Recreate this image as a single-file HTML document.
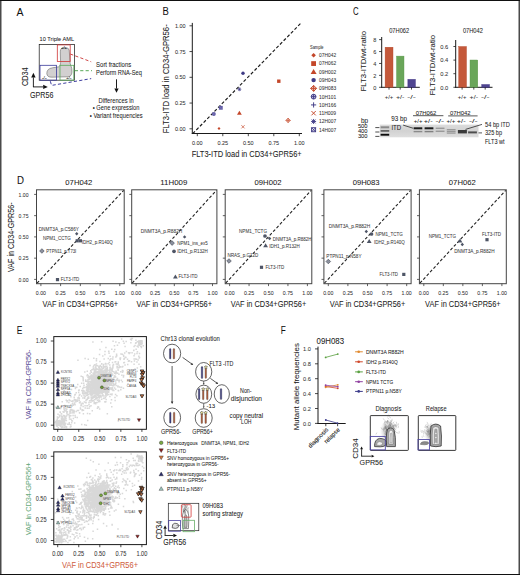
<!DOCTYPE html>
<html><head><meta charset="utf-8"><style>
html,body{margin:0;padding:0;background:#fff;width:520px;height:575px;overflow:hidden}
svg{display:block;font-family:"Liberation Sans", sans-serif}
</style></head><body>
<svg width="520" height="575" viewBox="0 0 520 575">
<rect x="0" y="0" width="520" height="575" fill="#fff"/>
<rect x="0" y="0" width="1.5" height="575" fill="#4a4a4a" stroke="none" stroke-width="0.8"/>
<rect x="518.5" y="0" width="1.5" height="575" fill="#4a4a4a" stroke="none" stroke-width="0.8"/>
<rect x="0" y="0" width="520" height="1" fill="#111" stroke="none" stroke-width="0.8"/>
<rect x="0" y="574" width="520" height="1" fill="#111" stroke="none" stroke-width="0.8"/>
<text x="16.5" y="15.6" font-size="10" text-anchor="start" fill="#111" textLength="7" lengthAdjust="spacingAndGlyphs" stroke="#111" stroke-width="0.05">A</text>
<text x="162.5" y="15.4" font-size="10" text-anchor="start" fill="#111" textLength="6.3" lengthAdjust="spacingAndGlyphs" stroke="#111" stroke-width="0.05">B</text>
<text x="353" y="14.8" font-size="10" text-anchor="start" fill="#111" textLength="5.6" lengthAdjust="spacingAndGlyphs" stroke="#111" stroke-width="0.05">C</text>
<text x="16.9" y="183.8" font-size="10" text-anchor="start" fill="#111" textLength="7" lengthAdjust="spacingAndGlyphs" stroke="#111" stroke-width="0.05">D</text>
<text x="16.7" y="333.6" font-size="10" text-anchor="start" fill="#111" textLength="5.6" lengthAdjust="spacingAndGlyphs" stroke="#111" stroke-width="0.05">E</text>
<text x="280.8" y="333.6" font-size="10" text-anchor="start" fill="#111" textLength="5" lengthAdjust="spacingAndGlyphs" stroke="#111" stroke-width="0.05">F</text>
<text x="56.8" y="40.92" font-size="6.16" text-anchor="middle" fill="#222" textLength="34.6" lengthAdjust="spacingAndGlyphs" stroke="#222" stroke-width="0.05">10 Triple AML</text>
<path d="M60.7,49.5 Q61,47.6 64.5,47.4 Q68.8,47.4 69.2,50 L70.2,63.5 Q72.4,69 72,72 Q71.6,76.5 68,76.8 L52,77.2 Q47,77.4 46.8,73.4 Q46.8,68.6 52.5,67.8 L58.5,66.8 Q60.8,66 60.6,62.5 L60.3,53 Q60.2,51 60.7,49.5 Z" fill="#d2d0d0" stroke="#444" stroke-width="0.45"/>
<rect x="39.2" y="44.4" width="35.4" height="35.8" fill="none" stroke="#111" stroke-width="0.7"/>
<rect x="57.3" y="44.9" width="12.9" height="16.5" fill="none" stroke="#d03535" stroke-width="0.8"/>
<rect x="40" y="65.3" width="16.5" height="14.9" fill="none" stroke="#3a3a9a" stroke-width="0.8"/>
<rect x="60" y="65.3" width="13.8" height="14.9" fill="none" stroke="#5aaa5a" stroke-width="0.8"/>
<text x="64" y="49.49" font-size="3.3" text-anchor="middle" fill="#111" textLength="5.5" lengthAdjust="spacingAndGlyphs" stroke="#111" stroke-width="0.05">+/+</text>
<text x="44.3" y="78.59" font-size="3.3" text-anchor="middle" fill="#333" textLength="4.6" lengthAdjust="spacingAndGlyphs" stroke="#333" stroke-width="0.05">-/-</text>
<text x="68.8" y="78.99" font-size="3.3" text-anchor="middle" fill="#333" textLength="5" lengthAdjust="spacingAndGlyphs" stroke="#333" stroke-width="0.05">+/-</text>
<line x1="33.4" y1="87" x2="33.4" y2="77.4" stroke="#111" stroke-width="0.9"/>
<polygon points="33.4,72.8 35.6,77.4 31.2,77.4" fill="#111" stroke="none" stroke-width="0.5"/>
<line x1="33" y1="86.9" x2="43.2" y2="86.9" stroke="#111" stroke-width="0.9"/>
<polygon points="47.8,86.9 43.2,89.1 43.2,84.7" fill="#111" stroke="none" stroke-width="0.5"/>
<text x="0" y="3.01" font-size="8.36" text-anchor="middle" fill="#222" transform="translate(25 76.7) rotate(-90)" stroke="#222" stroke-width="0.05" textLength="18.8" lengthAdjust="spacingAndGlyphs">CD34</text>
<text x="30" y="97.61" font-size="8.36" text-anchor="start" fill="#222" textLength="23.4" lengthAdjust="spacingAndGlyphs" stroke="#222" stroke-width="0.05">GPR56</text>
<line x1="70.2" y1="54" x2="91.2" y2="61.8" stroke="#d04848" stroke-width="1" stroke-dasharray="3.2,2.2"/>
<line x1="74.8" y1="70.7" x2="92" y2="70.7" stroke="#58a858" stroke-width="1" stroke-dasharray="3.2,2.2"/>
<path d="M50.3,81.2 L51.6,85.4 L91.2,78.6" fill="none" stroke="#4040a0" stroke-width="1" stroke-dasharray="3.2,2.2"/>
<text x="96.1" y="67.28" font-size="6.6" text-anchor="start" fill="#222" textLength="35.1" lengthAdjust="spacingAndGlyphs" stroke="#222" stroke-width="0.05">Sort fractions</text>
<text x="96.1" y="75.18" font-size="6.6" text-anchor="start" fill="#222" textLength="45.7" lengthAdjust="spacingAndGlyphs" stroke="#222" stroke-width="0.05">Perform RNA-Seq</text>
<line x1="116.5" y1="79.3" x2="116.5" y2="88.6" stroke="#111" stroke-width="0.95"/>
<polygon points="116.5,92.8 114.4,88.6 118.6,88.6" fill="#111" stroke="none" stroke-width="0.5"/>
<text x="116.1" y="102.58" font-size="6.6" text-anchor="middle" fill="#222" textLength="35.1" lengthAdjust="spacingAndGlyphs" stroke="#222" stroke-width="0.05">Differences in</text>
<text x="116.1" y="110.28" font-size="6.6" text-anchor="middle" fill="#222" textLength="46.6" lengthAdjust="spacingAndGlyphs" stroke="#222" stroke-width="0.05">• Gene expression</text>
<text x="116.2" y="117.98" font-size="6.6" text-anchor="middle" fill="#222" textLength="52.8" lengthAdjust="spacingAndGlyphs" stroke="#222" stroke-width="0.05">• Variant frequencies</text>
<line x1="192.3" y1="22.9" x2="192.3" y2="134" stroke="#1a1a1a" stroke-width="1"/>
<line x1="191.8" y1="133.5" x2="302" y2="133.5" stroke="#1a1a1a" stroke-width="1"/>
<line x1="189.5" y1="128.8" x2="192.3" y2="128.8" stroke="#1a1a1a" stroke-width="0.8"/>
<text x="185.6" y="130.98" font-size="6.05" text-anchor="end" fill="#333" textLength="10.7" lengthAdjust="spacingAndGlyphs" stroke="#333" stroke-width="0.05">0.00</text>
<line x1="197.3" y1="133.5" x2="197.3" y2="136.2" stroke="#1a1a1a" stroke-width="0.8"/>
<text x="197.3" y="144.98" font-size="6.05" text-anchor="middle" fill="#333" textLength="10.7" lengthAdjust="spacingAndGlyphs" stroke="#333" stroke-width="0.05">0.00</text>
<line x1="189.5" y1="103.05" x2="192.3" y2="103.05" stroke="#1a1a1a" stroke-width="0.8"/>
<text x="185.6" y="105.23" font-size="6.05" text-anchor="end" fill="#333" textLength="10.7" lengthAdjust="spacingAndGlyphs" stroke="#333" stroke-width="0.05">0.25</text>
<line x1="222.8" y1="133.5" x2="222.8" y2="136.2" stroke="#1a1a1a" stroke-width="0.8"/>
<text x="222.8" y="144.98" font-size="6.05" text-anchor="middle" fill="#333" textLength="10.7" lengthAdjust="spacingAndGlyphs" stroke="#333" stroke-width="0.05">0.25</text>
<line x1="189.5" y1="77.3" x2="192.3" y2="77.3" stroke="#1a1a1a" stroke-width="0.8"/>
<text x="185.6" y="79.48" font-size="6.05" text-anchor="end" fill="#333" textLength="10.7" lengthAdjust="spacingAndGlyphs" stroke="#333" stroke-width="0.05">0.50</text>
<line x1="248.3" y1="133.5" x2="248.3" y2="136.2" stroke="#1a1a1a" stroke-width="0.8"/>
<text x="248.3" y="144.98" font-size="6.05" text-anchor="middle" fill="#333" textLength="10.7" lengthAdjust="spacingAndGlyphs" stroke="#333" stroke-width="0.05">0.50</text>
<line x1="189.5" y1="51.55" x2="192.3" y2="51.55" stroke="#1a1a1a" stroke-width="0.8"/>
<text x="185.6" y="53.73" font-size="6.05" text-anchor="end" fill="#333" textLength="10.7" lengthAdjust="spacingAndGlyphs" stroke="#333" stroke-width="0.05">0.75</text>
<line x1="273.8" y1="133.5" x2="273.8" y2="136.2" stroke="#1a1a1a" stroke-width="0.8"/>
<text x="273.8" y="144.98" font-size="6.05" text-anchor="middle" fill="#333" textLength="10.7" lengthAdjust="spacingAndGlyphs" stroke="#333" stroke-width="0.05">0.75</text>
<line x1="189.5" y1="25.8" x2="192.3" y2="25.8" stroke="#1a1a1a" stroke-width="0.8"/>
<text x="185.6" y="27.98" font-size="6.05" text-anchor="end" fill="#333" textLength="10.7" lengthAdjust="spacingAndGlyphs" stroke="#333" stroke-width="0.05">1.00</text>
<line x1="299.3" y1="133.5" x2="299.3" y2="136.2" stroke="#1a1a1a" stroke-width="0.8"/>
<text x="299.3" y="144.98" font-size="6.05" text-anchor="middle" fill="#333" textLength="10.7" lengthAdjust="spacingAndGlyphs" stroke="#333" stroke-width="0.05">1.00</text>
<text x="191.7" y="156.73" font-size="8.14" text-anchor="start" fill="#222" textLength="110" lengthAdjust="spacingAndGlyphs" stroke="#222" stroke-width="0.05">FLT3-ITD load in CD34+GPR56+</text>
<text x="0" y="2.93" font-size="8.14" text-anchor="middle" fill="#222" transform="translate(166.2 78.8) rotate(-90)" stroke="#222" stroke-width="0.05" textLength="109" lengthAdjust="spacingAndGlyphs">FLT3-ITD load in CD34-GPR56-</text>
<line x1="192.7" y1="133.7" x2="301.3" y2="22.7" stroke="#1a1a1a" stroke-width="1.15" stroke-dasharray="3.2,2"/>
<polygon points="219,127 220.5,128.5 219,130 217.5,128.5" fill="#c4472a" stroke="none" stroke-width="0.5"/>
<rect x="277.1" y="79.5" width="3.4" height="3.4" fill="#c4472a" stroke="none" stroke-width="0.8"/>
<polygon points="239.4,110.8 241.8,114.8 237,114.8" fill="#c4472a" stroke="none" stroke-width="0.5"/>
<circle cx="243" cy="73.3" r="1.7" fill="#3f3a85" stroke="none" stroke-width="0.5"/>
<polygon points="288.1,118.1 290.4,120.4 288.1,122.7 285.8,120.4" fill="#f0c8b8" stroke="#c4472a" stroke-width="0.6"/>
<line x1="285.8" y1="120.4" x2="290.4" y2="120.4" stroke="#c4472a" stroke-width="0.6"/>
<line x1="288.1" y1="118.1" x2="288.1" y2="122.7" stroke="#c4472a" stroke-width="0.6"/>
<rect x="218.9" y="105.9" width="3.8" height="3.8" fill="#5d57a2" stroke="none" stroke-width="0.8"/>
<line x1="219.2" y1="106.2" x2="222.4" y2="109.4" stroke="#8a85c0" stroke-width="0.4"/>
<line x1="219.2" y1="109.4" x2="222.4" y2="106.2" stroke="#8a85c0" stroke-width="0.4"/>
<circle cx="213.8" cy="114" r="1.95" fill="#5d57a2" stroke="none" stroke-width="0.5"/>
<line x1="212.1" y1="114" x2="215.5" y2="114" stroke="#8a85c0" stroke-width="0.4"/>
<line x1="213.8" y1="112.3" x2="213.8" y2="115.7" stroke="#8a85c0" stroke-width="0.4"/>
<line x1="241.4" y1="125.2" x2="244.6" y2="128.4" stroke="#c4472a" stroke-width="0.7"/>
<line x1="241.4" y1="128.4" x2="244.6" y2="125.2" stroke="#c4472a" stroke-width="0.7"/>
<line x1="237.5" y1="89.3" x2="241.3" y2="89.3" stroke="#3f3a85" stroke-width="0.7"/>
<line x1="239.4" y1="87.4" x2="239.4" y2="91.2" stroke="#3f3a85" stroke-width="0.7"/>
<line x1="237.97" y1="87.88" x2="240.83" y2="90.72" stroke="#3f3a85" stroke-width="0.7"/>
<line x1="237.97" y1="90.72" x2="240.83" y2="87.88" stroke="#3f3a85" stroke-width="0.7"/>
<text x="310" y="48.58" font-size="5.5" text-anchor="start" fill="#333" textLength="13.5" lengthAdjust="spacingAndGlyphs" stroke="#333" stroke-width="0.05">Sample</text>
<polygon points="313.6,53 315.9,55.3 313.6,57.6 311.3,55.3" fill="#c4472a" stroke="none" stroke-width="0.5"/>
<text x="319.1" y="57.2" font-size="5.28" text-anchor="start" fill="#333" textLength="17" lengthAdjust="spacingAndGlyphs" stroke="#333" stroke-width="0.05">07H042</text>
<rect x="311.2" y="61.17" width="4.8" height="4.8" fill="#c4472a" stroke="none" stroke-width="0.8"/>
<text x="319.1" y="65.47" font-size="5.28" text-anchor="start" fill="#333" textLength="17" lengthAdjust="spacingAndGlyphs" stroke="#333" stroke-width="0.05">07H062</text>
<polygon points="313.6,68.97 316.6,73.97 310.6,73.97" fill="#c4472a" stroke="none" stroke-width="0.5"/>
<text x="319.1" y="73.74" font-size="5.28" text-anchor="start" fill="#333" textLength="17" lengthAdjust="spacingAndGlyphs" stroke="#333" stroke-width="0.05">09H002</text>
<circle cx="313.6" cy="80.11" r="2.2" fill="#3f3a85" stroke="none" stroke-width="0.5"/>
<text x="319.1" y="82.01" font-size="5.28" text-anchor="start" fill="#333" textLength="17" lengthAdjust="spacingAndGlyphs" stroke="#333" stroke-width="0.05">09H043</text>
<polygon points="313.6,85.38 316.6,88.38 313.6,91.38 310.6,88.38" fill="#f0c8b8" stroke="#c4472a" stroke-width="0.95"/>
<line x1="310.6" y1="88.38" x2="316.6" y2="88.38" stroke="#c4472a" stroke-width="0.95"/>
<line x1="313.6" y1="85.38" x2="313.6" y2="91.38" stroke="#c4472a" stroke-width="0.95"/>
<text x="319.1" y="90.28" font-size="5.28" text-anchor="start" fill="#333" textLength="17" lengthAdjust="spacingAndGlyphs" stroke="#333" stroke-width="0.05">09H083</text>
<circle cx="313.6" cy="96.65" r="2.4" fill="#c8c6e4" stroke="#3f3a85" stroke-width="0.95"/>
<line x1="311.2" y1="96.65" x2="316" y2="96.65" stroke="#3f3a85" stroke-width="0.95"/>
<line x1="313.6" y1="94.25" x2="313.6" y2="99.05" stroke="#3f3a85" stroke-width="0.95"/>
<text x="319.1" y="98.55" font-size="5.28" text-anchor="start" fill="#333" textLength="17" lengthAdjust="spacingAndGlyphs" stroke="#333" stroke-width="0.05">10H101</text>
<line x1="311" y1="104.92" x2="316.2" y2="104.92" stroke="#3f3a85" stroke-width="0.95"/>
<line x1="313.6" y1="102.32" x2="313.6" y2="107.52" stroke="#3f3a85" stroke-width="0.95"/>
<text x="319.1" y="106.82" font-size="5.28" text-anchor="start" fill="#333" textLength="17" lengthAdjust="spacingAndGlyphs" stroke="#333" stroke-width="0.05">10H166</text>
<line x1="311.44" y1="111.03" x2="315.76" y2="115.35" stroke="#c4472a" stroke-width="0.95"/>
<line x1="311.44" y1="115.35" x2="315.76" y2="111.03" stroke="#c4472a" stroke-width="0.95"/>
<text x="319.1" y="115.09" font-size="5.28" text-anchor="start" fill="#333" textLength="17" lengthAdjust="spacingAndGlyphs" stroke="#333" stroke-width="0.05">11H009</text>
<line x1="311.1" y1="121.46" x2="316.1" y2="121.46" stroke="#3f3a85" stroke-width="0.95"/>
<line x1="313.6" y1="118.96" x2="313.6" y2="123.96" stroke="#3f3a85" stroke-width="0.95"/>
<line x1="311.73" y1="119.58" x2="315.48" y2="123.33" stroke="#3f3a85" stroke-width="0.95"/>
<line x1="311.73" y1="123.33" x2="315.48" y2="119.58" stroke="#3f3a85" stroke-width="0.95"/>
<text x="319.1" y="123.36" font-size="5.28" text-anchor="start" fill="#333" textLength="17" lengthAdjust="spacingAndGlyphs" stroke="#333" stroke-width="0.05">12H007</text>
<rect x="311.6" y="127.73" width="4" height="4" fill="none" stroke="#3f3a85" stroke-width="0.95"/>
<line x1="311.6" y1="127.73" x2="315.6" y2="131.73" stroke="#3f3a85" stroke-width="0.95"/>
<line x1="311.6" y1="131.73" x2="315.6" y2="127.73" stroke="#3f3a85" stroke-width="0.95"/>
<text x="319.1" y="131.63" font-size="5.28" text-anchor="start" fill="#333" textLength="17" lengthAdjust="spacingAndGlyphs" stroke="#333" stroke-width="0.05">14H007</text>
<text x="399.2" y="33.28" font-size="6.6" text-anchor="middle" fill="#222" textLength="20" lengthAdjust="spacingAndGlyphs" stroke="#222" stroke-width="0.05">07H062</text>
<line x1="381.7" y1="37" x2="381.7" y2="87.8" stroke="#1a1a1a" stroke-width="1"/>
<line x1="381.2" y1="87.3" x2="419.8" y2="87.3" stroke="#1a1a1a" stroke-width="1"/>
<line x1="379.1" y1="87.3" x2="381.7" y2="87.3" stroke="#1a1a1a" stroke-width="0.8"/>
<text x="376.4" y="89.52" font-size="6.16" text-anchor="end" fill="#333" textLength="3.11" lengthAdjust="spacingAndGlyphs" stroke="#333" stroke-width="0.05">0</text>
<line x1="379.1" y1="75.38" x2="381.7" y2="75.38" stroke="#1a1a1a" stroke-width="0.8"/>
<text x="376.4" y="77.6" font-size="6.16" text-anchor="end" fill="#333" textLength="3.11" lengthAdjust="spacingAndGlyphs" stroke="#333" stroke-width="0.05">2</text>
<line x1="379.1" y1="63.46" x2="381.7" y2="63.46" stroke="#1a1a1a" stroke-width="0.8"/>
<text x="376.4" y="65.68" font-size="6.16" text-anchor="end" fill="#333" textLength="3.11" lengthAdjust="spacingAndGlyphs" stroke="#333" stroke-width="0.05">4</text>
<line x1="379.1" y1="51.54" x2="381.7" y2="51.54" stroke="#1a1a1a" stroke-width="0.8"/>
<text x="376.4" y="53.76" font-size="6.16" text-anchor="end" fill="#333" textLength="3.11" lengthAdjust="spacingAndGlyphs" stroke="#333" stroke-width="0.05">6</text>
<line x1="379.1" y1="39.62" x2="381.7" y2="39.62" stroke="#1a1a1a" stroke-width="0.8"/>
<text x="376.4" y="41.84" font-size="6.16" text-anchor="end" fill="#333" textLength="3.11" lengthAdjust="spacingAndGlyphs" stroke="#333" stroke-width="0.05">8</text>
<rect x="385.1" y="47.2" width="7.9" height="40.1" fill="#c4583a" stroke="#b5482a" stroke-width="0.4"/>
<rect x="396.5" y="56.1" width="7.5" height="31.2" fill="#6aa65a" stroke="#5c9a4c" stroke-width="0.4"/>
<rect x="407.9" y="79.4" width="7.4" height="7.9" fill="#4f4590" stroke="#3a2f80" stroke-width="0.5"/>
<line x1="389" y1="87.3" x2="389" y2="89.6" stroke="#1a1a1a" stroke-width="0.8"/>
<text x="389" y="98.64" font-size="5.94" text-anchor="middle" fill="#333" textLength="8.5" lengthAdjust="spacingAndGlyphs" stroke="#333" stroke-width="0.05">+/+</text>
<line x1="400.2" y1="87.3" x2="400.2" y2="89.6" stroke="#1a1a1a" stroke-width="0.8"/>
<text x="400.2" y="98.64" font-size="5.94" text-anchor="middle" fill="#333" textLength="8.5" lengthAdjust="spacingAndGlyphs" stroke="#333" stroke-width="0.05">+/-</text>
<line x1="411.5" y1="87.3" x2="411.5" y2="89.6" stroke="#1a1a1a" stroke-width="0.8"/>
<text x="411.5" y="98.64" font-size="5.94" text-anchor="middle" fill="#333" textLength="8.5" lengthAdjust="spacingAndGlyphs" stroke="#333" stroke-width="0.05">-/-</text>
<text x="0" y="2.85" font-size="7.92" text-anchor="middle" fill="#222" transform="translate(362.8 61.2) rotate(-90)" stroke="#222" stroke-width="0.05" textLength="60.6" lengthAdjust="spacingAndGlyphs">FLT3-ITD/wt-ratio</text>
<text x="472.9" y="33.28" font-size="6.6" text-anchor="middle" fill="#222" textLength="20" lengthAdjust="spacingAndGlyphs" stroke="#222" stroke-width="0.05">07H042</text>
<line x1="455.7" y1="40" x2="455.7" y2="87.8" stroke="#1a1a1a" stroke-width="1"/>
<line x1="455.2" y1="87.3" x2="492.5" y2="87.3" stroke="#1a1a1a" stroke-width="1"/>
<line x1="453.4" y1="87.3" x2="455.7" y2="87.3" stroke="#1a1a1a" stroke-width="0.8"/>
<text x="448.3" y="89.52" font-size="6.16" text-anchor="end" fill="#333" textLength="8" lengthAdjust="spacingAndGlyphs" stroke="#333" stroke-width="0.05">0.0</text>
<line x1="453.4" y1="73.7" x2="455.7" y2="73.7" stroke="#1a1a1a" stroke-width="0.8"/>
<text x="448.3" y="75.92" font-size="6.16" text-anchor="end" fill="#333" textLength="8" lengthAdjust="spacingAndGlyphs" stroke="#333" stroke-width="0.05">0.2</text>
<line x1="453.4" y1="60.1" x2="455.7" y2="60.1" stroke="#1a1a1a" stroke-width="0.8"/>
<text x="448.3" y="62.32" font-size="6.16" text-anchor="end" fill="#333" textLength="8" lengthAdjust="spacingAndGlyphs" stroke="#333" stroke-width="0.05">0.4</text>
<line x1="453.4" y1="46.5" x2="455.7" y2="46.5" stroke="#1a1a1a" stroke-width="0.8"/>
<text x="448.3" y="48.72" font-size="6.16" text-anchor="end" fill="#333" textLength="8" lengthAdjust="spacingAndGlyphs" stroke="#333" stroke-width="0.05">0.6</text>
<rect x="458.7" y="46.5" width="7.8" height="40.8" fill="#c4583a" stroke="#b5482a" stroke-width="0.4"/>
<rect x="470" y="60" width="7.8" height="27.3" fill="#6aa65a" stroke="#5c9a4c" stroke-width="0.4"/>
<rect x="481.8" y="84.6" width="7.6" height="2.7" fill="#4f4590" stroke="#3a2f80" stroke-width="0.5"/>
<line x1="462.1" y1="87.3" x2="462.1" y2="89.6" stroke="#1a1a1a" stroke-width="0.8"/>
<text x="462.1" y="98.64" font-size="5.94" text-anchor="middle" fill="#333" textLength="8.5" lengthAdjust="spacingAndGlyphs" stroke="#333" stroke-width="0.05">+/+</text>
<line x1="473.8" y1="87.3" x2="473.8" y2="89.6" stroke="#1a1a1a" stroke-width="0.8"/>
<text x="473.8" y="98.64" font-size="5.94" text-anchor="middle" fill="#333" textLength="8.5" lengthAdjust="spacingAndGlyphs" stroke="#333" stroke-width="0.05">+/-</text>
<line x1="485.2" y1="87.3" x2="485.2" y2="89.6" stroke="#1a1a1a" stroke-width="0.8"/>
<text x="485.2" y="98.64" font-size="5.94" text-anchor="middle" fill="#333" textLength="8.5" lengthAdjust="spacingAndGlyphs" stroke="#333" stroke-width="0.05">-/-</text>
<text x="0" y="2.85" font-size="7.92" text-anchor="middle" fill="#222" transform="translate(432.4 65.1) rotate(-90)" stroke="#222" stroke-width="0.05" textLength="60.6" lengthAdjust="spacingAndGlyphs">FLT3-ITD/wt-ratio</text>
<text x="364.5" y="122.51" font-size="7.26" text-anchor="middle" fill="#222" textLength="7.2" lengthAdjust="spacingAndGlyphs" stroke="#222" stroke-width="0.05">bp</text>
<text x="367.6" y="128.12" font-size="5.61" text-anchor="end" fill="#222" textLength="9.7" lengthAdjust="spacingAndGlyphs" stroke="#222" stroke-width="0.05">500</text>
<text x="367.6" y="133.12" font-size="5.61" text-anchor="end" fill="#222" textLength="9.7" lengthAdjust="spacingAndGlyphs" stroke="#222" stroke-width="0.05">400</text>
<text x="367.6" y="138.42" font-size="5.61" text-anchor="end" fill="#222" textLength="9.7" lengthAdjust="spacingAndGlyphs" stroke="#222" stroke-width="0.05">300</text>
<defs><linearGradient id="gelg" x1="0" y1="0" x2="0" y2="1"><stop offset="0" stop-color="#dcdcdc"/><stop offset="0.5" stop-color="#d2d2d2"/><stop offset="1" stop-color="#dedede"/></linearGradient></defs>
<rect x="379.8" y="124.6" width="98.7" height="12.7" fill="url(#gelg)" stroke="none" stroke-width="0.8"/>
<line x1="375.3" y1="127.6" x2="379.4" y2="127.6" stroke="#222" stroke-width="0.8"/>
<line x1="375.3" y1="132" x2="379.4" y2="132" stroke="#222" stroke-width="0.8"/>
<line x1="375.3" y1="136.4" x2="379.4" y2="136.4" stroke="#222" stroke-width="0.8"/>
<defs><filter id="bl" x="-20%" y="-50%" width="140%" height="200%"><feGaussianBlur stdDeviation="0.35"/></filter></defs>
<g filter="url(#bl)">
<rect x="380.6" y="126.3" width="8.6" height="2" fill="#8a8a8a" stroke="none" stroke-width="0.8"/>
<rect x="380.6" y="130" width="8.6" height="1.8" fill="#666" stroke="none" stroke-width="0.8"/>
<rect x="380.6" y="133.8" width="8.6" height="1.9" fill="#111" stroke="none" stroke-width="0.8"/>
<rect x="413.6" y="127.3" width="8.7" height="2" fill="#1e1e1e" stroke="none" stroke-width="0.8"/>
<rect x="413.6" y="130.9" width="8.7" height="1.4" fill="#8a8a8a" stroke="none" stroke-width="0.8"/>
<rect x="424.6" y="127.3" width="8.8" height="2" fill="#1e1e1e" stroke="none" stroke-width="0.8"/>
<rect x="424.6" y="130.9" width="8.8" height="1.4" fill="#808080" stroke="none" stroke-width="0.8"/>
<rect x="435.7" y="127.6" width="8.8" height="1.4" fill="#9a9a9a" stroke="none" stroke-width="0.8"/>
<rect x="435.7" y="130.6" width="8.8" height="1.4" fill="#9a9a9a" stroke="none" stroke-width="0.8"/>
<rect x="446.8" y="129.2" width="8.8" height="1.2" fill="#8e8e8e" stroke="none" stroke-width="0.8"/>
<rect x="446.8" y="131.2" width="8.8" height="1.2" fill="#8a8a8a" stroke="none" stroke-width="0.8"/>
<rect x="446.8" y="132.8" width="8.8" height="1" fill="#a0a0a0" stroke="none" stroke-width="0.8"/>
<rect x="457.9" y="130" width="9" height="3.4" fill="#3a3a3a" stroke="none" stroke-width="0.8"/>
<rect x="468.1" y="131.4" width="8.8" height="2" fill="#4e4e4e" stroke="none" stroke-width="0.8"/>
</g>
<text x="391.3" y="121.23" font-size="7.04" text-anchor="start" fill="#222" textLength="15.7" lengthAdjust="spacingAndGlyphs" stroke="#222" stroke-width="0.05">93 bp</text>
<text x="391.4" y="129.53" font-size="7.04" text-anchor="start" fill="#222" textLength="9.8" lengthAdjust="spacingAndGlyphs" stroke="#222" stroke-width="0.05">ITD</text>
<line x1="403.1" y1="125.1" x2="413" y2="128.2" stroke="#111" stroke-width="0.7"/>
<text x="426" y="114.72" font-size="6.16" text-anchor="middle" fill="#222" textLength="20.7" lengthAdjust="spacingAndGlyphs" stroke="#222" stroke-width="0.05">07H062</text>
<line x1="413" y1="115.7" x2="443.4" y2="115.7" stroke="#444" stroke-width="0.9"/>
<text x="460.3" y="114.72" font-size="6.16" text-anchor="middle" fill="#222" textLength="20.7" lengthAdjust="spacingAndGlyphs" stroke="#222" stroke-width="0.05">07H042</text>
<line x1="448.2" y1="115.9" x2="477.6" y2="115.9" stroke="#444" stroke-width="0.9"/>
<text x="418.2" y="122.62" font-size="6.16" text-anchor="middle" fill="#222" textLength="8.8" lengthAdjust="spacingAndGlyphs" stroke="#222" stroke-width="0.05">+/+</text>
<text x="428.2" y="122.62" font-size="6.16" text-anchor="middle" fill="#222" textLength="8.8" lengthAdjust="spacingAndGlyphs" stroke="#222" stroke-width="0.05">+/-</text>
<text x="439.8" y="122.62" font-size="6.16" text-anchor="middle" fill="#222" textLength="8.8" lengthAdjust="spacingAndGlyphs" stroke="#222" stroke-width="0.05">-/-</text>
<text x="450.8" y="122.62" font-size="6.16" text-anchor="middle" fill="#222" textLength="8.8" lengthAdjust="spacingAndGlyphs" stroke="#222" stroke-width="0.05">+/+</text>
<text x="461.2" y="122.62" font-size="6.16" text-anchor="middle" fill="#222" textLength="8.8" lengthAdjust="spacingAndGlyphs" stroke="#222" stroke-width="0.05">+/-</text>
<text x="473.3" y="122.62" font-size="6.16" text-anchor="middle" fill="#222" textLength="8.8" lengthAdjust="spacingAndGlyphs" stroke="#222" stroke-width="0.05">-/-</text>
<text x="485" y="126.77" font-size="7.15" text-anchor="start" fill="#222" textLength="24.9" lengthAdjust="spacingAndGlyphs" stroke="#222" stroke-width="0.05">54 bp ITD</text>
<line x1="465.5" y1="129.4" x2="482" y2="124.4" stroke="#111" stroke-width="0.7"/>
<text x="485" y="135.47" font-size="7.15" text-anchor="start" fill="#222" textLength="17" lengthAdjust="spacingAndGlyphs" stroke="#222" stroke-width="0.05">325 bp</text>
<line x1="478.5" y1="132.9" x2="482" y2="132.9" stroke="#111" stroke-width="0.7"/>
<text x="485" y="143.77" font-size="7.15" text-anchor="start" fill="#222" textLength="19.5" lengthAdjust="spacingAndGlyphs" stroke="#222" stroke-width="0.05">FLT3 wt</text>
<text x="78.8" y="184.85" font-size="7.92" text-anchor="middle" fill="#222" textLength="26.9" lengthAdjust="spacingAndGlyphs" stroke="#222" stroke-width="0.05">07H042</text>
<line x1="37" y1="283.2" x2="123.7" y2="190.3" stroke="#222" stroke-width="1.1" stroke-dasharray="3,2"/>
<rect x="36.5" y="189.8" width="87.7" height="93.9" fill="none" stroke="#444" stroke-width="1"/>
<line x1="34.1" y1="279.4" x2="36.5" y2="279.4" stroke="#3a3a3a" stroke-width="0.8"/>
<line x1="40.9" y1="283.7" x2="40.9" y2="286.1" stroke="#3a3a3a" stroke-width="0.8"/>
<text x="40.9" y="294.88" font-size="6.05" text-anchor="middle" fill="#333" textLength="10.2" lengthAdjust="spacingAndGlyphs" stroke="#333" stroke-width="0.05">0.00</text>
<text x="28.5" y="281.62" font-size="6.16" text-anchor="end" fill="#333" textLength="9.9" lengthAdjust="spacingAndGlyphs" stroke="#333" stroke-width="0.05">0.00</text>
<line x1="34.1" y1="258.15" x2="36.5" y2="258.15" stroke="#3a3a3a" stroke-width="0.8"/>
<line x1="60.62" y1="283.7" x2="60.62" y2="286.1" stroke="#3a3a3a" stroke-width="0.8"/>
<text x="60.62" y="294.88" font-size="6.05" text-anchor="middle" fill="#333" textLength="10.2" lengthAdjust="spacingAndGlyphs" stroke="#333" stroke-width="0.05">0.25</text>
<text x="28.5" y="260.37" font-size="6.16" text-anchor="end" fill="#333" textLength="9.9" lengthAdjust="spacingAndGlyphs" stroke="#333" stroke-width="0.05">0.25</text>
<line x1="34.1" y1="236.9" x2="36.5" y2="236.9" stroke="#3a3a3a" stroke-width="0.8"/>
<line x1="80.35" y1="283.7" x2="80.35" y2="286.1" stroke="#3a3a3a" stroke-width="0.8"/>
<text x="80.35" y="294.88" font-size="6.05" text-anchor="middle" fill="#333" textLength="10.2" lengthAdjust="spacingAndGlyphs" stroke="#333" stroke-width="0.05">0.50</text>
<text x="28.5" y="239.12" font-size="6.16" text-anchor="end" fill="#333" textLength="9.9" lengthAdjust="spacingAndGlyphs" stroke="#333" stroke-width="0.05">0.50</text>
<line x1="34.1" y1="215.65" x2="36.5" y2="215.65" stroke="#3a3a3a" stroke-width="0.8"/>
<line x1="100.08" y1="283.7" x2="100.08" y2="286.1" stroke="#3a3a3a" stroke-width="0.8"/>
<text x="100.08" y="294.88" font-size="6.05" text-anchor="middle" fill="#333" textLength="10.2" lengthAdjust="spacingAndGlyphs" stroke="#333" stroke-width="0.05">0.75</text>
<text x="28.5" y="217.87" font-size="6.16" text-anchor="end" fill="#333" textLength="9.9" lengthAdjust="spacingAndGlyphs" stroke="#333" stroke-width="0.05">0.75</text>
<line x1="34.1" y1="194.4" x2="36.5" y2="194.4" stroke="#3a3a3a" stroke-width="0.8"/>
<line x1="119.8" y1="283.7" x2="119.8" y2="286.1" stroke="#3a3a3a" stroke-width="0.8"/>
<text x="119.8" y="294.88" font-size="6.05" text-anchor="middle" fill="#333" textLength="10.2" lengthAdjust="spacingAndGlyphs" stroke="#333" stroke-width="0.05">1.00</text>
<text x="28.5" y="196.62" font-size="6.16" text-anchor="end" fill="#333" textLength="9.9" lengthAdjust="spacingAndGlyphs" stroke="#333" stroke-width="0.05">1.00</text>
<text x="80.35" y="307.25" font-size="8.47" text-anchor="middle" fill="#222" textLength="75.5" lengthAdjust="spacingAndGlyphs" stroke="#222" stroke-width="0.05">VAF in CD34+GPR56+</text>
<text x="173.8" y="184.85" font-size="7.92" text-anchor="middle" fill="#222" textLength="26.9" lengthAdjust="spacingAndGlyphs" stroke="#222" stroke-width="0.05">11H009</text>
<line x1="132.2" y1="283.2" x2="216.4" y2="190.3" stroke="#222" stroke-width="1.1" stroke-dasharray="3,2"/>
<rect x="131.7" y="189.8" width="85.2" height="93.9" fill="none" stroke="#444" stroke-width="1"/>
<line x1="129.3" y1="279.4" x2="131.7" y2="279.4" stroke="#3a3a3a" stroke-width="0.8"/>
<line x1="136.1" y1="283.7" x2="136.1" y2="286.1" stroke="#3a3a3a" stroke-width="0.8"/>
<text x="136.1" y="294.88" font-size="6.05" text-anchor="middle" fill="#333" textLength="10.2" lengthAdjust="spacingAndGlyphs" stroke="#333" stroke-width="0.05">0.00</text>
<line x1="129.3" y1="258.15" x2="131.7" y2="258.15" stroke="#3a3a3a" stroke-width="0.8"/>
<line x1="155.2" y1="283.7" x2="155.2" y2="286.1" stroke="#3a3a3a" stroke-width="0.8"/>
<text x="155.2" y="294.88" font-size="6.05" text-anchor="middle" fill="#333" textLength="10.2" lengthAdjust="spacingAndGlyphs" stroke="#333" stroke-width="0.05">0.25</text>
<line x1="129.3" y1="236.9" x2="131.7" y2="236.9" stroke="#3a3a3a" stroke-width="0.8"/>
<line x1="174.3" y1="283.7" x2="174.3" y2="286.1" stroke="#3a3a3a" stroke-width="0.8"/>
<text x="174.3" y="294.88" font-size="6.05" text-anchor="middle" fill="#333" textLength="10.2" lengthAdjust="spacingAndGlyphs" stroke="#333" stroke-width="0.05">0.50</text>
<line x1="129.3" y1="215.65" x2="131.7" y2="215.65" stroke="#3a3a3a" stroke-width="0.8"/>
<line x1="193.4" y1="283.7" x2="193.4" y2="286.1" stroke="#3a3a3a" stroke-width="0.8"/>
<text x="193.4" y="294.88" font-size="6.05" text-anchor="middle" fill="#333" textLength="10.2" lengthAdjust="spacingAndGlyphs" stroke="#333" stroke-width="0.05">0.75</text>
<line x1="129.3" y1="194.4" x2="131.7" y2="194.4" stroke="#3a3a3a" stroke-width="0.8"/>
<line x1="212.5" y1="283.7" x2="212.5" y2="286.1" stroke="#3a3a3a" stroke-width="0.8"/>
<text x="212.5" y="294.88" font-size="6.05" text-anchor="middle" fill="#333" textLength="10.2" lengthAdjust="spacingAndGlyphs" stroke="#333" stroke-width="0.05">1.00</text>
<text x="174.3" y="307.25" font-size="8.47" text-anchor="middle" fill="#222" textLength="75.5" lengthAdjust="spacingAndGlyphs" stroke="#222" stroke-width="0.05">VAF in CD34+GPR56+</text>
<text x="268" y="184.85" font-size="7.92" text-anchor="middle" fill="#222" textLength="26.9" lengthAdjust="spacingAndGlyphs" stroke="#222" stroke-width="0.05">09H002</text>
<line x1="225.7" y1="283.2" x2="311.3" y2="190.3" stroke="#222" stroke-width="1.1" stroke-dasharray="3,2"/>
<rect x="225.2" y="189.8" width="86.6" height="93.9" fill="none" stroke="#444" stroke-width="1"/>
<line x1="222.8" y1="279.4" x2="225.2" y2="279.4" stroke="#3a3a3a" stroke-width="0.8"/>
<line x1="229.6" y1="283.7" x2="229.6" y2="286.1" stroke="#3a3a3a" stroke-width="0.8"/>
<text x="229.6" y="294.88" font-size="6.05" text-anchor="middle" fill="#333" textLength="10.2" lengthAdjust="spacingAndGlyphs" stroke="#333" stroke-width="0.05">0.00</text>
<line x1="222.8" y1="258.15" x2="225.2" y2="258.15" stroke="#3a3a3a" stroke-width="0.8"/>
<line x1="249.05" y1="283.7" x2="249.05" y2="286.1" stroke="#3a3a3a" stroke-width="0.8"/>
<text x="249.05" y="294.88" font-size="6.05" text-anchor="middle" fill="#333" textLength="10.2" lengthAdjust="spacingAndGlyphs" stroke="#333" stroke-width="0.05">0.25</text>
<line x1="222.8" y1="236.9" x2="225.2" y2="236.9" stroke="#3a3a3a" stroke-width="0.8"/>
<line x1="268.5" y1="283.7" x2="268.5" y2="286.1" stroke="#3a3a3a" stroke-width="0.8"/>
<text x="268.5" y="294.88" font-size="6.05" text-anchor="middle" fill="#333" textLength="10.2" lengthAdjust="spacingAndGlyphs" stroke="#333" stroke-width="0.05">0.50</text>
<line x1="222.8" y1="215.65" x2="225.2" y2="215.65" stroke="#3a3a3a" stroke-width="0.8"/>
<line x1="287.95" y1="283.7" x2="287.95" y2="286.1" stroke="#3a3a3a" stroke-width="0.8"/>
<text x="287.95" y="294.88" font-size="6.05" text-anchor="middle" fill="#333" textLength="10.2" lengthAdjust="spacingAndGlyphs" stroke="#333" stroke-width="0.05">0.75</text>
<line x1="222.8" y1="194.4" x2="225.2" y2="194.4" stroke="#3a3a3a" stroke-width="0.8"/>
<line x1="307.4" y1="283.7" x2="307.4" y2="286.1" stroke="#3a3a3a" stroke-width="0.8"/>
<text x="307.4" y="294.88" font-size="6.05" text-anchor="middle" fill="#333" textLength="10.2" lengthAdjust="spacingAndGlyphs" stroke="#333" stroke-width="0.05">1.00</text>
<text x="268.5" y="307.25" font-size="8.47" text-anchor="middle" fill="#222" textLength="75.5" lengthAdjust="spacingAndGlyphs" stroke="#222" stroke-width="0.05">VAF in CD34+GPR56+</text>
<text x="366.2" y="184.85" font-size="7.92" text-anchor="middle" fill="#222" textLength="26.9" lengthAdjust="spacingAndGlyphs" stroke="#222" stroke-width="0.05">09H083</text>
<line x1="324.4" y1="283.2" x2="410.6" y2="190.3" stroke="#222" stroke-width="1.1" stroke-dasharray="3,2"/>
<rect x="323.9" y="189.8" width="87.2" height="93.9" fill="none" stroke="#444" stroke-width="1"/>
<line x1="321.5" y1="279.4" x2="323.9" y2="279.4" stroke="#3a3a3a" stroke-width="0.8"/>
<line x1="328.3" y1="283.7" x2="328.3" y2="286.1" stroke="#3a3a3a" stroke-width="0.8"/>
<text x="328.3" y="294.88" font-size="6.05" text-anchor="middle" fill="#333" textLength="10.2" lengthAdjust="spacingAndGlyphs" stroke="#333" stroke-width="0.05">0.00</text>
<line x1="321.5" y1="258.15" x2="323.9" y2="258.15" stroke="#3a3a3a" stroke-width="0.8"/>
<line x1="347.9" y1="283.7" x2="347.9" y2="286.1" stroke="#3a3a3a" stroke-width="0.8"/>
<text x="347.9" y="294.88" font-size="6.05" text-anchor="middle" fill="#333" textLength="10.2" lengthAdjust="spacingAndGlyphs" stroke="#333" stroke-width="0.05">0.25</text>
<line x1="321.5" y1="236.9" x2="323.9" y2="236.9" stroke="#3a3a3a" stroke-width="0.8"/>
<line x1="367.5" y1="283.7" x2="367.5" y2="286.1" stroke="#3a3a3a" stroke-width="0.8"/>
<text x="367.5" y="294.88" font-size="6.05" text-anchor="middle" fill="#333" textLength="10.2" lengthAdjust="spacingAndGlyphs" stroke="#333" stroke-width="0.05">0.50</text>
<line x1="321.5" y1="215.65" x2="323.9" y2="215.65" stroke="#3a3a3a" stroke-width="0.8"/>
<line x1="387.1" y1="283.7" x2="387.1" y2="286.1" stroke="#3a3a3a" stroke-width="0.8"/>
<text x="387.1" y="294.88" font-size="6.05" text-anchor="middle" fill="#333" textLength="10.2" lengthAdjust="spacingAndGlyphs" stroke="#333" stroke-width="0.05">0.75</text>
<line x1="321.5" y1="194.4" x2="323.9" y2="194.4" stroke="#3a3a3a" stroke-width="0.8"/>
<line x1="406.7" y1="283.7" x2="406.7" y2="286.1" stroke="#3a3a3a" stroke-width="0.8"/>
<text x="406.7" y="294.88" font-size="6.05" text-anchor="middle" fill="#333" textLength="10.2" lengthAdjust="spacingAndGlyphs" stroke="#333" stroke-width="0.05">1.00</text>
<text x="367.5" y="307.25" font-size="8.47" text-anchor="middle" fill="#222" textLength="75.5" lengthAdjust="spacingAndGlyphs" stroke="#222" stroke-width="0.05">VAF in CD34+GPR56+</text>
<text x="462.3" y="184.85" font-size="7.92" text-anchor="middle" fill="#222" textLength="26.9" lengthAdjust="spacingAndGlyphs" stroke="#222" stroke-width="0.05">07H062</text>
<line x1="419.9" y1="283.2" x2="505.8" y2="190.3" stroke="#222" stroke-width="1.1" stroke-dasharray="3,2"/>
<rect x="419.4" y="189.8" width="86.9" height="93.9" fill="none" stroke="#444" stroke-width="1"/>
<line x1="417" y1="279.4" x2="419.4" y2="279.4" stroke="#3a3a3a" stroke-width="0.8"/>
<line x1="423.8" y1="283.7" x2="423.8" y2="286.1" stroke="#3a3a3a" stroke-width="0.8"/>
<text x="423.8" y="294.88" font-size="6.05" text-anchor="middle" fill="#333" textLength="10.2" lengthAdjust="spacingAndGlyphs" stroke="#333" stroke-width="0.05">0.00</text>
<line x1="417" y1="258.15" x2="419.4" y2="258.15" stroke="#3a3a3a" stroke-width="0.8"/>
<line x1="443.32" y1="283.7" x2="443.32" y2="286.1" stroke="#3a3a3a" stroke-width="0.8"/>
<text x="443.32" y="294.88" font-size="6.05" text-anchor="middle" fill="#333" textLength="10.2" lengthAdjust="spacingAndGlyphs" stroke="#333" stroke-width="0.05">0.25</text>
<line x1="417" y1="236.9" x2="419.4" y2="236.9" stroke="#3a3a3a" stroke-width="0.8"/>
<line x1="462.85" y1="283.7" x2="462.85" y2="286.1" stroke="#3a3a3a" stroke-width="0.8"/>
<text x="462.85" y="294.88" font-size="6.05" text-anchor="middle" fill="#333" textLength="10.2" lengthAdjust="spacingAndGlyphs" stroke="#333" stroke-width="0.05">0.50</text>
<line x1="417" y1="215.65" x2="419.4" y2="215.65" stroke="#3a3a3a" stroke-width="0.8"/>
<line x1="482.38" y1="283.7" x2="482.38" y2="286.1" stroke="#3a3a3a" stroke-width="0.8"/>
<text x="482.38" y="294.88" font-size="6.05" text-anchor="middle" fill="#333" textLength="10.2" lengthAdjust="spacingAndGlyphs" stroke="#333" stroke-width="0.05">0.75</text>
<line x1="417" y1="194.4" x2="419.4" y2="194.4" stroke="#3a3a3a" stroke-width="0.8"/>
<line x1="501.9" y1="283.7" x2="501.9" y2="286.1" stroke="#3a3a3a" stroke-width="0.8"/>
<text x="501.9" y="294.88" font-size="6.05" text-anchor="middle" fill="#333" textLength="10.2" lengthAdjust="spacingAndGlyphs" stroke="#333" stroke-width="0.05">1.00</text>
<text x="462.85" y="307.25" font-size="8.47" text-anchor="middle" fill="#222" textLength="75.5" lengthAdjust="spacingAndGlyphs" stroke="#222" stroke-width="0.05">VAF in CD34+GPR56+</text>
<text x="0" y="3.05" font-size="8.47" text-anchor="middle" fill="#222" transform="translate(10.6 237.2) rotate(-90)" stroke="#222" stroke-width="0.05" textLength="69.5" lengthAdjust="spacingAndGlyphs">VAF in CD34-GPR56-</text>
<polygon points="76.7,232 78.4,233.7 76.7,235.4 75,233.7" fill="#4e5566" stroke="none" stroke-width="0.5"/>
<text x="79" y="230.58" font-size="4.95" text-anchor="end" fill="#3a3a3a" textLength="40.3" lengthAdjust="spacingAndGlyphs" stroke="#3a3a3a" stroke-width="0.05">DNMT3A_p.C586Y</text>
<rect x="75.6" y="239.2" width="3.2" height="3.2" fill="#4e5566" stroke="none" stroke-width="0.8"/>
<text x="70.8" y="239.68" font-size="4.95" text-anchor="end" fill="#3a3a3a" textLength="27.8" lengthAdjust="spacingAndGlyphs" stroke="#3a3a3a" stroke-width="0.05">NPM1_CCTG</text>
<rect x="78.8" y="239.2" width="3.2" height="3.2" fill="#4e5566" stroke="none" stroke-width="0.8"/>
<text x="81.8" y="243.88" font-size="4.95" text-anchor="start" fill="#3a3a3a" textLength="31" lengthAdjust="spacingAndGlyphs" stroke="#3a3a3a" stroke-width="0.05">IDH2_p.R140Q</text>
<polygon points="41.9,248.7 44.2,251 41.9,253.3 39.6,251" fill="#8c919e" stroke="#3e4350" stroke-width="0.6"/>
<text x="46.3" y="252.78" font-size="4.95" text-anchor="start" fill="#3a3a3a" textLength="30" lengthAdjust="spacingAndGlyphs" stroke="#3a3a3a" stroke-width="0.05">PTPN11_p.T73I</text>
<rect x="55.9" y="278" width="3.2" height="3.2" fill="#4e5566" stroke="none" stroke-width="0.8"/>
<text x="60.8" y="281.38" font-size="4.95" text-anchor="start" fill="#3a3a3a" textLength="18.5" lengthAdjust="spacingAndGlyphs" stroke="#3a3a3a" stroke-width="0.05">FLT3-ITD</text>
<polygon points="184.6,235.2 186.3,236.9 184.6,238.6 182.9,236.9" fill="#4e5566" stroke="none" stroke-width="0.5"/>
<text x="182.3" y="233.48" font-size="4.95" text-anchor="end" fill="#3a3a3a" textLength="41.5" lengthAdjust="spacingAndGlyphs" stroke="#3a3a3a" stroke-width="0.05">DNMT3A_p.R882H</text>
<polygon points="172.1,240.8 174.4,243.1 172.1,245.4 169.8,243.1" fill="#8c919e" stroke="#3e4350" stroke-width="0.6"/>
<text x="177.3" y="244.88" font-size="4.95" text-anchor="start" fill="#3a3a3a" textLength="30.52" lengthAdjust="spacingAndGlyphs" stroke="#3a3a3a" stroke-width="0.05">NPM1_ins_ex5</text>
<circle cx="174" cy="251.3" r="1.85" fill="#4e5566" stroke="none" stroke-width="0.5"/>
<text x="177.3" y="253.08" font-size="4.95" text-anchor="start" fill="#3a3a3a" textLength="30.52" lengthAdjust="spacingAndGlyphs" stroke="#3a3a3a" stroke-width="0.05">IDH1_p.R132H</text>
<polygon points="175.4,274.4 177.8,278.4 173,278.4" fill="#4e5566" stroke="none" stroke-width="0.5"/>
<text x="178.5" y="278.48" font-size="4.95" text-anchor="start" fill="#3a3a3a" textLength="18.92" lengthAdjust="spacingAndGlyphs" stroke="#3a3a3a" stroke-width="0.05">FLT3-ITD</text>
<circle cx="265" cy="236" r="1.85" fill="#4e5566" stroke="none" stroke-width="0.5"/>
<text x="267" y="232.98" font-size="4.95" text-anchor="end" fill="#3a3a3a" textLength="28" lengthAdjust="spacingAndGlyphs" stroke="#3a3a3a" stroke-width="0.05">NPM1_TCTG</text>
<polygon points="269.6,236.8 271.3,238.5 269.6,240.2 267.9,238.5" fill="#4e5566" stroke="none" stroke-width="0.5"/>
<text x="272.7" y="240.58" font-size="4.95" text-anchor="start" fill="#3a3a3a" textLength="38.77" lengthAdjust="spacingAndGlyphs" stroke="#3a3a3a" stroke-width="0.05">DNMT3A_p.R882H</text>
<polygon points="265.6,243.3 268,247.3 263.2,247.3" fill="#4e5566" stroke="none" stroke-width="0.5"/>
<text x="269.2" y="247.98" font-size="4.95" text-anchor="start" fill="#3a3a3a" textLength="30.52" lengthAdjust="spacingAndGlyphs" stroke="#3a3a3a" stroke-width="0.05">IDH1_p.R132H</text>
<polygon points="229,258.7 231.3,261 229,263.3 226.7,261" fill="#8c919e" stroke="#3e4350" stroke-width="0.6"/>
<text x="227.5" y="257.38" font-size="4.95" text-anchor="start" fill="#3a3a3a" textLength="30.8" lengthAdjust="spacingAndGlyphs" stroke="#3a3a3a" stroke-width="0.05">NRAS_p.G12D</text>
<rect x="259.9" y="265.7" width="3.2" height="3.2" fill="#4e5566" stroke="none" stroke-width="0.8"/>
<text x="265.4" y="269.08" font-size="4.95" text-anchor="start" fill="#3a3a3a" textLength="18.92" lengthAdjust="spacingAndGlyphs" stroke="#3a3a3a" stroke-width="0.05">FLT3-ITD</text>
<polygon points="366.3,229.8 368,231.5 366.3,233.2 364.6,231.5" fill="#4e5566" stroke="none" stroke-width="0.5"/>
<text x="370.2" y="227.78" font-size="4.95" text-anchor="end" fill="#3a3a3a" textLength="41.4" lengthAdjust="spacingAndGlyphs" stroke="#3a3a3a" stroke-width="0.05">DNMT3A_p.R882H</text>
<circle cx="371.5" cy="234" r="1.85" fill="#4e5566" stroke="none" stroke-width="0.5"/>
<text x="375.4" y="236.38" font-size="4.95" text-anchor="start" fill="#3a3a3a" textLength="27.25" lengthAdjust="spacingAndGlyphs" stroke="#3a3a3a" stroke-width="0.05">NPM1_TCTG</text>
<polygon points="369.2,238.9 371.6,242.9 366.8,242.9" fill="#4e5566" stroke="none" stroke-width="0.5"/>
<text x="374" y="243.68" font-size="4.95" text-anchor="start" fill="#3a3a3a" textLength="30.77" lengthAdjust="spacingAndGlyphs" stroke="#3a3a3a" stroke-width="0.05">IDH2_p.R140Q</text>
<polygon points="328.3,259.2 330.6,261.5 328.3,263.8 326,261.5" fill="#8c919e" stroke="#3e4350" stroke-width="0.6"/>
<text x="326.3" y="257.98" font-size="4.95" text-anchor="start" fill="#3a3a3a" textLength="35.2" lengthAdjust="spacingAndGlyphs" stroke="#3a3a3a" stroke-width="0.05">PTPN11_p.N58Y</text>
<rect x="402.2" y="272.8" width="3.2" height="3.2" fill="#4e5566" stroke="none" stroke-width="0.8"/>
<text x="398" y="276.18" font-size="4.95" text-anchor="end" fill="#3a3a3a" textLength="18.4" lengthAdjust="spacingAndGlyphs" stroke="#3a3a3a" stroke-width="0.05">FLT3-ITD</text>
<polygon points="460,238.5 462.4,242.5 457.6,242.5" fill="#4e5566" stroke="none" stroke-width="0.5"/>
<text x="456" y="237.98" font-size="4.95" text-anchor="end" fill="#3a3a3a" textLength="27.2" lengthAdjust="spacingAndGlyphs" stroke="#3a3a3a" stroke-width="0.05">NPM1_TCTG</text>
<polygon points="462.3,242.8 464,244.5 462.3,246.2 460.6,244.5" fill="#4e5566" stroke="none" stroke-width="0.5"/>
<text x="454.2" y="252.58" font-size="4.95" text-anchor="start" fill="#3a3a3a" textLength="40.4" lengthAdjust="spacingAndGlyphs" stroke="#3a3a3a" stroke-width="0.05">DNMT3A_p.R882H</text>
<rect x="485.4" y="238.1" width="3.2" height="3.2" fill="#4e5566" stroke="none" stroke-width="0.8"/>
<text x="482" y="236.38" font-size="4.95" text-anchor="start" fill="#3a3a3a" textLength="18.9" lengthAdjust="spacingAndGlyphs" stroke="#3a3a3a" stroke-width="0.05">FLT3-ITD</text>
<path d="M90.29 381.87h1.5v1.5h-1.5zM106.17 384.33h1.5v1.5h-1.5zM89.54 385.52h1.5v1.5h-1.5zM102.47 372.89h1.5v1.5h-1.5zM90.35 394.79h1.5v1.5h-1.5zM104.1 377.27h1.5v1.5h-1.5zM110.03 371.68h1.5v1.5h-1.5zM98.32 384.68h1.5v1.5h-1.5zM117.45 379.45h1.5v1.5h-1.5zM93.43 392.73h1.5v1.5h-1.5zM99.73 381.03h1.5v1.5h-1.5zM96.58 383.52h1.5v1.5h-1.5zM101 376.44h1.5v1.5h-1.5zM106.9 378.53h1.5v1.5h-1.5zM86.24 380.5h1.5v1.5h-1.5zM88.89 386.52h1.5v1.5h-1.5zM88.5 385.28h1.5v1.5h-1.5zM93.48 382.25h1.5v1.5h-1.5zM122.67 376.13h1.5v1.5h-1.5zM105.08 390.91h1.5v1.5h-1.5zM96.99 377.8h1.5v1.5h-1.5zM98.39 379.67h1.5v1.5h-1.5zM99.79 389.93h1.5v1.5h-1.5zM103.08 387.51h1.5v1.5h-1.5zM112.45 382.52h1.5v1.5h-1.5zM103.96 380.96h1.5v1.5h-1.5zM105.87 385.11h1.5v1.5h-1.5zM106.2 381.31h1.5v1.5h-1.5zM108.09 374.99h1.5v1.5h-1.5zM100.06 388.11h1.5v1.5h-1.5zM104.55 377.19h1.5v1.5h-1.5zM110.8 381.99h1.5v1.5h-1.5zM103.02 377.31h1.5v1.5h-1.5zM101.08 380.17h1.5v1.5h-1.5zM100.35 386.62h1.5v1.5h-1.5zM91.79 387.45h1.5v1.5h-1.5zM103.28 369.47h1.5v1.5h-1.5zM106.04 372.24h1.5v1.5h-1.5zM104.61 375.39h1.5v1.5h-1.5zM100.36 376.01h1.5v1.5h-1.5zM111.74 381.34h1.5v1.5h-1.5zM94.08 368.56h1.5v1.5h-1.5zM100.8 374.34h1.5v1.5h-1.5zM105.3 389.4h1.5v1.5h-1.5zM116.47 363.73h1.5v1.5h-1.5zM100.32 376.17h1.5v1.5h-1.5zM99.96 388.94h1.5v1.5h-1.5zM98.25 379.68h1.5v1.5h-1.5zM107.04 374.63h1.5v1.5h-1.5zM99.48 371.74h1.5v1.5h-1.5zM93.61 377.73h1.5v1.5h-1.5zM107.01 382.39h1.5v1.5h-1.5zM86.23 392.95h1.5v1.5h-1.5zM100.75 377.79h1.5v1.5h-1.5zM110.13 387.03h1.5v1.5h-1.5zM99.06 377.32h1.5v1.5h-1.5zM97.92 401.01h1.5v1.5h-1.5zM104.82 362.83h1.5v1.5h-1.5zM106.24 387.45h1.5v1.5h-1.5zM96.1 381.46h1.5v1.5h-1.5zM116.86 372.59h1.5v1.5h-1.5zM99.86 370.06h1.5v1.5h-1.5zM98.47 368.1h1.5v1.5h-1.5zM94.15 387.4h1.5v1.5h-1.5zM104.21 369.88h1.5v1.5h-1.5zM103.73 378.71h1.5v1.5h-1.5zM86.01 391.51h1.5v1.5h-1.5zM94.68 387.7h1.5v1.5h-1.5zM103.25 383.77h1.5v1.5h-1.5zM104.69 380.14h1.5v1.5h-1.5zM96.67 382.1h1.5v1.5h-1.5zM102.12 374.85h1.5v1.5h-1.5zM95.63 385.11h1.5v1.5h-1.5zM89.29 372.66h1.5v1.5h-1.5zM109.44 380.83h1.5v1.5h-1.5zM95.63 392.88h1.5v1.5h-1.5zM100.27 380.41h1.5v1.5h-1.5zM114.66 376.08h1.5v1.5h-1.5zM93.48 402.83h1.5v1.5h-1.5zM109.14 378.07h1.5v1.5h-1.5zM87.53 384.17h1.5v1.5h-1.5zM87.54 358.62h1.5v1.5h-1.5zM107.06 375.68h1.5v1.5h-1.5zM97.8 399.27h1.5v1.5h-1.5zM98.15 394.64h1.5v1.5h-1.5zM103.32 397.72h1.5v1.5h-1.5zM92.55 374.72h1.5v1.5h-1.5zM110.82 388.21h1.5v1.5h-1.5zM88.07 378.61h1.5v1.5h-1.5zM105.16 388.28h1.5v1.5h-1.5zM94.08 389.11h1.5v1.5h-1.5zM90.54 390h1.5v1.5h-1.5zM108 374.51h1.5v1.5h-1.5zM113.77 378.91h1.5v1.5h-1.5zM98.08 390.23h1.5v1.5h-1.5zM98.16 392.76h1.5v1.5h-1.5zM86.33 380.51h1.5v1.5h-1.5zM109.36 372.99h1.5v1.5h-1.5zM108.59 377.73h1.5v1.5h-1.5zM93.91 383.12h1.5v1.5h-1.5zM96.37 391.7h1.5v1.5h-1.5zM86.94 397.22h1.5v1.5h-1.5zM99.01 381.19h1.5v1.5h-1.5zM95.65 372.23h1.5v1.5h-1.5zM100.33 377.48h1.5v1.5h-1.5zM107.77 386.26h1.5v1.5h-1.5zM84.95 380.46h1.5v1.5h-1.5zM94.12 373.58h1.5v1.5h-1.5zM101.47 373.88h1.5v1.5h-1.5zM104.52 396.93h1.5v1.5h-1.5zM104.2 386.12h1.5v1.5h-1.5zM93.64 387.23h1.5v1.5h-1.5zM104.55 373.97h1.5v1.5h-1.5zM106.29 393.18h1.5v1.5h-1.5zM94.82 401.92h1.5v1.5h-1.5zM98.32 377.91h1.5v1.5h-1.5zM93.58 381.98h1.5v1.5h-1.5zM100.71 374.09h1.5v1.5h-1.5zM93.17 390.41h1.5v1.5h-1.5zM93.59 370.31h1.5v1.5h-1.5zM106.86 381.13h1.5v1.5h-1.5zM100.66 381.01h1.5v1.5h-1.5zM100.5 383.56h1.5v1.5h-1.5zM96.66 392.75h1.5v1.5h-1.5zM94.46 370.85h1.5v1.5h-1.5zM102.89 380.78h1.5v1.5h-1.5zM97.51 382.29h1.5v1.5h-1.5zM101.58 386.64h1.5v1.5h-1.5zM100.46 380.1h1.5v1.5h-1.5zM93.69 389.96h1.5v1.5h-1.5zM91.9 392.58h1.5v1.5h-1.5zM105.42 398.85h1.5v1.5h-1.5zM97.14 387.62h1.5v1.5h-1.5zM94.61 382.83h1.5v1.5h-1.5zM107.12 379.5h1.5v1.5h-1.5zM98.05 387.37h1.5v1.5h-1.5zM98.13 375.55h1.5v1.5h-1.5zM96.23 392.02h1.5v1.5h-1.5zM90 393.45h1.5v1.5h-1.5zM89.1 376.62h1.5v1.5h-1.5zM101.59 383.48h1.5v1.5h-1.5zM109.5 384.53h1.5v1.5h-1.5zM104.44 374.64h1.5v1.5h-1.5zM87.98 397.5h1.5v1.5h-1.5zM92.41 377.18h1.5v1.5h-1.5zM108.33 389.26h1.5v1.5h-1.5zM106.55 383.22h1.5v1.5h-1.5zM96.23 387.4h1.5v1.5h-1.5zM96.73 397.08h1.5v1.5h-1.5zM91.88 393.92h1.5v1.5h-1.5zM102.56 365.19h1.5v1.5h-1.5zM118.6 379.49h1.5v1.5h-1.5zM86.73 388.94h1.5v1.5h-1.5zM92.33 368.87h1.5v1.5h-1.5zM103.14 386.85h1.5v1.5h-1.5zM105.75 376.33h1.5v1.5h-1.5zM87.42 389.72h1.5v1.5h-1.5zM97.34 382.68h1.5v1.5h-1.5zM100 384.71h1.5v1.5h-1.5zM100.41 386.51h1.5v1.5h-1.5zM92.63 372.41h1.5v1.5h-1.5zM101.63 378.24h1.5v1.5h-1.5zM87.63 386.83h1.5v1.5h-1.5zM104.91 390.71h1.5v1.5h-1.5zM106.91 383.17h1.5v1.5h-1.5zM101.93 382.58h1.5v1.5h-1.5zM100.61 372.6h1.5v1.5h-1.5zM96.16 371.04h1.5v1.5h-1.5zM93.45 391.13h1.5v1.5h-1.5zM104.14 389.18h1.5v1.5h-1.5zM96.4 376.07h1.5v1.5h-1.5zM107.71 393.67h1.5v1.5h-1.5zM102.67 366.75h1.5v1.5h-1.5zM107.6 381.82h1.5v1.5h-1.5zM94.75 385.85h1.5v1.5h-1.5zM90.8 386.7h1.5v1.5h-1.5zM97.71 383.85h1.5v1.5h-1.5zM107.51 381.77h1.5v1.5h-1.5zM88.62 377.13h1.5v1.5h-1.5zM91.37 387.96h1.5v1.5h-1.5zM98.09 385.28h1.5v1.5h-1.5zM91.87 386.28h1.5v1.5h-1.5zM114.68 382.68h1.5v1.5h-1.5zM98.07 373.92h1.5v1.5h-1.5zM104.38 374.95h1.5v1.5h-1.5zM105.22 395.86h1.5v1.5h-1.5zM92.87 383.08h1.5v1.5h-1.5zM102.62 371.33h1.5v1.5h-1.5zM102.41 383.26h1.5v1.5h-1.5zM99.33 383.91h1.5v1.5h-1.5zM100.82 376.64h1.5v1.5h-1.5zM96.62 389.33h1.5v1.5h-1.5zM92.93 375.57h1.5v1.5h-1.5zM108.22 372.11h1.5v1.5h-1.5zM105.18 374.18h1.5v1.5h-1.5zM99.03 377.21h1.5v1.5h-1.5zM91.52 386.03h1.5v1.5h-1.5zM93.8 378.19h1.5v1.5h-1.5zM94.9 384.35h1.5v1.5h-1.5zM101.92 371.06h1.5v1.5h-1.5zM93.38 391.2h1.5v1.5h-1.5zM104.9 389.28h1.5v1.5h-1.5zM102.29 385.86h1.5v1.5h-1.5zM98.29 396.66h1.5v1.5h-1.5zM104.16 384.8h1.5v1.5h-1.5zM92.62 368.06h1.5v1.5h-1.5zM104.14 353.76h1.5v1.5h-1.5zM101.97 384.23h1.5v1.5h-1.5zM99.82 369.69h1.5v1.5h-1.5zM98.86 378.91h1.5v1.5h-1.5zM102.75 388.36h1.5v1.5h-1.5zM99.97 385.99h1.5v1.5h-1.5zM90.14 378.09h1.5v1.5h-1.5zM103.81 380.44h1.5v1.5h-1.5zM92.56 399.7h1.5v1.5h-1.5zM102.52 382.14h1.5v1.5h-1.5zM87 386.18h1.5v1.5h-1.5zM88.16 385.6h1.5v1.5h-1.5zM100.07 379.32h1.5v1.5h-1.5zM100.6 380.59h1.5v1.5h-1.5zM90.89 387.6h1.5v1.5h-1.5zM95.39 385.2h1.5v1.5h-1.5zM100.98 377.02h1.5v1.5h-1.5zM110.75 398.97h1.5v1.5h-1.5zM101.92 383.08h1.5v1.5h-1.5zM115.34 370.57h1.5v1.5h-1.5zM87.22 382.55h1.5v1.5h-1.5zM95.32 375.7h1.5v1.5h-1.5zM91.5 385.25h1.5v1.5h-1.5zM98.11 383.36h1.5v1.5h-1.5zM94.87 397.75h1.5v1.5h-1.5zM102.35 373.69h1.5v1.5h-1.5zM98.56 390.36h1.5v1.5h-1.5zM100.5 377.57h1.5v1.5h-1.5zM97.79 382.81h1.5v1.5h-1.5zM109.13 388.19h1.5v1.5h-1.5zM95.06 398.22h1.5v1.5h-1.5zM94.04 389.48h1.5v1.5h-1.5zM92.18 389.64h1.5v1.5h-1.5zM111.91 380.28h1.5v1.5h-1.5zM98.23 365.56h1.5v1.5h-1.5zM98.62 395.9h1.5v1.5h-1.5zM101.93 388.8h1.5v1.5h-1.5zM110.78 388.72h1.5v1.5h-1.5zM94.9 395.95h1.5v1.5h-1.5zM99.75 390.02h1.5v1.5h-1.5zM98.58 385.4h1.5v1.5h-1.5zM94.66 376.27h1.5v1.5h-1.5zM105.75 380h1.5v1.5h-1.5zM92.61 392.44h1.5v1.5h-1.5zM100.98 363.3h1.5v1.5h-1.5zM95.78 389.34h1.5v1.5h-1.5zM94.06 392.23h1.5v1.5h-1.5zM92.09 385.88h1.5v1.5h-1.5zM109.31 379.49h1.5v1.5h-1.5zM95.39 395.88h1.5v1.5h-1.5zM100.58 382.13h1.5v1.5h-1.5zM90.27 393.22h1.5v1.5h-1.5zM98.75 374.59h1.5v1.5h-1.5zM103.53 379.5h1.5v1.5h-1.5zM96.74 380.51h1.5v1.5h-1.5zM98.96 365.55h1.5v1.5h-1.5zM90.95 387.47h1.5v1.5h-1.5zM108.13 381.87h1.5v1.5h-1.5zM109.25 379.84h1.5v1.5h-1.5zM100.09 384.93h1.5v1.5h-1.5zM89.17 392.63h1.5v1.5h-1.5zM114.9 372.92h1.5v1.5h-1.5zM103.39 373.75h1.5v1.5h-1.5zM103.12 373.3h1.5v1.5h-1.5zM97.15 384.61h1.5v1.5h-1.5zM106.09 383.11h1.5v1.5h-1.5zM89.53 386.76h1.5v1.5h-1.5zM95.15 378.69h1.5v1.5h-1.5zM93.9 392.01h1.5v1.5h-1.5zM96.67 370.99h1.5v1.5h-1.5zM98.71 381.2h1.5v1.5h-1.5zM99.12 380.04h1.5v1.5h-1.5zM105.69 369.69h1.5v1.5h-1.5zM87.28 375.1h1.5v1.5h-1.5zM99.03 384.84h1.5v1.5h-1.5zM116.22 378.87h1.5v1.5h-1.5zM112.97 370.97h1.5v1.5h-1.5zM91.68 380.63h1.5v1.5h-1.5zM104.32 381.85h1.5v1.5h-1.5zM82.39 389.67h1.5v1.5h-1.5zM97.68 391.31h1.5v1.5h-1.5zM112.12 380.59h1.5v1.5h-1.5zM96.23 385.46h1.5v1.5h-1.5zM93.44 389.93h1.5v1.5h-1.5zM99.72 379.74h1.5v1.5h-1.5zM95.42 384.07h1.5v1.5h-1.5zM89.1 381.09h1.5v1.5h-1.5zM93.69 382.18h1.5v1.5h-1.5zM92.56 388.15h1.5v1.5h-1.5zM100.59 391.3h1.5v1.5h-1.5zM116.72 377.7h1.5v1.5h-1.5zM98.53 388.18h1.5v1.5h-1.5zM110.46 368.43h1.5v1.5h-1.5zM101.19 392.34h1.5v1.5h-1.5zM95.44 378.59h1.5v1.5h-1.5zM95.39 392.54h1.5v1.5h-1.5zM90.55 390.7h1.5v1.5h-1.5zM99.15 387.35h1.5v1.5h-1.5zM99.18 360.69h1.5v1.5h-1.5zM111.74 386.84h1.5v1.5h-1.5zM101.51 380.99h1.5v1.5h-1.5zM98.06 374.55h1.5v1.5h-1.5zM96.67 385.53h1.5v1.5h-1.5zM96.37 383.88h1.5v1.5h-1.5zM108.25 373.77h1.5v1.5h-1.5zM89.45 388.45h1.5v1.5h-1.5zM93.34 377.63h1.5v1.5h-1.5zM100.66 375.01h1.5v1.5h-1.5zM98.61 397.25h1.5v1.5h-1.5zM102.28 379.69h1.5v1.5h-1.5zM102.69 391.42h1.5v1.5h-1.5zM99.63 387.51h1.5v1.5h-1.5zM94.13 380.99h1.5v1.5h-1.5zM101.57 388.56h1.5v1.5h-1.5zM86.8 404.93h1.5v1.5h-1.5zM94.93 374.81h1.5v1.5h-1.5zM98.66 399.89h1.5v1.5h-1.5zM92.88 380.81h1.5v1.5h-1.5zM111.02 369.96h1.5v1.5h-1.5zM101.67 380.09h1.5v1.5h-1.5zM91.47 387.97h1.5v1.5h-1.5zM96.67 389.01h1.5v1.5h-1.5zM99.5 385.26h1.5v1.5h-1.5zM101.46 370.57h1.5v1.5h-1.5zM104.36 377.63h1.5v1.5h-1.5zM97.33 394.6h1.5v1.5h-1.5zM98.23 378.37h1.5v1.5h-1.5zM91.83 374.66h1.5v1.5h-1.5zM96.66 380.14h1.5v1.5h-1.5zM96.7 392.73h1.5v1.5h-1.5zM113.85 387.21h1.5v1.5h-1.5zM105.62 384.82h1.5v1.5h-1.5zM101.05 388.03h1.5v1.5h-1.5zM96.07 376.06h1.5v1.5h-1.5zM112.97 385.02h1.5v1.5h-1.5zM99.12 374.99h1.5v1.5h-1.5zM94.53 378.11h1.5v1.5h-1.5zM93.43 379.24h1.5v1.5h-1.5zM102.18 372.09h1.5v1.5h-1.5zM101.65 390.86h1.5v1.5h-1.5zM103.8 389.55h1.5v1.5h-1.5zM104.42 369.15h1.5v1.5h-1.5zM103.31 385.44h1.5v1.5h-1.5zM107.58 378.67h1.5v1.5h-1.5zM90.14 387.59h1.5v1.5h-1.5zM109.21 381.87h1.5v1.5h-1.5zM99.92 384.76h1.5v1.5h-1.5zM86.98 389.68h1.5v1.5h-1.5zM101.6 380.03h1.5v1.5h-1.5zM97.81 399.23h1.5v1.5h-1.5zM107.8 374.33h1.5v1.5h-1.5zM106.38 370.23h1.5v1.5h-1.5zM95.87 387.92h1.5v1.5h-1.5zM101.3 368.76h1.5v1.5h-1.5zM86.99 387.5h1.5v1.5h-1.5zM93.93 379.45h1.5v1.5h-1.5zM109.53 381.71h1.5v1.5h-1.5zM90.17 384.45h1.5v1.5h-1.5zM97.01 394.87h1.5v1.5h-1.5zM105.38 384.63h1.5v1.5h-1.5zM103.94 391.17h1.5v1.5h-1.5zM106.9 391.32h1.5v1.5h-1.5zM106.59 394.27h1.5v1.5h-1.5zM108.93 382.49h1.5v1.5h-1.5zM87.91 387.28h1.5v1.5h-1.5zM101.46 389.34h1.5v1.5h-1.5zM95.52 381.25h1.5v1.5h-1.5zM97.84 406.42h1.5v1.5h-1.5zM95.97 379.9h1.5v1.5h-1.5zM101.18 373.94h1.5v1.5h-1.5zM94.11 363.96h1.5v1.5h-1.5zM104.78 378.33h1.5v1.5h-1.5zM106.82 372.79h1.5v1.5h-1.5zM99.78 386.95h1.5v1.5h-1.5zM106.38 377.03h1.5v1.5h-1.5zM85.51 394.68h1.5v1.5h-1.5zM102.39 380.57h1.5v1.5h-1.5zM101.05 376.82h1.5v1.5h-1.5zM100.09 369.8h1.5v1.5h-1.5zM94.83 386.62h1.5v1.5h-1.5zM101.36 375.93h1.5v1.5h-1.5zM104.69 369.26h1.5v1.5h-1.5zM95.64 374.27h1.5v1.5h-1.5zM102.4 389.49h1.5v1.5h-1.5zM98.07 366.48h1.5v1.5h-1.5zM104.67 384.41h1.5v1.5h-1.5zM81.88 392.84h1.5v1.5h-1.5zM94.02 383.16h1.5v1.5h-1.5zM115.59 371.95h1.5v1.5h-1.5zM101.29 388.96h1.5v1.5h-1.5zM90.56 386.33h1.5v1.5h-1.5zM95.7 360h1.5v1.5h-1.5zM96.16 387.93h1.5v1.5h-1.5zM107.13 379.49h1.5v1.5h-1.5zM90.21 374.84h1.5v1.5h-1.5zM96.82 393.26h1.5v1.5h-1.5zM101.35 377.93h1.5v1.5h-1.5zM96.63 377.63h1.5v1.5h-1.5zM104.92 387.54h1.5v1.5h-1.5zM84.32 404.99h1.5v1.5h-1.5zM98.13 373.08h1.5v1.5h-1.5zM106.23 369.57h1.5v1.5h-1.5zM112.33 378.51h1.5v1.5h-1.5zM106.61 392.08h1.5v1.5h-1.5zM103.98 377.93h1.5v1.5h-1.5zM98.37 385.96h1.5v1.5h-1.5zM91.06 383.5h1.5v1.5h-1.5zM108.19 382.64h1.5v1.5h-1.5zM102.85 386.43h1.5v1.5h-1.5zM100.87 389.64h1.5v1.5h-1.5zM101.76 383.28h1.5v1.5h-1.5zM101.31 386.42h1.5v1.5h-1.5zM90.63 387.25h1.5v1.5h-1.5zM106.47 368.05h1.5v1.5h-1.5zM96.73 376.81h1.5v1.5h-1.5zM104.48 377.79h1.5v1.5h-1.5zM87.95 382.94h1.5v1.5h-1.5zM92.11 375.18h1.5v1.5h-1.5zM104.69 375.99h1.5v1.5h-1.5zM80.9 382.61h1.5v1.5h-1.5zM104.06 390.84h1.5v1.5h-1.5zM105.99 379.83h1.5v1.5h-1.5zM97.74 388.24h1.5v1.5h-1.5zM91.76 387.75h1.5v1.5h-1.5zM121.14 374.6h1.5v1.5h-1.5zM100.54 386.95h1.5v1.5h-1.5zM94.63 387.86h1.5v1.5h-1.5zM92.71 377.34h1.5v1.5h-1.5zM97.11 376.19h1.5v1.5h-1.5zM90.78 377.47h1.5v1.5h-1.5zM98.86 377.24h1.5v1.5h-1.5zM98.31 389.43h1.5v1.5h-1.5zM107.71 383.3h1.5v1.5h-1.5zM98 389.5h1.5v1.5h-1.5zM100.51 384.96h1.5v1.5h-1.5zM101.07 379.12h1.5v1.5h-1.5zM94.12 394.65h1.5v1.5h-1.5zM102.15 374.38h1.5v1.5h-1.5zM104.03 389.83h1.5v1.5h-1.5zM103.38 378.16h1.5v1.5h-1.5zM101.08 378.46h1.5v1.5h-1.5zM96.73 381.34h1.5v1.5h-1.5zM105.68 384.41h1.5v1.5h-1.5zM88.75 386.04h1.5v1.5h-1.5zM100.45 396.24h1.5v1.5h-1.5zM94.21 379.14h1.5v1.5h-1.5zM97.98 381.93h1.5v1.5h-1.5zM90.04 377.85h1.5v1.5h-1.5zM111.61 380.39h1.5v1.5h-1.5zM93.81 392.78h1.5v1.5h-1.5zM105.42 379.76h1.5v1.5h-1.5zM93.37 374.54h1.5v1.5h-1.5zM104.52 376.15h1.5v1.5h-1.5zM86.46 386.67h1.5v1.5h-1.5zM103.53 390.58h1.5v1.5h-1.5zM105.7 369.42h1.5v1.5h-1.5zM106.45 385.87h1.5v1.5h-1.5zM93.98 376.47h1.5v1.5h-1.5zM106.17 370.84h1.5v1.5h-1.5zM107.64 380.72h1.5v1.5h-1.5zM96.12 397.53h1.5v1.5h-1.5zM104.66 363.16h1.5v1.5h-1.5zM95.73 386.96h1.5v1.5h-1.5zM103.69 378.16h1.5v1.5h-1.5zM89.24 390.62h1.5v1.5h-1.5zM91.19 368.89h1.5v1.5h-1.5zM93.92 377.17h1.5v1.5h-1.5zM112.78 363.85h1.5v1.5h-1.5zM109.25 366.88h1.5v1.5h-1.5zM90.21 387.5h1.5v1.5h-1.5zM93.84 386.05h1.5v1.5h-1.5zM117.81 390.11h1.5v1.5h-1.5zM103.05 390.81h1.5v1.5h-1.5zM108.63 369.61h1.5v1.5h-1.5zM95.39 367.35h1.5v1.5h-1.5zM99.59 372.11h1.5v1.5h-1.5zM101.28 386.06h1.5v1.5h-1.5zM96.33 384.02h1.5v1.5h-1.5zM103.47 380.14h1.5v1.5h-1.5zM115.94 379.13h1.5v1.5h-1.5zM95.71 388.85h1.5v1.5h-1.5zM93.49 395.05h1.5v1.5h-1.5zM92 377.3h1.5v1.5h-1.5zM99.48 383.56h1.5v1.5h-1.5zM101.56 373.38h1.5v1.5h-1.5zM103.46 375.13h1.5v1.5h-1.5zM95.04 385.49h1.5v1.5h-1.5zM93.49 384.65h1.5v1.5h-1.5zM93.2 386.87h1.5v1.5h-1.5zM97.8 384.37h1.5v1.5h-1.5zM97.14 386.69h1.5v1.5h-1.5zM108.43 382.38h1.5v1.5h-1.5zM91.81 382.87h1.5v1.5h-1.5zM91.25 392.84h1.5v1.5h-1.5zM99.65 395.09h1.5v1.5h-1.5zM76.01 386.56h1.5v1.5h-1.5zM106.46 393.22h1.5v1.5h-1.5zM92.63 379.68h1.5v1.5h-1.5zM84.83 393.09h1.5v1.5h-1.5zM90.43 386.29h1.5v1.5h-1.5zM84.93 379.37h1.5v1.5h-1.5zM98.02 380.29h1.5v1.5h-1.5zM96.7 399.43h1.5v1.5h-1.5zM97.96 393.03h1.5v1.5h-1.5zM99.12 388.93h1.5v1.5h-1.5zM96.78 384.61h1.5v1.5h-1.5zM104.58 374.87h1.5v1.5h-1.5zM91.86 384.49h1.5v1.5h-1.5zM109.5 375.6h1.5v1.5h-1.5zM93.83 384.75h1.5v1.5h-1.5zM96.56 375.76h1.5v1.5h-1.5zM99.29 379.38h1.5v1.5h-1.5zM114.88 388.6h1.5v1.5h-1.5zM91.79 397.79h1.5v1.5h-1.5zM87.65 378.9h1.5v1.5h-1.5zM101.14 369.14h1.5v1.5h-1.5zM84.92 393.12h1.5v1.5h-1.5zM109.38 371.49h1.5v1.5h-1.5zM105.38 373.83h1.5v1.5h-1.5zM99.28 382.37h1.5v1.5h-1.5zM99.28 375.76h1.5v1.5h-1.5zM97.88 380.19h1.5v1.5h-1.5zM109.45 388.16h1.5v1.5h-1.5zM93.68 379.48h1.5v1.5h-1.5zM97.17 384.09h1.5v1.5h-1.5zM114.07 374.93h1.5v1.5h-1.5zM96.06 374.68h1.5v1.5h-1.5zM117.07 385.91h1.5v1.5h-1.5zM94.25 382.79h1.5v1.5h-1.5zM94.5 366.81h1.5v1.5h-1.5zM102.81 384.38h1.5v1.5h-1.5zM102.56 387.53h1.5v1.5h-1.5zM94.72 382.74h1.5v1.5h-1.5zM116.14 395h1.5v1.5h-1.5zM102.06 371.05h1.5v1.5h-1.5zM104.35 365.98h1.5v1.5h-1.5zM102.27 380.32h1.5v1.5h-1.5zM98.11 389.24h1.5v1.5h-1.5zM110.75 388.24h1.5v1.5h-1.5zM98.17 386.65h1.5v1.5h-1.5zM93.43 401.13h1.5v1.5h-1.5zM96.32 382.05h1.5v1.5h-1.5zM100.08 375.52h1.5v1.5h-1.5zM97.89 387.64h1.5v1.5h-1.5zM101.25 376.59h1.5v1.5h-1.5zM92.58 395.92h1.5v1.5h-1.5zM91.71 376.21h1.5v1.5h-1.5zM106.2 387.22h1.5v1.5h-1.5zM99.85 375.63h1.5v1.5h-1.5zM108.56 384.79h1.5v1.5h-1.5zM97.33 371.92h1.5v1.5h-1.5zM116.3 365.68h1.5v1.5h-1.5zM90.89 381.16h1.5v1.5h-1.5zM96.91 383.4h1.5v1.5h-1.5zM94.31 387.39h1.5v1.5h-1.5zM98.98 368.41h1.5v1.5h-1.5zM104.06 377.65h1.5v1.5h-1.5zM99.24 388.11h1.5v1.5h-1.5zM97.41 373.21h1.5v1.5h-1.5zM104.99 365.48h1.5v1.5h-1.5zM100.92 381.98h1.5v1.5h-1.5zM87.47 382.51h1.5v1.5h-1.5zM86.71 373.99h1.5v1.5h-1.5zM94.54 383.61h1.5v1.5h-1.5zM89.38 388.89h1.5v1.5h-1.5zM92.38 375.45h1.5v1.5h-1.5zM100.83 390.99h1.5v1.5h-1.5zM85.23 386.74h1.5v1.5h-1.5zM95.57 391.92h1.5v1.5h-1.5zM103.27 382.61h1.5v1.5h-1.5zM99.85 386.7h1.5v1.5h-1.5zM94.97 387.05h1.5v1.5h-1.5zM87.58 380.68h1.5v1.5h-1.5zM101.93 394.89h1.5v1.5h-1.5zM99.78 373.21h1.5v1.5h-1.5zM100.74 371.84h1.5v1.5h-1.5zM97.13 382.87h1.5v1.5h-1.5zM89.75 391.96h1.5v1.5h-1.5zM86 392.93h1.5v1.5h-1.5zM100.8 377.84h1.5v1.5h-1.5zM107.38 379.01h1.5v1.5h-1.5zM91.97 380.99h1.5v1.5h-1.5zM98.01 368.83h1.5v1.5h-1.5zM113.07 371h1.5v1.5h-1.5zM90.92 388.69h1.5v1.5h-1.5zM100.41 387.48h1.5v1.5h-1.5zM102.8 375.99h1.5v1.5h-1.5zM105.05 378.91h1.5v1.5h-1.5zM92.73 390.64h1.5v1.5h-1.5zM98.17 372.32h1.5v1.5h-1.5zM110.32 371.63h1.5v1.5h-1.5zM101.65 376.39h1.5v1.5h-1.5zM104.94 370.7h1.5v1.5h-1.5zM105.18 392.53h1.5v1.5h-1.5zM105.87 377.46h1.5v1.5h-1.5zM95.76 379.2h1.5v1.5h-1.5zM101.11 382.19h1.5v1.5h-1.5zM86.96 384.87h1.5v1.5h-1.5zM103.03 381.61h1.5v1.5h-1.5zM87.68 381.98h1.5v1.5h-1.5zM104.2 379.51h1.5v1.5h-1.5zM102.1 384.22h1.5v1.5h-1.5zM94.34 379.61h1.5v1.5h-1.5zM96.51 381.65h1.5v1.5h-1.5zM122.35 370.33h1.5v1.5h-1.5zM100.02 394.64h1.5v1.5h-1.5zM99.74 376.29h1.5v1.5h-1.5zM94.01 385.6h1.5v1.5h-1.5zM82.92 382.56h1.5v1.5h-1.5zM94.79 378.25h1.5v1.5h-1.5zM108.82 380.87h1.5v1.5h-1.5zM106.1 378.44h1.5v1.5h-1.5zM97.59 384.93h1.5v1.5h-1.5zM92.96 374.11h1.5v1.5h-1.5zM105.35 388.38h1.5v1.5h-1.5zM105.08 386.32h1.5v1.5h-1.5zM88.28 376.07h1.5v1.5h-1.5zM89.89 375.74h1.5v1.5h-1.5zM100.48 374.97h1.5v1.5h-1.5zM102.71 372.39h1.5v1.5h-1.5zM101.54 377.18h1.5v1.5h-1.5zM100.83 373.37h1.5v1.5h-1.5zM96.25 375.27h1.5v1.5h-1.5zM109.83 379.83h1.5v1.5h-1.5zM102.2 385.45h1.5v1.5h-1.5zM96.99 380.91h1.5v1.5h-1.5zM96.6 389.89h1.5v1.5h-1.5zM98.84 380.93h1.5v1.5h-1.5zM101.36 376.21h1.5v1.5h-1.5zM86.35 374.96h1.5v1.5h-1.5zM97.82 388.67h1.5v1.5h-1.5zM96.39 379.67h1.5v1.5h-1.5zM105.28 383.44h1.5v1.5h-1.5zM100.18 394.39h1.5v1.5h-1.5zM100.26 382.88h1.5v1.5h-1.5zM95.96 376.35h1.5v1.5h-1.5zM111.88 370.77h1.5v1.5h-1.5zM93.46 372.08h1.5v1.5h-1.5zM96.66 383.33h1.5v1.5h-1.5zM94.9 379.98h1.5v1.5h-1.5zM103.01 380.12h1.5v1.5h-1.5zM97.55 383.88h1.5v1.5h-1.5zM96.18 375.63h1.5v1.5h-1.5zM95.33 384.53h1.5v1.5h-1.5zM97.55 388.56h1.5v1.5h-1.5zM97.42 394.14h1.5v1.5h-1.5zM101.97 377.35h1.5v1.5h-1.5zM96.91 370.94h1.5v1.5h-1.5zM93.19 379.7h1.5v1.5h-1.5zM102.46 385.53h1.5v1.5h-1.5zM97.33 375.96h1.5v1.5h-1.5zM99.49 380.05h1.5v1.5h-1.5zM109.03 377.89h1.5v1.5h-1.5zM87.13 391.35h1.5v1.5h-1.5zM105 381.68h1.5v1.5h-1.5zM91.36 399.74h1.5v1.5h-1.5zM101.36 370.13h1.5v1.5h-1.5zM90.13 401.55h1.5v1.5h-1.5zM102.59 385.53h1.5v1.5h-1.5zM96.96 385.42h1.5v1.5h-1.5zM92.63 380.75h1.5v1.5h-1.5zM105.59 377.71h1.5v1.5h-1.5zM95.09 375.45h1.5v1.5h-1.5zM98.27 378.1h1.5v1.5h-1.5zM92.4 379.15h1.5v1.5h-1.5zM104.34 370.95h1.5v1.5h-1.5zM99.25 378.88h1.5v1.5h-1.5zM94.96 376.69h1.5v1.5h-1.5zM104.57 372.5h1.5v1.5h-1.5zM96.32 392.49h1.5v1.5h-1.5zM98.57 384.07h1.5v1.5h-1.5zM93.76 379.18h1.5v1.5h-1.5zM105.77 377.44h1.5v1.5h-1.5zM106.93 377.1h1.5v1.5h-1.5zM92.14 388.76h1.5v1.5h-1.5zM96.55 377.78h1.5v1.5h-1.5zM105.59 379.47h1.5v1.5h-1.5zM106.24 386.63h1.5v1.5h-1.5zM98.26 371.1h1.5v1.5h-1.5zM102.2 373.45h1.5v1.5h-1.5zM85.72 398.84h1.5v1.5h-1.5zM92.95 376.34h1.5v1.5h-1.5zM110.55 383.85h1.5v1.5h-1.5zM92.11 392.03h1.5v1.5h-1.5zM92.76 379.85h1.5v1.5h-1.5zM96.85 368.6h1.5v1.5h-1.5zM104.16 386.13h1.5v1.5h-1.5zM100.73 383.04h1.5v1.5h-1.5zM104.65 373.85h1.5v1.5h-1.5zM96.61 376.2h1.5v1.5h-1.5zM103.09 381.86h1.5v1.5h-1.5zM100.87 376.62h1.5v1.5h-1.5zM96.83 388.1h1.5v1.5h-1.5zM108.02 379.79h1.5v1.5h-1.5zM94.89 379.97h1.5v1.5h-1.5zM88.69 384.8h1.5v1.5h-1.5zM89.49 388.25h1.5v1.5h-1.5zM86.52 391.29h1.5v1.5h-1.5zM105.37 381.94h1.5v1.5h-1.5zM90.53 371.47h1.5v1.5h-1.5zM94.65 372.26h1.5v1.5h-1.5zM95.38 394.48h1.5v1.5h-1.5zM112.06 381.96h1.5v1.5h-1.5zM104.42 371.75h1.5v1.5h-1.5zM89.85 384.34h1.5v1.5h-1.5zM95.04 378.83h1.5v1.5h-1.5zM98.99 391.93h1.5v1.5h-1.5zM99.49 376.38h1.5v1.5h-1.5zM97.02 378.6h1.5v1.5h-1.5zM95.35 383.73h1.5v1.5h-1.5zM101.54 380.52h1.5v1.5h-1.5zM108 372.6h1.5v1.5h-1.5zM105.01 375.16h1.5v1.5h-1.5zM100.18 390.81h1.5v1.5h-1.5zM106.55 367.01h1.5v1.5h-1.5zM100.67 383.77h1.5v1.5h-1.5zM98.84 373.2h1.5v1.5h-1.5zM101.11 389.18h1.5v1.5h-1.5zM97.89 388.44h1.5v1.5h-1.5zM97.69 389.46h1.5v1.5h-1.5zM92.98 372.75h1.5v1.5h-1.5zM106.44 392.43h1.5v1.5h-1.5zM92.23 387.58h1.5v1.5h-1.5zM96.38 393.52h1.5v1.5h-1.5zM105.32 392.75h1.5v1.5h-1.5zM103.97 375.64h1.5v1.5h-1.5zM96.53 387.96h1.5v1.5h-1.5zM99.52 381.04h1.5v1.5h-1.5zM84.42 395.87h1.5v1.5h-1.5zM102.82 382.06h1.5v1.5h-1.5zM96.2 390.61h1.5v1.5h-1.5zM94.17 389.44h1.5v1.5h-1.5zM118.65 386.31h1.5v1.5h-1.5zM109.84 375.65h1.5v1.5h-1.5zM100.6 380.37h1.5v1.5h-1.5zM96.45 370.85h1.5v1.5h-1.5zM102.67 381.5h1.5v1.5h-1.5zM98.25 381h1.5v1.5h-1.5zM91.12 386.92h1.5v1.5h-1.5zM94.74 378.8h1.5v1.5h-1.5zM103.31 395.21h1.5v1.5h-1.5zM97.55 375.22h1.5v1.5h-1.5zM90.05 393.75h1.5v1.5h-1.5zM106.11 381.3h1.5v1.5h-1.5zM95.95 392.35h1.5v1.5h-1.5zM100.3 386.15h1.5v1.5h-1.5zM100.6 378.63h1.5v1.5h-1.5zM104.03 383.35h1.5v1.5h-1.5zM95.44 383.07h1.5v1.5h-1.5zM98.42 381.16h1.5v1.5h-1.5zM95.4 385.1h1.5v1.5h-1.5zM95.01 387.87h1.5v1.5h-1.5zM100.2 373.23h1.5v1.5h-1.5zM95.36 378.9h1.5v1.5h-1.5zM101.53 380.76h1.5v1.5h-1.5zM103.86 385.17h1.5v1.5h-1.5zM103.05 378.91h1.5v1.5h-1.5zM74.67 386.41h1.5v1.5h-1.5zM103.3 366.3h1.5v1.5h-1.5zM91.68 383.62h1.5v1.5h-1.5zM101.57 388.93h1.5v1.5h-1.5zM107.51 376.52h1.5v1.5h-1.5zM93.53 392.91h1.5v1.5h-1.5zM96.18 365.11h1.5v1.5h-1.5zM114.22 396.82h1.5v1.5h-1.5zM86.35 380.78h1.5v1.5h-1.5zM98.35 387.3h1.5v1.5h-1.5zM103.34 380.36h1.5v1.5h-1.5zM101.12 379.7h1.5v1.5h-1.5zM91.48 374.43h1.5v1.5h-1.5zM95.88 374.58h1.5v1.5h-1.5zM103.96 380.63h1.5v1.5h-1.5zM100.08 382.35h1.5v1.5h-1.5zM86.19 388.35h1.5v1.5h-1.5zM102.11 393.68h1.5v1.5h-1.5zM88.65 377h1.5v1.5h-1.5zM104.78 392.43h1.5v1.5h-1.5zM102.34 381.75h1.5v1.5h-1.5zM105.96 382.83h1.5v1.5h-1.5zM97.54 388.42h1.5v1.5h-1.5zM100.37 382.89h1.5v1.5h-1.5zM94.5 386.2h1.5v1.5h-1.5zM93.8 379.02h1.5v1.5h-1.5zM91.84 396.15h1.5v1.5h-1.5zM92.32 375.94h1.5v1.5h-1.5zM95.53 378.36h1.5v1.5h-1.5zM104.27 384.72h1.5v1.5h-1.5zM104.41 376.95h1.5v1.5h-1.5zM98.79 387.75h1.5v1.5h-1.5zM98.67 392.18h1.5v1.5h-1.5zM97.15 387.26h1.5v1.5h-1.5zM102.18 378.82h1.5v1.5h-1.5zM94.57 376.96h1.5v1.5h-1.5zM107.49 379.45h1.5v1.5h-1.5zM93.87 379.9h1.5v1.5h-1.5zM81.87 391.57h1.5v1.5h-1.5zM103.19 365.87h1.5v1.5h-1.5zM93.88 372.09h1.5v1.5h-1.5zM115.51 363.32h1.5v1.5h-1.5zM82.44 378.55h1.5v1.5h-1.5zM100.44 374.17h1.5v1.5h-1.5zM97.83 387.35h1.5v1.5h-1.5zM97.48 371.27h1.5v1.5h-1.5zM105.02 382.89h1.5v1.5h-1.5zM101.78 374.93h1.5v1.5h-1.5zM103.09 381.51h1.5v1.5h-1.5zM94.43 389.29h1.5v1.5h-1.5zM95.99 387.41h1.5v1.5h-1.5zM87.9 396.27h1.5v1.5h-1.5zM105.29 389.16h1.5v1.5h-1.5zM89.78 385.24h1.5v1.5h-1.5zM109.33 369.78h1.5v1.5h-1.5zM96.15 391.07h1.5v1.5h-1.5zM95.27 390.37h1.5v1.5h-1.5zM95.18 379.72h1.5v1.5h-1.5zM91.52 390.42h1.5v1.5h-1.5zM97.23 383.05h1.5v1.5h-1.5zM93.62 389.91h1.5v1.5h-1.5zM91.04 390.35h1.5v1.5h-1.5zM102.79 383.16h1.5v1.5h-1.5zM76.98 383.76h1.5v1.5h-1.5zM98.58 389.17h1.5v1.5h-1.5zM97.25 406.12h1.5v1.5h-1.5zM87.3 376.65h1.5v1.5h-1.5zM114.26 361.3h1.5v1.5h-1.5zM93.83 383.49h1.5v1.5h-1.5zM104.61 390.25h1.5v1.5h-1.5zM111.49 384.43h1.5v1.5h-1.5zM101.58 390.5h1.5v1.5h-1.5zM101.67 381.73h1.5v1.5h-1.5zM106.78 389.09h1.5v1.5h-1.5zM98.99 368.32h1.5v1.5h-1.5zM90.54 381.99h1.5v1.5h-1.5zM102.19 385.3h1.5v1.5h-1.5zM97.15 371.95h1.5v1.5h-1.5zM107.2 375.68h1.5v1.5h-1.5zM100.97 390.56h1.5v1.5h-1.5zM99.71 368.29h1.5v1.5h-1.5zM106.58 390.74h1.5v1.5h-1.5zM84.24 391.62h1.5v1.5h-1.5zM100.24 386.27h1.5v1.5h-1.5zM96.86 380.3h1.5v1.5h-1.5zM105.47 378.92h1.5v1.5h-1.5zM108.01 390.86h1.5v1.5h-1.5zM102.4 378.11h1.5v1.5h-1.5zM88.4 375.63h1.5v1.5h-1.5zM87.62 396.74h1.5v1.5h-1.5zM118.18 366.97h1.5v1.5h-1.5zM101.76 371.09h1.5v1.5h-1.5zM107.29 388.79h1.5v1.5h-1.5zM102.52 370.51h1.5v1.5h-1.5zM97.91 382.09h1.5v1.5h-1.5zM95.73 377.58h1.5v1.5h-1.5zM95.08 388.01h1.5v1.5h-1.5zM90.26 392h1.5v1.5h-1.5zM100.63 378.23h1.5v1.5h-1.5zM96.27 391.27h1.5v1.5h-1.5zM101.5 378.88h1.5v1.5h-1.5zM108.21 383.64h1.5v1.5h-1.5zM96.09 379.18h1.5v1.5h-1.5zM110.02 379.67h1.5v1.5h-1.5zM98.47 389.81h1.5v1.5h-1.5zM96.34 375.74h1.5v1.5h-1.5zM105.18 371.94h1.5v1.5h-1.5zM87.25 379.11h1.5v1.5h-1.5zM92.4 379.58h1.5v1.5h-1.5zM82 387.87h1.5v1.5h-1.5zM92.7 374.2h1.5v1.5h-1.5zM99.93 371.96h1.5v1.5h-1.5zM95.89 367.89h1.5v1.5h-1.5zM95.86 368.44h1.5v1.5h-1.5zM95.54 390.97h1.5v1.5h-1.5zM105.53 383.64h1.5v1.5h-1.5zM98.64 392.95h1.5v1.5h-1.5zM96.58 382.14h1.5v1.5h-1.5zM93.97 380.71h1.5v1.5h-1.5zM82.47 380h1.5v1.5h-1.5zM96.11 371.67h1.5v1.5h-1.5zM96.53 388.17h1.5v1.5h-1.5zM95.81 381.08h1.5v1.5h-1.5zM103.36 384.75h1.5v1.5h-1.5zM93.3 380.57h1.5v1.5h-1.5zM105.03 394.31h1.5v1.5h-1.5zM91.48 389.72h1.5v1.5h-1.5zM111.41 369.25h1.5v1.5h-1.5zM104.83 376.85h1.5v1.5h-1.5zM90.97 375.81h1.5v1.5h-1.5zM95.86 389.45h1.5v1.5h-1.5zM113.07 389.76h1.5v1.5h-1.5zM109.08 377.95h1.5v1.5h-1.5zM92.39 382.8h1.5v1.5h-1.5zM92.96 382.57h1.5v1.5h-1.5zM94.39 392.93h1.5v1.5h-1.5zM118.31 380.89h1.5v1.5h-1.5zM106.22 380.71h1.5v1.5h-1.5zM103.97 390.85h1.5v1.5h-1.5zM91.52 410.11h1.5v1.5h-1.5zM106.33 376.81h1.5v1.5h-1.5zM90.54 378.15h1.5v1.5h-1.5zM103.37 358.18h1.5v1.5h-1.5zM100.78 374.66h1.5v1.5h-1.5zM103.52 375.03h1.5v1.5h-1.5zM98.9 385.62h1.5v1.5h-1.5zM104.22 371.2h1.5v1.5h-1.5zM90.62 393.61h1.5v1.5h-1.5zM98.77 368.29h1.5v1.5h-1.5zM97.57 396.06h1.5v1.5h-1.5zM104.93 374.76h1.5v1.5h-1.5zM113.16 376.89h1.5v1.5h-1.5zM113.36 383.98h1.5v1.5h-1.5zM105.63 379.42h1.5v1.5h-1.5zM90.43 386.9h1.5v1.5h-1.5zM108.72 370.86h1.5v1.5h-1.5zM96.34 374.37h1.5v1.5h-1.5zM105.62 373.44h1.5v1.5h-1.5zM101.16 379.34h1.5v1.5h-1.5zM93.1 384.51h1.5v1.5h-1.5zM99.98 387.83h1.5v1.5h-1.5zM97 381.59h1.5v1.5h-1.5zM100.63 373.59h1.5v1.5h-1.5zM91.64 387.49h1.5v1.5h-1.5zM101.04 384.73h1.5v1.5h-1.5zM101.49 385.3h1.5v1.5h-1.5zM107.63 381.7h1.5v1.5h-1.5zM90.85 378.73h1.5v1.5h-1.5zM111.14 394.03h1.5v1.5h-1.5zM98.15 382.01h1.5v1.5h-1.5zM106.57 368.48h1.5v1.5h-1.5zM97.95 394.83h1.5v1.5h-1.5zM103.93 373.05h1.5v1.5h-1.5zM102.45 380.73h1.5v1.5h-1.5zM93.21 364.84h1.5v1.5h-1.5zM90.41 396.52h1.5v1.5h-1.5zM106.17 378.07h1.5v1.5h-1.5zM103.95 378.13h1.5v1.5h-1.5zM111.3 367.72h1.5v1.5h-1.5zM95.11 375.56h1.5v1.5h-1.5zM90.58 398.03h1.5v1.5h-1.5zM107.8 383.22h1.5v1.5h-1.5zM83.56 386.78h1.5v1.5h-1.5zM94.29 379.66h1.5v1.5h-1.5zM98.68 388.43h1.5v1.5h-1.5zM93.94 377.73h1.5v1.5h-1.5zM92.38 383.16h1.5v1.5h-1.5zM91.95 380.75h1.5v1.5h-1.5zM112 374.22h1.5v1.5h-1.5zM107.17 376.49h1.5v1.5h-1.5zM92.14 386.58h1.5v1.5h-1.5zM99.61 378.71h1.5v1.5h-1.5zM94.74 378.71h1.5v1.5h-1.5zM93.9 383.23h1.5v1.5h-1.5zM99.02 391.31h1.5v1.5h-1.5zM106.35 379.87h1.5v1.5h-1.5zM99.88 382.31h1.5v1.5h-1.5zM83.88 397.5h1.5v1.5h-1.5zM92.63 376.33h1.5v1.5h-1.5zM94.93 378.69h1.5v1.5h-1.5zM91.66 390.96h1.5v1.5h-1.5zM95.71 374.95h1.5v1.5h-1.5zM87.13 387h1.5v1.5h-1.5zM102.04 380.4h1.5v1.5h-1.5zM98.98 376.23h1.5v1.5h-1.5zM101.18 389.57h1.5v1.5h-1.5zM103.68 387.11h1.5v1.5h-1.5zM96.64 371.63h1.5v1.5h-1.5zM116.75 366.01h1.5v1.5h-1.5zM102.18 387.5h1.5v1.5h-1.5zM93.61 370.81h1.5v1.5h-1.5zM101.5 392.45h1.5v1.5h-1.5zM110.44 374.58h1.5v1.5h-1.5zM108.62 376.46h1.5v1.5h-1.5zM83.53 392.39h1.5v1.5h-1.5zM98.07 383.88h1.5v1.5h-1.5zM110.01 384.48h1.5v1.5h-1.5zM98.39 382.93h1.5v1.5h-1.5zM98.44 390.55h1.5v1.5h-1.5zM90.27 404.89h1.5v1.5h-1.5zM101.5 383.19h1.5v1.5h-1.5zM100.56 390.11h1.5v1.5h-1.5zM99.12 389.87h1.5v1.5h-1.5zM91.79 381.7h1.5v1.5h-1.5zM103.69 376.46h1.5v1.5h-1.5zM98.79 385.39h1.5v1.5h-1.5zM109.18 369.76h1.5v1.5h-1.5zM94.52 392.06h1.5v1.5h-1.5zM101.77 379.05h1.5v1.5h-1.5zM92.51 366.32h1.5v1.5h-1.5zM84.02 393.01h1.5v1.5h-1.5zM100.84 374.07h1.5v1.5h-1.5zM85.72 389.42h1.5v1.5h-1.5zM109.45 368.42h1.5v1.5h-1.5zM97.27 382.51h1.5v1.5h-1.5zM92.71 381h1.5v1.5h-1.5zM91.53 400.25h1.5v1.5h-1.5zM88.11 384.93h1.5v1.5h-1.5zM89.57 376.3h1.5v1.5h-1.5zM108.35 371.92h1.5v1.5h-1.5zM103.81 372.12h1.5v1.5h-1.5zM101.01 374.99h1.5v1.5h-1.5zM102.47 375.24h1.5v1.5h-1.5zM91.77 389.48h1.5v1.5h-1.5zM91.9 377.83h1.5v1.5h-1.5zM102.74 387.42h1.5v1.5h-1.5zM91.97 388.78h1.5v1.5h-1.5zM105.38 381.42h1.5v1.5h-1.5zM97.36 388.17h1.5v1.5h-1.5zM98.23 370.07h1.5v1.5h-1.5zM94.13 386.43h1.5v1.5h-1.5zM111.34 373.25h1.5v1.5h-1.5zM90.89 376.08h1.5v1.5h-1.5zM90 380.47h1.5v1.5h-1.5zM80.88 395.14h1.5v1.5h-1.5zM105.71 385.08h1.5v1.5h-1.5zM93.88 383.33h1.5v1.5h-1.5zM99.12 385.93h1.5v1.5h-1.5zM94.22 369.62h1.5v1.5h-1.5zM109.86 376.71h1.5v1.5h-1.5zM90.8 388.72h1.5v1.5h-1.5zM97.01 379.07h1.5v1.5h-1.5zM110.65 383.11h1.5v1.5h-1.5zM100.16 385.34h1.5v1.5h-1.5zM100.12 387.36h1.5v1.5h-1.5zM101.83 372.48h1.5v1.5h-1.5zM96.25 385.63h1.5v1.5h-1.5zM99.93 392.29h1.5v1.5h-1.5zM112.16 389.07h1.5v1.5h-1.5zM96.51 389.9h1.5v1.5h-1.5zM109.91 383.05h1.5v1.5h-1.5zM95.46 368.57h1.5v1.5h-1.5zM98.24 388.59h1.5v1.5h-1.5zM99.06 380.78h1.5v1.5h-1.5zM93.73 385.21h1.5v1.5h-1.5zM97.59 377.06h1.5v1.5h-1.5zM104.63 374.23h1.5v1.5h-1.5zM98.22 376.3h1.5v1.5h-1.5zM97.58 373.66h1.5v1.5h-1.5zM102.02 384.78h1.5v1.5h-1.5zM107.98 391.6h1.5v1.5h-1.5zM92.12 390.44h1.5v1.5h-1.5zM98.16 392.13h1.5v1.5h-1.5zM90.44 399.42h1.5v1.5h-1.5zM99.93 388.04h1.5v1.5h-1.5zM114.89 371.83h1.5v1.5h-1.5zM90.86 374.29h1.5v1.5h-1.5zM99.87 373.66h1.5v1.5h-1.5zM91.11 375.47h1.5v1.5h-1.5zM107.02 383.31h1.5v1.5h-1.5zM92.98 386.94h1.5v1.5h-1.5zM101.01 362.98h1.5v1.5h-1.5zM112.13 366.95h1.5v1.5h-1.5zM97.53 385.27h1.5v1.5h-1.5zM101.76 383.67h1.5v1.5h-1.5zM95.74 384.84h1.5v1.5h-1.5zM105.19 381.1h1.5v1.5h-1.5zM100.82 383.84h1.5v1.5h-1.5zM97.7 385.24h1.5v1.5h-1.5zM108.2 377.93h1.5v1.5h-1.5zM109.87 380.6h1.5v1.5h-1.5zM106.76 390.9h1.5v1.5h-1.5zM96.21 383.56h1.5v1.5h-1.5zM94.54 384.44h1.5v1.5h-1.5zM92.45 385.4h1.5v1.5h-1.5zM94.3 383.64h1.5v1.5h-1.5zM96.98 390.66h1.5v1.5h-1.5zM96.16 382.88h1.5v1.5h-1.5zM89.94 384.09h1.5v1.5h-1.5zM108.1 381.53h1.5v1.5h-1.5zM103.05 376.33h1.5v1.5h-1.5zM93.34 373.6h1.5v1.5h-1.5zM117.18 385.21h1.5v1.5h-1.5zM114.55 383.47h1.5v1.5h-1.5zM109.6 393.45h1.5v1.5h-1.5zM107.29 378.91h1.5v1.5h-1.5zM89.88 391.27h1.5v1.5h-1.5zM91.56 391.39h1.5v1.5h-1.5zM101.83 382.91h1.5v1.5h-1.5zM81.06 389.74h1.5v1.5h-1.5zM102.46 380.65h1.5v1.5h-1.5zM111.27 393.18h1.5v1.5h-1.5zM100.85 381.55h1.5v1.5h-1.5zM104.3 391.25h1.5v1.5h-1.5zM89.69 386.23h1.5v1.5h-1.5zM99.65 396.23h1.5v1.5h-1.5zM101.73 381.59h1.5v1.5h-1.5zM104.39 401.13h1.5v1.5h-1.5zM102.71 388.19h1.5v1.5h-1.5zM95.67 377.16h1.5v1.5h-1.5zM111.27 377.69h1.5v1.5h-1.5zM98.32 372.31h1.5v1.5h-1.5zM92.67 385.28h1.5v1.5h-1.5zM95.47 390.95h1.5v1.5h-1.5zM100.5 366.02h1.5v1.5h-1.5zM100.89 377.9h1.5v1.5h-1.5zM98.87 373.56h1.5v1.5h-1.5zM100.4 388.78h1.5v1.5h-1.5zM99.82 370.88h1.5v1.5h-1.5zM98.49 373.11h1.5v1.5h-1.5zM98.6 366.63h1.5v1.5h-1.5zM101.13 376.61h1.5v1.5h-1.5zM97.02 376.35h1.5v1.5h-1.5zM97.47 394.26h1.5v1.5h-1.5zM101.29 391.07h1.5v1.5h-1.5zM109.75 373.13h1.5v1.5h-1.5zM99.23 376.88h1.5v1.5h-1.5zM80.44 375.53h1.5v1.5h-1.5zM94.43 378.37h1.5v1.5h-1.5zM117.55 389.71h1.5v1.5h-1.5zM96.12 380.45h1.5v1.5h-1.5zM102.13 394.59h1.5v1.5h-1.5zM92.39 372.57h1.5v1.5h-1.5zM94.77 379.17h1.5v1.5h-1.5zM89.24 392.14h1.5v1.5h-1.5zM85.98 383.84h1.5v1.5h-1.5zM107.43 379.22h1.5v1.5h-1.5zM97.13 380.95h1.5v1.5h-1.5zM102.47 383.6h1.5v1.5h-1.5zM103.09 365.95h1.5v1.5h-1.5zM115.11 382.27h1.5v1.5h-1.5zM90.02 369.88h1.5v1.5h-1.5zM106.18 370.83h1.5v1.5h-1.5zM103.46 382.82h1.5v1.5h-1.5zM106.14 371.59h1.5v1.5h-1.5zM107.58 388.36h1.5v1.5h-1.5zM106.52 382.93h1.5v1.5h-1.5zM96.53 380.24h1.5v1.5h-1.5zM96.61 364.92h1.5v1.5h-1.5zM103.17 379.04h1.5v1.5h-1.5zM97.74 380.7h1.5v1.5h-1.5zM97.46 378.19h1.5v1.5h-1.5zM105.33 373.99h1.5v1.5h-1.5zM90.08 387.37h1.5v1.5h-1.5zM99.72 391.6h1.5v1.5h-1.5zM101.84 382.61h1.5v1.5h-1.5zM99.53 379.17h1.5v1.5h-1.5zM94.64 371.39h1.5v1.5h-1.5zM106.58 384.45h1.5v1.5h-1.5zM102.47 375.53h1.5v1.5h-1.5zM93.62 386.56h1.5v1.5h-1.5zM104.15 400.95h1.5v1.5h-1.5zM89.63 382.35h1.5v1.5h-1.5zM103.59 388.21h1.5v1.5h-1.5zM105.3 363.28h1.5v1.5h-1.5zM100.63 382.15h1.5v1.5h-1.5zM99.63 390h1.5v1.5h-1.5zM103.09 379.74h1.5v1.5h-1.5zM104.48 369.64h1.5v1.5h-1.5zM99.39 380.76h1.5v1.5h-1.5zM101.47 368.05h1.5v1.5h-1.5zM88.64 385.2h1.5v1.5h-1.5zM94.61 382.52h1.5v1.5h-1.5zM105.12 380.03h1.5v1.5h-1.5zM104.42 379.3h1.5v1.5h-1.5zM94 388.81h1.5v1.5h-1.5zM89.19 383.27h1.5v1.5h-1.5zM96.3 376.48h1.5v1.5h-1.5zM106.09 387.19h1.5v1.5h-1.5zM91.32 379.7h1.5v1.5h-1.5zM92.81 382.38h1.5v1.5h-1.5zM103.52 384.01h1.5v1.5h-1.5zM111.94 384.69h1.5v1.5h-1.5zM102.19 384.59h1.5v1.5h-1.5zM78.41 389.36h1.5v1.5h-1.5zM98 378.04h1.5v1.5h-1.5zM98.18 388.18h1.5v1.5h-1.5zM95.42 385.64h1.5v1.5h-1.5zM104.58 382.85h1.5v1.5h-1.5zM108 373.09h1.5v1.5h-1.5zM93.8 375.69h1.5v1.5h-1.5zM82.86 386.57h1.5v1.5h-1.5zM92.09 384.97h1.5v1.5h-1.5zM107.43 379.91h1.5v1.5h-1.5zM97.93 372.62h1.5v1.5h-1.5zM93.66 390.21h1.5v1.5h-1.5zM106.14 375.5h1.5v1.5h-1.5zM88.87 383.93h1.5v1.5h-1.5zM104.75 381.93h1.5v1.5h-1.5zM96.23 381.99h1.5v1.5h-1.5zM100.66 387.28h1.5v1.5h-1.5zM105.15 392.82h1.5v1.5h-1.5zM98.6 365.76h1.5v1.5h-1.5zM91.51 384.66h1.5v1.5h-1.5zM82.79 393.25h1.5v1.5h-1.5zM90.86 384.07h1.5v1.5h-1.5zM95.58 368.95h1.5v1.5h-1.5zM92.5 384.32h1.5v1.5h-1.5zM100.69 376.8h1.5v1.5h-1.5zM105.56 392.59h1.5v1.5h-1.5zM114.88 380.24h1.5v1.5h-1.5zM93.98 396.47h1.5v1.5h-1.5zM95.94 396.91h1.5v1.5h-1.5zM100.46 386.53h1.5v1.5h-1.5zM101.46 387.72h1.5v1.5h-1.5zM99.65 364.81h1.5v1.5h-1.5zM107.53 378.65h1.5v1.5h-1.5zM68.84 415.13h1.5v1.5h-1.5zM133.68 360.28h1.5v1.5h-1.5zM56.22 423.56h1.5v1.5h-1.5zM140.66 346.7h1.5v1.5h-1.5zM57.03 420.38h1.5v1.5h-1.5zM136.58 341.11h1.5v1.5h-1.5zM113.36 384.24h1.5v1.5h-1.5zM108.86 376.5h1.5v1.5h-1.5zM92.18 399.87h1.5v1.5h-1.5zM78.53 397.5h1.5v1.5h-1.5zM62.14 425.63h1.5v1.5h-1.5zM57.64 416.9h1.5v1.5h-1.5zM96.84 377.2h1.5v1.5h-1.5zM68.72 416.59h1.5v1.5h-1.5zM102.84 385.63h1.5v1.5h-1.5zM133.28 354.93h1.5v1.5h-1.5zM122.61 340.38h1.5v1.5h-1.5zM109.16 368.66h1.5v1.5h-1.5zM82.11 397.2h1.5v1.5h-1.5zM116.01 355.1h1.5v1.5h-1.5zM107.31 374.09h1.5v1.5h-1.5zM89.93 391.86h1.5v1.5h-1.5zM61.03 426.37h1.5v1.5h-1.5zM88.24 403.73h1.5v1.5h-1.5zM72.44 404.43h1.5v1.5h-1.5zM80.62 404.54h1.5v1.5h-1.5zM71.15 405.26h1.5v1.5h-1.5zM77.93 391.68h1.5v1.5h-1.5zM128.49 352.82h1.5v1.5h-1.5zM111.68 374.44h1.5v1.5h-1.5zM86.88 392.74h1.5v1.5h-1.5zM103.2 371.98h1.5v1.5h-1.5zM92.89 386.01h1.5v1.5h-1.5zM79.79 408.27h1.5v1.5h-1.5zM135.41 348.55h1.5v1.5h-1.5zM58.97 421.16h1.5v1.5h-1.5zM79.67 407.21h1.5v1.5h-1.5zM86.44 394.67h1.5v1.5h-1.5zM91.7 384.9h1.5v1.5h-1.5zM56.21 424.32h1.5v1.5h-1.5zM56.83 423.35h1.5v1.5h-1.5zM55.66 419.85h1.5v1.5h-1.5zM76.56 399.16h1.5v1.5h-1.5zM142.53 345.08h1.5v1.5h-1.5zM64.14 422.77h1.5v1.5h-1.5zM69.24 399.71h1.5v1.5h-1.5zM63.77 420.46h1.5v1.5h-1.5zM75.15 400.88h1.5v1.5h-1.5zM76.7 400.47h1.5v1.5h-1.5zM73.89 403.28h1.5v1.5h-1.5zM70.13 395.94h1.5v1.5h-1.5zM73.48 396.44h1.5v1.5h-1.5zM137.48 346.17h1.5v1.5h-1.5zM96.77 384.23h1.5v1.5h-1.5zM109.44 383.92h1.5v1.5h-1.5zM92.9 377.31h1.5v1.5h-1.5zM61.73 420.77h1.5v1.5h-1.5zM61.91 415.73h1.5v1.5h-1.5zM75.42 410.86h1.5v1.5h-1.5zM134.91 358.3h1.5v1.5h-1.5zM117.31 368.81h1.5v1.5h-1.5zM85.87 392.32h1.5v1.5h-1.5zM103.34 372.22h1.5v1.5h-1.5zM96.3 375.18h1.5v1.5h-1.5zM63.72 415.1h1.5v1.5h-1.5zM60.58 412.92h1.5v1.5h-1.5zM84.93 401.83h1.5v1.5h-1.5zM122.77 354.56h1.5v1.5h-1.5zM112.19 364.78h1.5v1.5h-1.5zM86.67 385.08h1.5v1.5h-1.5zM69.43 412.13h1.5v1.5h-1.5zM62.86 414.65h1.5v1.5h-1.5zM114.98 361.09h1.5v1.5h-1.5zM69.38 410.45h1.5v1.5h-1.5zM69.59 409.53h1.5v1.5h-1.5zM70.93 422.06h1.5v1.5h-1.5zM65.22 417.72h1.5v1.5h-1.5zM57.49 426.95h1.5v1.5h-1.5zM59.35 411.22h1.5v1.5h-1.5zM58.65 419.64h1.5v1.5h-1.5zM70.05 415h1.5v1.5h-1.5zM78.56 399.63h1.5v1.5h-1.5zM108.51 361.65h1.5v1.5h-1.5zM140.67 341.92h1.5v1.5h-1.5zM101.35 392.41h1.5v1.5h-1.5zM66.03 408.23h1.5v1.5h-1.5zM121.81 371.43h1.5v1.5h-1.5zM58.73 416.07h1.5v1.5h-1.5zM65.79 426.05h1.5v1.5h-1.5zM61.8 416.3h1.5v1.5h-1.5zM110.3 383.78h1.5v1.5h-1.5zM90.06 393.34h1.5v1.5h-1.5zM74.6 416.57h1.5v1.5h-1.5zM123.66 361.73h1.5v1.5h-1.5zM55.6 424.43h1.5v1.5h-1.5zM60.67 415.31h1.5v1.5h-1.5zM65.24 410.36h1.5v1.5h-1.5zM85.36 391.42h1.5v1.5h-1.5zM64.07 415.9h1.5v1.5h-1.5zM56.9 421.16h1.5v1.5h-1.5zM71.62 420.13h1.5v1.5h-1.5zM75.15 399.7h1.5v1.5h-1.5zM123.22 358.51h1.5v1.5h-1.5zM93.61 384.31h1.5v1.5h-1.5zM71.67 402.96h1.5v1.5h-1.5zM73.57 398.6h1.5v1.5h-1.5zM113.78 372.59h1.5v1.5h-1.5zM57.07 423.79h1.5v1.5h-1.5zM109.45 366.6h1.5v1.5h-1.5zM63.93 426.38h1.5v1.5h-1.5zM94.97 381.44h1.5v1.5h-1.5zM74.46 399.28h1.5v1.5h-1.5zM134.24 368.14h1.5v1.5h-1.5zM121.38 366.19h1.5v1.5h-1.5zM130.65 339.25h1.5v1.5h-1.5zM68.79 418.18h1.5v1.5h-1.5zM59.99 425.4h1.5v1.5h-1.5zM99.72 389.82h1.5v1.5h-1.5zM125.43 340.78h1.5v1.5h-1.5zM87.17 389.92h1.5v1.5h-1.5zM81.58 409.02h1.5v1.5h-1.5zM58.73 414.45h1.5v1.5h-1.5zM63.48 408.92h1.5v1.5h-1.5zM59.75 423.5h1.5v1.5h-1.5zM68.44 423.52h1.5v1.5h-1.5zM72.66 417.63h1.5v1.5h-1.5zM55.84 422.1h1.5v1.5h-1.5zM111.8 367.13h1.5v1.5h-1.5zM59.96 421.94h1.5v1.5h-1.5zM69.83 410.78h1.5v1.5h-1.5zM56.51 418.6h1.5v1.5h-1.5zM138.07 355.38h1.5v1.5h-1.5zM72.29 411.61h1.5v1.5h-1.5zM106.32 379.05h1.5v1.5h-1.5zM137.69 344.22h1.5v1.5h-1.5zM127.84 351.94h1.5v1.5h-1.5zM62.32 419.54h1.5v1.5h-1.5zM111.78 361.74h1.5v1.5h-1.5zM94.11 381.57h1.5v1.5h-1.5zM101.78 376.63h1.5v1.5h-1.5zM77.95 396.4h1.5v1.5h-1.5zM70.73 408.68h1.5v1.5h-1.5zM91.55 394.22h1.5v1.5h-1.5zM74.59 393.68h1.5v1.5h-1.5zM88.08 393.68h1.5v1.5h-1.5zM112.9 383.71h1.5v1.5h-1.5zM59.86 424.35h1.5v1.5h-1.5zM112 358.26h1.5v1.5h-1.5zM107.8 373.11h1.5v1.5h-1.5zM118.77 365.88h1.5v1.5h-1.5zM72.94 410.4h1.5v1.5h-1.5zM109.38 355.51h1.5v1.5h-1.5zM59.96 425.66h1.5v1.5h-1.5zM63.54 421.39h1.5v1.5h-1.5zM96.6 387.27h1.5v1.5h-1.5zM83.24 395h1.5v1.5h-1.5zM83.38 390.15h1.5v1.5h-1.5zM84.47 407.13h1.5v1.5h-1.5zM61.23 419.69h1.5v1.5h-1.5zM120.22 353.14h1.5v1.5h-1.5zM86.59 398.7h1.5v1.5h-1.5zM69.85 409.71h1.5v1.5h-1.5zM102.87 380.6h1.5v1.5h-1.5zM66.17 412.09h1.5v1.5h-1.5zM105.43 369.64h1.5v1.5h-1.5zM57.26 413.55h1.5v1.5h-1.5zM120.65 379.46h1.5v1.5h-1.5zM107.83 379.06h1.5v1.5h-1.5zM98.75 399.38h1.5v1.5h-1.5zM96.69 407.56h1.5v1.5h-1.5zM109.19 359.18h1.5v1.5h-1.5zM56.82 417.34h1.5v1.5h-1.5zM58.93 422.94h1.5v1.5h-1.5zM93.9 386.16h1.5v1.5h-1.5zM94.09 390.49h1.5v1.5h-1.5zM124.29 364.34h1.5v1.5h-1.5zM69.13 410.64h1.5v1.5h-1.5zM123.07 362.06h1.5v1.5h-1.5zM69.15 412.57h1.5v1.5h-1.5zM56.57 422.28h1.5v1.5h-1.5zM138.3 340.71h1.5v1.5h-1.5zM105.08 377.4h1.5v1.5h-1.5zM107.81 386.11h1.5v1.5h-1.5zM74.3 404.01h1.5v1.5h-1.5zM65.73 415.26h1.5v1.5h-1.5zM105.69 384.24h1.5v1.5h-1.5zM139.85 345.54h1.5v1.5h-1.5zM63.88 424.44h1.5v1.5h-1.5zM58.74 421.57h1.5v1.5h-1.5zM99.74 384.51h1.5v1.5h-1.5zM62.23 426.51h1.5v1.5h-1.5zM112.66 364.1h1.5v1.5h-1.5zM119.48 358.76h1.5v1.5h-1.5zM97.91 389.37h1.5v1.5h-1.5zM58.14 424.55h1.5v1.5h-1.5zM88.87 399.9h1.5v1.5h-1.5zM115.64 363.18h1.5v1.5h-1.5zM94.27 384.79h1.5v1.5h-1.5zM77.95 389.75h1.5v1.5h-1.5zM101.95 386.28h1.5v1.5h-1.5zM105.69 369.02h1.5v1.5h-1.5zM54.51 421.68h1.5v1.5h-1.5zM85.76 385.99h1.5v1.5h-1.5zM61.86 425.8h1.5v1.5h-1.5zM106.56 389.76h1.5v1.5h-1.5zM62.39 410.91h1.5v1.5h-1.5zM107.56 357.85h1.5v1.5h-1.5zM77.11 397.28h1.5v1.5h-1.5zM71.28 412.36h1.5v1.5h-1.5zM78.89 412.26h1.5v1.5h-1.5zM62.94 422.72h1.5v1.5h-1.5zM89.74 392.41h1.5v1.5h-1.5zM63.24 408.12h1.5v1.5h-1.5zM69.57 426.26h1.5v1.5h-1.5zM81.56 402.62h1.5v1.5h-1.5zM124.8 356.58h1.5v1.5h-1.5zM100.83 382.63h1.5v1.5h-1.5zM100.96 398.44h1.5v1.5h-1.5zM74.33 414.83h1.5v1.5h-1.5zM82.73 409.57h1.5v1.5h-1.5zM66.88 423.57h1.5v1.5h-1.5zM78.61 397.43h1.5v1.5h-1.5zM60.73 418.99h1.5v1.5h-1.5zM135.72 358.39h1.5v1.5h-1.5zM63.84 415.03h1.5v1.5h-1.5zM118.17 373.5h1.5v1.5h-1.5zM123.44 358.05h1.5v1.5h-1.5zM72.34 414.86h1.5v1.5h-1.5zM107 369.65h1.5v1.5h-1.5zM98.8 381.27h1.5v1.5h-1.5zM60.9 423.92h1.5v1.5h-1.5zM110.17 358.11h1.5v1.5h-1.5zM69.68 408.64h1.5v1.5h-1.5zM134.88 342.41h1.5v1.5h-1.5zM95.76 376.05h1.5v1.5h-1.5zM100.89 366.46h1.5v1.5h-1.5zM131.64 337.8h1.5v1.5h-1.5zM69 406.49h1.5v1.5h-1.5zM94.06 382.71h1.5v1.5h-1.5zM119.69 365.97h1.5v1.5h-1.5zM115.15 356.27h1.5v1.5h-1.5zM63.84 416.27h1.5v1.5h-1.5zM115.95 372.16h1.5v1.5h-1.5zM73.56 410.85h1.5v1.5h-1.5zM95.48 388.61h1.5v1.5h-1.5zM63.37 418.32h1.5v1.5h-1.5zM121.46 353.53h1.5v1.5h-1.5zM62.03 417.53h1.5v1.5h-1.5zM64.94 416.23h1.5v1.5h-1.5zM94.66 389.12h1.5v1.5h-1.5zM62.61 420.82h1.5v1.5h-1.5zM111.55 368.6h1.5v1.5h-1.5zM73.88 402.13h1.5v1.5h-1.5zM54.94 420.92h1.5v1.5h-1.5zM119.76 357.31h1.5v1.5h-1.5zM120.02 371.11h1.5v1.5h-1.5zM61.85 425.38h1.5v1.5h-1.5zM64.34 426.05h1.5v1.5h-1.5zM133.34 363.47h1.5v1.5h-1.5zM88.57 378.69h1.5v1.5h-1.5zM101.94 385.08h1.5v1.5h-1.5zM68.1 401.63h1.5v1.5h-1.5zM92.32 375.57h1.5v1.5h-1.5zM119.06 366.61h1.5v1.5h-1.5zM64.55 425.96h1.5v1.5h-1.5zM63.97 410.01h1.5v1.5h-1.5zM87.91 390.95h1.5v1.5h-1.5zM70.29 418.45h1.5v1.5h-1.5zM55.36 423.19h1.5v1.5h-1.5zM128.18 359.97h1.5v1.5h-1.5zM102.87 367.5h1.5v1.5h-1.5zM71.5 404.93h1.5v1.5h-1.5zM79.59 401.29h1.5v1.5h-1.5zM60.55 423.78h1.5v1.5h-1.5zM83.76 397.12h1.5v1.5h-1.5zM140.66 345.75h1.5v1.5h-1.5zM58.63 423.25h1.5v1.5h-1.5zM133.13 349.54h1.5v1.5h-1.5zM63.78 419.35h1.5v1.5h-1.5zM125.63 350.83h1.5v1.5h-1.5zM71.96 410.03h1.5v1.5h-1.5zM102.98 379.92h1.5v1.5h-1.5zM74.19 400.09h1.5v1.5h-1.5zM73.18 403.51h1.5v1.5h-1.5zM66.05 411.68h1.5v1.5h-1.5zM55.63 420.94h1.5v1.5h-1.5zM60.88 426.75h1.5v1.5h-1.5zM132.97 349.69h1.5v1.5h-1.5zM66.28 410.92h1.5v1.5h-1.5zM73.13 409.82h1.5v1.5h-1.5zM56.32 425.55h1.5v1.5h-1.5zM103.97 378.34h1.5v1.5h-1.5zM60.77 415.91h1.5v1.5h-1.5zM105.3 372.99h1.5v1.5h-1.5zM64.06 404.65h1.5v1.5h-1.5zM64.79 422.48h1.5v1.5h-1.5zM99.09 400.75h1.5v1.5h-1.5zM62.71 423.28h1.5v1.5h-1.5zM117.4 369.54h1.5v1.5h-1.5zM77.73 409.7h1.5v1.5h-1.5zM65.8 426.71h1.5v1.5h-1.5zM85.34 402.09h1.5v1.5h-1.5zM60.22 406.36h1.5v1.5h-1.5zM90.25 392.47h1.5v1.5h-1.5zM62.15 418.5h1.5v1.5h-1.5zM64 419.47h1.5v1.5h-1.5zM70.08 404.13h1.5v1.5h-1.5zM87.12 393.91h1.5v1.5h-1.5zM97.14 379.25h1.5v1.5h-1.5zM71.8 409.3h1.5v1.5h-1.5zM66.47 413.89h1.5v1.5h-1.5zM56.46 423.61h1.5v1.5h-1.5zM121.5 353.4h1.5v1.5h-1.5zM85.28 399.68h1.5v1.5h-1.5zM106.07 365.58h1.5v1.5h-1.5zM67.81 413.66h1.5v1.5h-1.5zM114.89 376.23h1.5v1.5h-1.5zM100.79 376.19h1.5v1.5h-1.5zM79.18 393.82h1.5v1.5h-1.5zM116.36 366.91h1.5v1.5h-1.5zM101.82 370.77h1.5v1.5h-1.5zM133.37 358.37h1.5v1.5h-1.5zM73.22 412.34h1.5v1.5h-1.5zM92.65 396.94h1.5v1.5h-1.5zM78.81 401.99h1.5v1.5h-1.5zM127.7 360.42h1.5v1.5h-1.5zM109.06 383.21h1.5v1.5h-1.5zM71.02 420.08h1.5v1.5h-1.5zM115.39 384.78h1.5v1.5h-1.5zM88.27 401.85h1.5v1.5h-1.5zM76.46 416.84h1.5v1.5h-1.5zM136.22 352.69h1.5v1.5h-1.5zM63.77 416.03h1.5v1.5h-1.5zM65.93 408.58h1.5v1.5h-1.5zM66.76 400h1.5v1.5h-1.5zM137.36 359.27h1.5v1.5h-1.5zM64.39 417.28h1.5v1.5h-1.5zM91.28 384.11h1.5v1.5h-1.5zM139.76 340.88h1.5v1.5h-1.5zM61.44 422.73h1.5v1.5h-1.5zM122.08 365.86h1.5v1.5h-1.5zM62.59 422.21h1.5v1.5h-1.5zM73.9 422.2h1.5v1.5h-1.5zM134.31 344.75h1.5v1.5h-1.5zM105.8 376.73h1.5v1.5h-1.5zM59.57 411.56h1.5v1.5h-1.5zM66.2 412.61h1.5v1.5h-1.5zM138.51 344.59h1.5v1.5h-1.5zM121.67 369.64h1.5v1.5h-1.5zM93.92 398.99h1.5v1.5h-1.5zM118.31 364.52h1.5v1.5h-1.5zM55.58 424.87h1.5v1.5h-1.5zM130.8 360.91h1.5v1.5h-1.5zM93.55 381.28h1.5v1.5h-1.5zM69.61 410.04h1.5v1.5h-1.5zM122.95 355.61h1.5v1.5h-1.5zM80.43 403.28h1.5v1.5h-1.5zM96.96 380.58h1.5v1.5h-1.5zM55.5 421.86h1.5v1.5h-1.5zM64.71 417.98h1.5v1.5h-1.5zM105.17 387.12h1.5v1.5h-1.5zM108.33 352.6h1.5v1.5h-1.5zM103.02 367.18h1.5v1.5h-1.5zM70.25 425.73h1.5v1.5h-1.5zM127.27 382.94h1.5v1.5h-1.5zM138.75 352.82h1.5v1.5h-1.5zM98.77 353.79h1.5v1.5h-1.5zM136.56 367.22h1.5v1.5h-1.5zM57.48 422.52h1.5v1.5h-1.5zM95.68 359.73h1.5v1.5h-1.5zM93.09 357.51h1.5v1.5h-1.5zM106.58 412.89h1.5v1.5h-1.5zM110.11 372.41h1.5v1.5h-1.5zM111.02 348.47h1.5v1.5h-1.5zM95.42 396.1h1.5v1.5h-1.5zM87.8 388.81h1.5v1.5h-1.5zM78.56 394.61h1.5v1.5h-1.5zM110.49 377.29h1.5v1.5h-1.5zM95.52 391.79h1.5v1.5h-1.5zM66.32 400.88h1.5v1.5h-1.5zM56.76 421.86h1.5v1.5h-1.5zM88.99 405.7h1.5v1.5h-1.5zM92.96 378.2h1.5v1.5h-1.5zM99.81 379.07h1.5v1.5h-1.5zM82.36 391.03h1.5v1.5h-1.5zM139.92 377.75h1.5v1.5h-1.5zM99.18 348.67h1.5v1.5h-1.5zM107.96 350.67h1.5v1.5h-1.5zM139.93 365.99h1.5v1.5h-1.5zM141.19 342.08h1.5v1.5h-1.5zM98.86 370.85h1.5v1.5h-1.5zM105.22 367.59h1.5v1.5h-1.5zM135.17 339.59h1.5v1.5h-1.5zM96.58 378.13h1.5v1.5h-1.5zM117.59 420.29h1.5v1.5h-1.5zM59.03 414.75h1.5v1.5h-1.5zM68.47 399.24h1.5v1.5h-1.5zM75.49 392.04h1.5v1.5h-1.5zM107.38 362.96h1.5v1.5h-1.5zM133.32 345.65h1.5v1.5h-1.5zM80.23 405.1h1.5v1.5h-1.5zM102.02 371.55h1.5v1.5h-1.5zM116.85 363.57h1.5v1.5h-1.5zM123.65 357.58h1.5v1.5h-1.5zM86.54 370.47h1.5v1.5h-1.5zM109.97 402.31h1.5v1.5h-1.5zM62.97 423.89h1.5v1.5h-1.5zM114.82 393.72h1.5v1.5h-1.5zM59.89 407.76h1.5v1.5h-1.5zM114.96 361.04h1.5v1.5h-1.5zM113.3 350.87h1.5v1.5h-1.5zM95.12 365.15h1.5v1.5h-1.5zM86.54 407.62h1.5v1.5h-1.5zM88.31 407.45h1.5v1.5h-1.5zM115.86 353.49h1.5v1.5h-1.5zM88.03 393.76h1.5v1.5h-1.5zM138.57 343.83h1.5v1.5h-1.5zM133.62 374.55h1.5v1.5h-1.5zM60.67 417.67h1.5v1.5h-1.5zM83.95 423.95h1.5v1.5h-1.5zM113.56 376.31h1.5v1.5h-1.5zM135.31 341.89h1.5v1.5h-1.5zM82.63 412.88h1.5v1.5h-1.5zM80.94 423.66h1.5v1.5h-1.5zM94.41 391.2h1.5v1.5h-1.5zM96.3 401.82h1.5v1.5h-1.5zM123.95 352.16h1.5v1.5h-1.5zM103.76 381.59h1.5v1.5h-1.5zM109.75 374.63h1.5v1.5h-1.5zM81.41 409.76h1.5v1.5h-1.5zM122.93 374.71h1.5v1.5h-1.5zM63.43 389.74h1.5v1.5h-1.5zM130.1 342.09h1.5v1.5h-1.5zM111.7 388.08h1.5v1.5h-1.5zM136.65 350.9h1.5v1.5h-1.5zM61.76 417.98h1.5v1.5h-1.5zM133.93 353.17h1.5v1.5h-1.5zM94.97 402.92h1.5v1.5h-1.5zM78.79 411.98h1.5v1.5h-1.5zM82.4 376.93h1.5v1.5h-1.5zM55.21 406.46h1.5v1.5h-1.5zM112.18 389.69h1.5v1.5h-1.5zM128.75 360.19h1.5v1.5h-1.5zM82.38 405.68h1.5v1.5h-1.5zM83.27 384.55h1.5v1.5h-1.5zM136.51 370.56h1.5v1.5h-1.5zM102.42 379.56h1.5v1.5h-1.5zM131.87 379h1.5v1.5h-1.5zM70.77 400.62h1.5v1.5h-1.5zM65.55 399.53h1.5v1.5h-1.5zM104.47 378.8h1.5v1.5h-1.5zM60.87 413.28h1.5v1.5h-1.5zM123.36 342.47h1.5v1.5h-1.5zM95.91 397.77h1.5v1.5h-1.5zM117.48 362.71h1.5v1.5h-1.5zM136.49 345.38h1.5v1.5h-1.5zM68.49 414.7h1.5v1.5h-1.5zM68.54 421.97h1.5v1.5h-1.5zM84.04 371.32h1.5v1.5h-1.5zM63.17 411.38h1.5v1.5h-1.5zM63.93 408.92h1.5v1.5h-1.5zM95.69 363.19h1.5v1.5h-1.5zM112.32 340.6h1.5v1.5h-1.5zM66.63 411.02h1.5v1.5h-1.5zM103.62 388.4h1.5v1.5h-1.5zM113.72 345.08h1.5v1.5h-1.5zM114.4 399.66h1.5v1.5h-1.5zM116.7 344.58h1.5v1.5h-1.5zM126.78 358.56h1.5v1.5h-1.5zM86.25 404.99h1.5v1.5h-1.5zM111.03 405.93h1.5v1.5h-1.5zM100.87 340.91h1.5v1.5h-1.5zM138.4 357.28h1.5v1.5h-1.5zM105.17 368.81h1.5v1.5h-1.5zM77.2 359.52h1.5v1.5h-1.5zM65.85 408.8h1.5v1.5h-1.5zM94.25 384.02h1.5v1.5h-1.5zM128.45 371.44h1.5v1.5h-1.5zM118.3 342.07h1.5v1.5h-1.5zM64.47 422.7h1.5v1.5h-1.5zM114.02 348.64h1.5v1.5h-1.5zM64.78 407.83h1.5v1.5h-1.5zM100.27 390.55h1.5v1.5h-1.5zM65.59 419.74h1.5v1.5h-1.5zM105.05 400.99h1.5v1.5h-1.5zM122.69 387.47h1.5v1.5h-1.5zM124.32 345.83h1.5v1.5h-1.5zM78.25 399.21h1.5v1.5h-1.5zM115.1 341.22h1.5v1.5h-1.5zM102.8 363.78h1.5v1.5h-1.5zM64.33 423.74h1.5v1.5h-1.5zM138.24 363.57h1.5v1.5h-1.5zM129.81 338.43h1.5v1.5h-1.5zM56.63 416.29h1.5v1.5h-1.5zM84.36 357.75h1.5v1.5h-1.5zM86.96 419.68h1.5v1.5h-1.5zM76.62 409.63h1.5v1.5h-1.5zM125.18 356.71h1.5v1.5h-1.5zM131.32 352.11h1.5v1.5h-1.5zM106.94 377.39h1.5v1.5h-1.5zM60.96 386.95h1.5v1.5h-1.5zM105.18 346.87h1.5v1.5h-1.5zM73.98 394.33h1.5v1.5h-1.5zM115.72 355.31h1.5v1.5h-1.5zM89.06 413.09h1.5v1.5h-1.5zM120.91 338.22h1.5v1.5h-1.5zM98.86 408.14h1.5v1.5h-1.5zM74.82 399h1.5v1.5h-1.5zM109.58 368.15h1.5v1.5h-1.5zM64.89 425.71h1.5v1.5h-1.5zM108.58 373.29h1.5v1.5h-1.5zM126.98 363.69h1.5v1.5h-1.5zM69.15 412.74h1.5v1.5h-1.5zM79.48 385.79h1.5v1.5h-1.5zM120.73 386.58h1.5v1.5h-1.5zM100.39 369.85h1.5v1.5h-1.5zM74.69 387.66h1.5v1.5h-1.5zM86.78 412.67h1.5v1.5h-1.5zM121.6 380.99h1.5v1.5h-1.5zM63.74 393.33h1.5v1.5h-1.5zM136.23 361.17h1.5v1.5h-1.5zM89.31 364.69h1.5v1.5h-1.5zM101.97 376.34h1.5v1.5h-1.5zM102.07 355.37h1.5v1.5h-1.5zM72.27 400.04h1.5v1.5h-1.5zM70.75 388.87h1.5v1.5h-1.5zM89.66 380.69h1.5v1.5h-1.5zM73 410.48h1.5v1.5h-1.5zM72.01 401.12h1.5v1.5h-1.5zM82.34 402.91h1.5v1.5h-1.5zM70.01 424.07h1.5v1.5h-1.5zM107.86 387.19h1.5v1.5h-1.5zM120.27 386.7h1.5v1.5h-1.5zM95.74 358.05h1.5v1.5h-1.5zM83.55 401.27h1.5v1.5h-1.5zM93.37 382.73h1.5v1.5h-1.5zM112.18 356.18h1.5v1.5h-1.5zM120.05 388.96h1.5v1.5h-1.5zM100.95 376.02h1.5v1.5h-1.5zM119.3 357.44h1.5v1.5h-1.5zM102.83 397.51h1.5v1.5h-1.5zM117.56 361.36h1.5v1.5h-1.5zM130.93 337.78h1.5v1.5h-1.5zM110.21 373.08h1.5v1.5h-1.5zM90.95 393.68h1.5v1.5h-1.5zM107.72 375.65h1.5v1.5h-1.5zM104.27 350.77h1.5v1.5h-1.5zM81.93 375.98h1.5v1.5h-1.5zM108.05 350.59h1.5v1.5h-1.5zM94.41 369.57h1.5v1.5h-1.5zM109.03 364.19h1.5v1.5h-1.5zM112.16 366h1.5v1.5h-1.5zM92.15 341.15h1.5v1.5h-1.5zM109.15 395.65h1.5v1.5h-1.5zM61.47 400.95h1.5v1.5h-1.5zM70.2 409.84h1.5v1.5h-1.5zM138.81 356.68h1.5v1.5h-1.5zM85.58 424.44h1.5v1.5h-1.5zM104.84 385.27h1.5v1.5h-1.5zM129.18 352.04h1.5v1.5h-1.5zM91.59 383.58h1.5v1.5h-1.5zM59.33 422.78h1.5v1.5h-1.5zM56.94 423.34h1.5v1.5h-1.5zM58.34 420.53h1.5v1.5h-1.5zM56.68 422.34h1.5v1.5h-1.5zM58.49 422.27h1.5v1.5h-1.5zM60.11 422.01h1.5v1.5h-1.5zM57.74 420.07h1.5v1.5h-1.5zM59.13 423.81h1.5v1.5h-1.5zM58.87 420.54h1.5v1.5h-1.5zM56.34 421.75h1.5v1.5h-1.5zM58.57 423.72h1.5v1.5h-1.5zM56.91 424.02h1.5v1.5h-1.5zM58.32 422.98h1.5v1.5h-1.5zM59.15 423.81h1.5v1.5h-1.5zM59.24 422.7h1.5v1.5h-1.5zM60.13 420.89h1.5v1.5h-1.5zM57.31 419.95h1.5v1.5h-1.5zM58.87 423.46h1.5v1.5h-1.5zM57.39 421.39h1.5v1.5h-1.5zM58.31 421.55h1.5v1.5h-1.5zM57.4 420.58h1.5v1.5h-1.5zM57.44 420.53h1.5v1.5h-1.5zM58.32 423.1h1.5v1.5h-1.5zM59.03 422.43h1.5v1.5h-1.5zM58.88 422.22h1.5v1.5h-1.5zM60.91 421.23h1.5v1.5h-1.5zM56.57 419.89h1.5v1.5h-1.5zM56.19 425h1.5v1.5h-1.5zM60.24 423.78h1.5v1.5h-1.5zM56.26 424.33h1.5v1.5h-1.5zM58.61 420.67h1.5v1.5h-1.5zM56.21 424.39h1.5v1.5h-1.5zM56.17 425h1.5v1.5h-1.5zM57.7 422.6h1.5v1.5h-1.5zM61 421.74h1.5v1.5h-1.5zM60.43 422.06h1.5v1.5h-1.5zM60.71 421.61h1.5v1.5h-1.5zM57.32 423.25h1.5v1.5h-1.5zM58.53 424.69h1.5v1.5h-1.5zM60.78 422.65h1.5v1.5h-1.5zM57.12 422.6h1.5v1.5h-1.5zM60.18 423.8h1.5v1.5h-1.5zM59.08 424.79h1.5v1.5h-1.5zM57.33 424.27h1.5v1.5h-1.5zM58.66 421.53h1.5v1.5h-1.5zM57.26 421.52h1.5v1.5h-1.5zM59.07 421.18h1.5v1.5h-1.5zM61.14 423.47h1.5v1.5h-1.5zM61.14 422.8h1.5v1.5h-1.5zM58.68 424.32h1.5v1.5h-1.5zM56.54 421.76h1.5v1.5h-1.5zM56.63 425.1h1.5v1.5h-1.5zM56.53 422.32h1.5v1.5h-1.5zM57.1 423.85h1.5v1.5h-1.5zM59.98 422.85h1.5v1.5h-1.5zM56.85 421.57h1.5v1.5h-1.5zM61.13 421.89h1.5v1.5h-1.5zM58.36 422.35h1.5v1.5h-1.5zM59.66 420.7h1.5v1.5h-1.5zM60.08 423.93h1.5v1.5h-1.5zM60.05 424.72h1.5v1.5h-1.5zM56.76 422.51h1.5v1.5h-1.5zM57.04 422.22h1.5v1.5h-1.5zM57.54 420.13h1.5v1.5h-1.5zM58.3 420.83h1.5v1.5h-1.5zM60.88 422.82h1.5v1.5h-1.5zM59.99 422.6h1.5v1.5h-1.5zM58.13 424.61h1.5v1.5h-1.5zM59.44 420.25h1.5v1.5h-1.5zM59.58 423.56h1.5v1.5h-1.5zM58.76 423.34h1.5v1.5h-1.5zM58.08 421.06h1.5v1.5h-1.5zM56.14 422.66h1.5v1.5h-1.5zM58.69 424.49h1.5v1.5h-1.5zM59.81 423.9h1.5v1.5h-1.5zM58.15 423.94h1.5v1.5h-1.5zM59.13 422.93h1.5v1.5h-1.5zM59.56 422.97h1.5v1.5h-1.5zM60.07 422.28h1.5v1.5h-1.5zM56.64 422.6h1.5v1.5h-1.5zM57.39 423.66h1.5v1.5h-1.5zM60.9 422.67h1.5v1.5h-1.5zM59.84 424.44h1.5v1.5h-1.5zM59.29 424.64h1.5v1.5h-1.5zM57.23 424.59h1.5v1.5h-1.5zM56.23 420.33h1.5v1.5h-1.5zM60.98 423.28h1.5v1.5h-1.5zM56.17 421.27h1.5v1.5h-1.5zM59.46 425.04h1.5v1.5h-1.5zM59.98 424.92h1.5v1.5h-1.5zM138.67 340.67h1.5v1.5h-1.5zM140.69 342.73h1.5v1.5h-1.5zM139.71 340.59h1.5v1.5h-1.5zM140.07 341.63h1.5v1.5h-1.5zM138.48 343.36h1.5v1.5h-1.5zM138.49 341.63h1.5v1.5h-1.5zM140.04 341.87h1.5v1.5h-1.5zM140.19 341.48h1.5v1.5h-1.5zM140.23 342.06h1.5v1.5h-1.5zM140.97 341.6h1.5v1.5h-1.5zM141.12 339.88h1.5v1.5h-1.5zM140.92 340.69h1.5v1.5h-1.5zM140.4 341.53h1.5v1.5h-1.5zM138.72 343.23h1.5v1.5h-1.5zM140.29 342.68h1.5v1.5h-1.5zM140.1 341.54h1.5v1.5h-1.5zM140.08 341.99h1.5v1.5h-1.5zM138.69 342.47h1.5v1.5h-1.5zM140.42 340.26h1.5v1.5h-1.5zM138.99 342.43h1.5v1.5h-1.5zM139.48 341.99h1.5v1.5h-1.5zM140.18 340.75h1.5v1.5h-1.5zM140.69 340.55h1.5v1.5h-1.5zM140.53 339.94h1.5v1.5h-1.5zM139.48 341.93h1.5v1.5h-1.5zM140.25 342.43h1.5v1.5h-1.5zM140.92 342.03h1.5v1.5h-1.5zM139.89 341.65h1.5v1.5h-1.5zM139.16 343.58h1.5v1.5h-1.5zM138.84 341.81h1.5v1.5h-1.5zM141.39 343.1h1.5v1.5h-1.5zM141.2 339.93h1.5v1.5h-1.5zM140.78 342.56h1.5v1.5h-1.5zM137.85 340.28h1.5v1.5h-1.5zM138.04 342.49h1.5v1.5h-1.5zM141.34 341.07h1.5v1.5h-1.5zM140.9 340.46h1.5v1.5h-1.5zM138.46 341.71h1.5v1.5h-1.5zM138.14 342.18h1.5v1.5h-1.5zM139.66 340.52h1.5v1.5h-1.5zM138.88 341.09h1.5v1.5h-1.5zM138.32 342.65h1.5v1.5h-1.5zM138 341.42h1.5v1.5h-1.5zM140 340.92h1.5v1.5h-1.5zM139.37 340.07h1.5v1.5h-1.5zM140.52 341.46h1.5v1.5h-1.5zM141.09 342.94h1.5v1.5h-1.5zM138.89 341.53h1.5v1.5h-1.5zM140.05 340h1.5v1.5h-1.5zM140.36 343.44h1.5v1.5h-1.5z" fill="#b4b4b4" fill-opacity="0.52"/>
<rect x="53.8" y="336.6" width="92.6" height="92.7" fill="none" stroke="#1a1a1a" stroke-width="1"/>
<line x1="50.8" y1="425.2" x2="53.8" y2="425.2" stroke="#1a1a1a" stroke-width="0.8"/>
<text x="46.6" y="427.46" font-size="6.27" text-anchor="end" fill="#333" textLength="10.9" lengthAdjust="spacingAndGlyphs" stroke="#333" stroke-width="0.05">0.00</text>
<line x1="57.7" y1="429.3" x2="57.7" y2="431.9" stroke="#1a1a1a" stroke-width="0.8"/>
<text x="57.7" y="441.14" font-size="6.49" text-anchor="middle" fill="#333" textLength="10.9" lengthAdjust="spacingAndGlyphs" stroke="#333" stroke-width="0.05">0.00</text>
<line x1="50.8" y1="404.15" x2="53.8" y2="404.15" stroke="#1a1a1a" stroke-width="0.8"/>
<text x="46.6" y="406.41" font-size="6.27" text-anchor="end" fill="#333" textLength="10.9" lengthAdjust="spacingAndGlyphs" stroke="#333" stroke-width="0.05">0.25</text>
<line x1="78.75" y1="429.3" x2="78.75" y2="431.9" stroke="#1a1a1a" stroke-width="0.8"/>
<text x="78.75" y="441.14" font-size="6.49" text-anchor="middle" fill="#333" textLength="10.9" lengthAdjust="spacingAndGlyphs" stroke="#333" stroke-width="0.05">0.25</text>
<line x1="50.8" y1="383.1" x2="53.8" y2="383.1" stroke="#1a1a1a" stroke-width="0.8"/>
<text x="46.6" y="385.36" font-size="6.27" text-anchor="end" fill="#333" textLength="10.9" lengthAdjust="spacingAndGlyphs" stroke="#333" stroke-width="0.05">0.50</text>
<line x1="99.8" y1="429.3" x2="99.8" y2="431.9" stroke="#1a1a1a" stroke-width="0.8"/>
<text x="99.8" y="441.14" font-size="6.49" text-anchor="middle" fill="#333" textLength="10.9" lengthAdjust="spacingAndGlyphs" stroke="#333" stroke-width="0.05">0.50</text>
<line x1="50.8" y1="362.05" x2="53.8" y2="362.05" stroke="#1a1a1a" stroke-width="0.8"/>
<text x="46.6" y="364.31" font-size="6.27" text-anchor="end" fill="#333" textLength="10.9" lengthAdjust="spacingAndGlyphs" stroke="#333" stroke-width="0.05">0.75</text>
<line x1="120.85" y1="429.3" x2="120.85" y2="431.9" stroke="#1a1a1a" stroke-width="0.8"/>
<text x="120.85" y="441.14" font-size="6.49" text-anchor="middle" fill="#333" textLength="10.9" lengthAdjust="spacingAndGlyphs" stroke="#333" stroke-width="0.05">0.75</text>
<line x1="50.8" y1="341" x2="53.8" y2="341" stroke="#1a1a1a" stroke-width="0.8"/>
<text x="46.6" y="343.26" font-size="6.27" text-anchor="end" fill="#333" textLength="10.9" lengthAdjust="spacingAndGlyphs" stroke="#333" stroke-width="0.05">1.00</text>
<line x1="141.9" y1="429.3" x2="141.9" y2="431.9" stroke="#1a1a1a" stroke-width="0.8"/>
<text x="141.9" y="441.14" font-size="6.49" text-anchor="middle" fill="#333" textLength="10.9" lengthAdjust="spacingAndGlyphs" stroke="#333" stroke-width="0.05">1.00</text>
<path d="M112.05 500.21h1.5v1.5h-1.5zM98.86 497.34h1.5v1.5h-1.5zM90.23 502.17h1.5v1.5h-1.5zM92.81 497.77h1.5v1.5h-1.5zM99.29 487.35h1.5v1.5h-1.5zM97.95 487.18h1.5v1.5h-1.5zM99.52 494.62h1.5v1.5h-1.5zM94.66 504.33h1.5v1.5h-1.5zM84.91 500.21h1.5v1.5h-1.5zM94.97 494.34h1.5v1.5h-1.5zM98.5 505.52h1.5v1.5h-1.5zM91.07 506.52h1.5v1.5h-1.5zM103.2 495.44h1.5v1.5h-1.5zM96.95 503.26h1.5v1.5h-1.5zM87.06 503.59h1.5v1.5h-1.5zM95.33 493.29h1.5v1.5h-1.5zM85.29 497.11h1.5v1.5h-1.5zM89.96 502.35h1.5v1.5h-1.5zM93.68 500.59h1.5v1.5h-1.5zM99.27 489.03h1.5v1.5h-1.5zM98.42 500.11h1.5v1.5h-1.5zM98.98 492.96h1.5v1.5h-1.5zM102.1 492.9h1.5v1.5h-1.5zM84.62 505.63h1.5v1.5h-1.5zM93.18 490.4h1.5v1.5h-1.5zM95.06 489.96h1.5v1.5h-1.5zM98.08 505.16h1.5v1.5h-1.5zM96.34 492.34h1.5v1.5h-1.5zM98.89 507.17h1.5v1.5h-1.5zM99.02 500.3h1.5v1.5h-1.5zM81.14 505.16h1.5v1.5h-1.5zM82.11 510.27h1.5v1.5h-1.5zM106.18 475.01h1.5v1.5h-1.5zM103.5 491.25h1.5v1.5h-1.5zM109.42 490.3h1.5v1.5h-1.5zM89.1 517.33h1.5v1.5h-1.5zM102.43 512.08h1.5v1.5h-1.5zM75.82 507.29h1.5v1.5h-1.5zM96.48 503.11h1.5v1.5h-1.5zM103.4 495.25h1.5v1.5h-1.5zM97.52 492.81h1.5v1.5h-1.5zM91.9 496.17h1.5v1.5h-1.5zM112.56 499.18h1.5v1.5h-1.5zM97.23 492.23h1.5v1.5h-1.5zM92.23 498.02h1.5v1.5h-1.5zM83.91 503.33h1.5v1.5h-1.5zM96.38 487.9h1.5v1.5h-1.5zM102.83 499.1h1.5v1.5h-1.5zM88.21 484.64h1.5v1.5h-1.5zM102.45 509.45h1.5v1.5h-1.5zM93.71 504.14h1.5v1.5h-1.5zM91.8 510.93h1.5v1.5h-1.5zM93.14 501.3h1.5v1.5h-1.5zM94.46 488.91h1.5v1.5h-1.5zM97.76 505.41h1.5v1.5h-1.5zM83.78 504h1.5v1.5h-1.5zM104.38 486.88h1.5v1.5h-1.5zM91.98 488.62h1.5v1.5h-1.5zM99.29 500.22h1.5v1.5h-1.5zM99.29 496.13h1.5v1.5h-1.5zM88.25 501.95h1.5v1.5h-1.5zM97.38 485.84h1.5v1.5h-1.5zM88.83 496.57h1.5v1.5h-1.5zM96.4 496.68h1.5v1.5h-1.5zM87.52 489h1.5v1.5h-1.5zM105.56 481.33h1.5v1.5h-1.5zM99.63 483.88h1.5v1.5h-1.5zM100.15 487.46h1.5v1.5h-1.5zM93.91 495.2h1.5v1.5h-1.5zM93.97 505.1h1.5v1.5h-1.5zM93.19 505.84h1.5v1.5h-1.5zM88.31 501.52h1.5v1.5h-1.5zM91.99 481.4h1.5v1.5h-1.5zM109.06 484.28h1.5v1.5h-1.5zM102.02 501.31h1.5v1.5h-1.5zM98.33 506.88h1.5v1.5h-1.5zM91.83 501.22h1.5v1.5h-1.5zM93.71 490.25h1.5v1.5h-1.5zM90.68 479.02h1.5v1.5h-1.5zM92.68 490.6h1.5v1.5h-1.5zM84.99 492.28h1.5v1.5h-1.5zM87.52 497.11h1.5v1.5h-1.5zM96.33 489.77h1.5v1.5h-1.5zM100.77 491.9h1.5v1.5h-1.5zM95.3 481.22h1.5v1.5h-1.5zM93.06 496.99h1.5v1.5h-1.5zM92.99 496.04h1.5v1.5h-1.5zM89.45 501.32h1.5v1.5h-1.5zM100.01 499.65h1.5v1.5h-1.5zM99.72 499.78h1.5v1.5h-1.5zM106.61 494.34h1.5v1.5h-1.5zM109.05 488.75h1.5v1.5h-1.5zM95.43 489.02h1.5v1.5h-1.5zM104.78 481.91h1.5v1.5h-1.5zM106.4 486.39h1.5v1.5h-1.5zM87.96 491.24h1.5v1.5h-1.5zM95.75 493.17h1.5v1.5h-1.5zM105.51 499.19h1.5v1.5h-1.5zM105.99 474.79h1.5v1.5h-1.5zM100.39 497.47h1.5v1.5h-1.5zM106.29 491.96h1.5v1.5h-1.5zM103.97 484.25h1.5v1.5h-1.5zM85.49 496.68h1.5v1.5h-1.5zM85.4 504.72h1.5v1.5h-1.5zM100.76 504.26h1.5v1.5h-1.5zM91.18 501.2h1.5v1.5h-1.5zM98.62 492.83h1.5v1.5h-1.5zM99.55 499.24h1.5v1.5h-1.5zM90.93 494.52h1.5v1.5h-1.5zM90.07 504.3h1.5v1.5h-1.5zM101.37 501.03h1.5v1.5h-1.5zM89.81 489.27h1.5v1.5h-1.5zM95.99 513.75h1.5v1.5h-1.5zM90.87 482.6h1.5v1.5h-1.5zM116.73 492.88h1.5v1.5h-1.5zM101.34 489.13h1.5v1.5h-1.5zM98.55 509.84h1.5v1.5h-1.5zM103.48 492.11h1.5v1.5h-1.5zM94.57 509.39h1.5v1.5h-1.5zM91.72 498.47h1.5v1.5h-1.5zM94.45 495.06h1.5v1.5h-1.5zM93.49 489.32h1.5v1.5h-1.5zM100.75 504.05h1.5v1.5h-1.5zM91.91 494.27h1.5v1.5h-1.5zM92.27 486.57h1.5v1.5h-1.5zM92.37 495.52h1.5v1.5h-1.5zM100.61 503.95h1.5v1.5h-1.5zM105.21 495.48h1.5v1.5h-1.5zM91.11 503.19h1.5v1.5h-1.5zM84.06 510.37h1.5v1.5h-1.5zM106.98 494.38h1.5v1.5h-1.5zM94.19 495.44h1.5v1.5h-1.5zM100.35 501.41h1.5v1.5h-1.5zM94.71 494.69h1.5v1.5h-1.5zM103.48 492.38h1.5v1.5h-1.5zM108.13 494.73h1.5v1.5h-1.5zM93.8 507.85h1.5v1.5h-1.5zM95.9 491.48h1.5v1.5h-1.5zM94.45 498.23h1.5v1.5h-1.5zM89.2 502.9h1.5v1.5h-1.5zM93.01 497.99h1.5v1.5h-1.5zM103.91 490.29h1.5v1.5h-1.5zM102.78 485.43h1.5v1.5h-1.5zM92.88 486.95h1.5v1.5h-1.5zM96.54 506.54h1.5v1.5h-1.5zM91.87 498.28h1.5v1.5h-1.5zM85.19 481.61h1.5v1.5h-1.5zM95.84 489.87h1.5v1.5h-1.5zM87.54 498.07h1.5v1.5h-1.5zM98.04 501.81h1.5v1.5h-1.5zM98 495.93h1.5v1.5h-1.5zM98.86 505.05h1.5v1.5h-1.5zM99.88 497.63h1.5v1.5h-1.5zM90.05 515.2h1.5v1.5h-1.5zM94.78 499.73h1.5v1.5h-1.5zM113.16 501.07h1.5v1.5h-1.5zM106.82 483.78h1.5v1.5h-1.5zM99.11 493.72h1.5v1.5h-1.5zM99.74 506.92h1.5v1.5h-1.5zM106.28 496.15h1.5v1.5h-1.5zM90.84 498.01h1.5v1.5h-1.5zM76.45 512.27h1.5v1.5h-1.5zM87.69 511.03h1.5v1.5h-1.5zM100.31 482.97h1.5v1.5h-1.5zM96.21 499h1.5v1.5h-1.5zM98.43 499.79h1.5v1.5h-1.5zM97.04 493.13h1.5v1.5h-1.5zM94.46 500.2h1.5v1.5h-1.5zM96.59 495.96h1.5v1.5h-1.5zM100.93 506.9h1.5v1.5h-1.5zM88.07 502.58h1.5v1.5h-1.5zM99.55 505.64h1.5v1.5h-1.5zM104.71 483.06h1.5v1.5h-1.5zM90.77 489.43h1.5v1.5h-1.5zM81.08 501.59h1.5v1.5h-1.5zM84.48 491.55h1.5v1.5h-1.5zM102.06 491.04h1.5v1.5h-1.5zM91.81 506.64h1.5v1.5h-1.5zM98.94 499.89h1.5v1.5h-1.5zM100.78 507.78h1.5v1.5h-1.5zM98.97 491.96h1.5v1.5h-1.5zM79.63 511.23h1.5v1.5h-1.5zM90.81 502.93h1.5v1.5h-1.5zM83.5 500.21h1.5v1.5h-1.5zM87.73 499.76h1.5v1.5h-1.5zM82.7 509.76h1.5v1.5h-1.5zM100.78 508.84h1.5v1.5h-1.5zM95.54 485.81h1.5v1.5h-1.5zM101.57 505.6h1.5v1.5h-1.5zM111.7 496.85h1.5v1.5h-1.5zM102.45 487.68h1.5v1.5h-1.5zM93.49 492.73h1.5v1.5h-1.5zM76 501.81h1.5v1.5h-1.5zM96.9 499.38h1.5v1.5h-1.5zM96.62 488.5h1.5v1.5h-1.5zM102.48 499.97h1.5v1.5h-1.5zM101.39 486.36h1.5v1.5h-1.5zM96.56 493.79h1.5v1.5h-1.5zM78.21 514.13h1.5v1.5h-1.5zM98.42 507.91h1.5v1.5h-1.5zM101.8 486.35h1.5v1.5h-1.5zM88.65 508.07h1.5v1.5h-1.5zM94.29 495.75h1.5v1.5h-1.5zM101.58 497.22h1.5v1.5h-1.5zM95.94 504.76h1.5v1.5h-1.5zM97.71 502.55h1.5v1.5h-1.5zM102.85 489.71h1.5v1.5h-1.5zM83.93 497.77h1.5v1.5h-1.5zM87.8 491.88h1.5v1.5h-1.5zM88.24 489.46h1.5v1.5h-1.5zM103.28 479.9h1.5v1.5h-1.5zM98 496.14h1.5v1.5h-1.5zM104.34 504.22h1.5v1.5h-1.5zM95.34 499.73h1.5v1.5h-1.5zM95.2 509.57h1.5v1.5h-1.5zM83.6 513.79h1.5v1.5h-1.5zM106.11 496.88h1.5v1.5h-1.5zM100.08 496.93h1.5v1.5h-1.5zM93.9 487.62h1.5v1.5h-1.5zM79.01 503.58h1.5v1.5h-1.5zM89.97 505.93h1.5v1.5h-1.5zM84.03 512.35h1.5v1.5h-1.5zM87.01 491.19h1.5v1.5h-1.5zM90.65 502.23h1.5v1.5h-1.5zM94.33 492.79h1.5v1.5h-1.5zM102.99 493.68h1.5v1.5h-1.5zM95.61 493.19h1.5v1.5h-1.5zM89.9 497.16h1.5v1.5h-1.5zM107.67 498.9h1.5v1.5h-1.5zM89.47 510.85h1.5v1.5h-1.5zM95.97 492.32h1.5v1.5h-1.5zM92.56 500.61h1.5v1.5h-1.5zM104.02 494.64h1.5v1.5h-1.5zM100.58 498.65h1.5v1.5h-1.5zM104.88 487.59h1.5v1.5h-1.5zM94.59 502.08h1.5v1.5h-1.5zM113.77 500.39h1.5v1.5h-1.5zM88.77 518.31h1.5v1.5h-1.5zM100.55 495.3h1.5v1.5h-1.5zM95.07 509.09h1.5v1.5h-1.5zM95.78 503.18h1.5v1.5h-1.5zM87.34 501.3h1.5v1.5h-1.5zM97.89 497.62h1.5v1.5h-1.5zM92.12 492.44h1.5v1.5h-1.5zM97.44 499.43h1.5v1.5h-1.5zM99.81 493.6h1.5v1.5h-1.5zM102.23 488.86h1.5v1.5h-1.5zM100.98 500.14h1.5v1.5h-1.5zM105.1 486.73h1.5v1.5h-1.5zM91.9 488.51h1.5v1.5h-1.5zM96.41 504.54h1.5v1.5h-1.5zM95.48 506.96h1.5v1.5h-1.5zM103.77 504.48h1.5v1.5h-1.5zM106.17 500.73h1.5v1.5h-1.5zM94.82 487.45h1.5v1.5h-1.5zM98.27 508.91h1.5v1.5h-1.5zM94.83 511.23h1.5v1.5h-1.5zM100.56 503.46h1.5v1.5h-1.5zM95.16 498.14h1.5v1.5h-1.5zM85.11 497.39h1.5v1.5h-1.5zM108.42 500.42h1.5v1.5h-1.5zM91.73 495.23h1.5v1.5h-1.5zM104.41 501.23h1.5v1.5h-1.5zM97.24 493.76h1.5v1.5h-1.5zM103.29 501.12h1.5v1.5h-1.5zM113.29 476.38h1.5v1.5h-1.5zM86.22 505.65h1.5v1.5h-1.5zM98.43 501.02h1.5v1.5h-1.5zM92.17 497.85h1.5v1.5h-1.5zM90.71 502.96h1.5v1.5h-1.5zM97.41 499.44h1.5v1.5h-1.5zM98.48 488.06h1.5v1.5h-1.5zM103.84 493.85h1.5v1.5h-1.5zM110.47 495.68h1.5v1.5h-1.5zM102.27 481.13h1.5v1.5h-1.5zM97.35 490.07h1.5v1.5h-1.5zM92.65 501.97h1.5v1.5h-1.5zM97.44 492.59h1.5v1.5h-1.5zM98.6 490.85h1.5v1.5h-1.5zM98.31 496.66h1.5v1.5h-1.5zM91.74 498.64h1.5v1.5h-1.5zM96.42 496.59h1.5v1.5h-1.5zM88.43 489.07h1.5v1.5h-1.5zM103.79 492.64h1.5v1.5h-1.5zM92.74 489.11h1.5v1.5h-1.5zM94.51 498.82h1.5v1.5h-1.5zM100.3 499.49h1.5v1.5h-1.5zM97.05 499.91h1.5v1.5h-1.5zM100.43 492.05h1.5v1.5h-1.5zM101.19 491.72h1.5v1.5h-1.5zM98.47 492.89h1.5v1.5h-1.5zM101.76 502.12h1.5v1.5h-1.5zM88 498.15h1.5v1.5h-1.5zM97.34 497.94h1.5v1.5h-1.5zM106.7 489.9h1.5v1.5h-1.5zM105.01 493.19h1.5v1.5h-1.5zM86.67 509.37h1.5v1.5h-1.5zM103.78 493.91h1.5v1.5h-1.5zM92.89 487.57h1.5v1.5h-1.5zM108.25 490.02h1.5v1.5h-1.5zM105.22 496.14h1.5v1.5h-1.5zM89.7 510.59h1.5v1.5h-1.5zM103.88 505.82h1.5v1.5h-1.5zM93.47 496.55h1.5v1.5h-1.5zM100.32 509.25h1.5v1.5h-1.5zM94.64 502.91h1.5v1.5h-1.5zM106.4 494.9h1.5v1.5h-1.5zM91.72 484.74h1.5v1.5h-1.5zM97.38 490.06h1.5v1.5h-1.5zM98.52 496.87h1.5v1.5h-1.5zM101.44 500.27h1.5v1.5h-1.5zM86.66 503.91h1.5v1.5h-1.5zM100.65 497.95h1.5v1.5h-1.5zM103.68 488.85h1.5v1.5h-1.5zM97.74 487.6h1.5v1.5h-1.5zM98.92 493.15h1.5v1.5h-1.5zM94.4 497.6h1.5v1.5h-1.5zM95.79 488.54h1.5v1.5h-1.5zM107.24 485.1h1.5v1.5h-1.5zM98.01 496.7h1.5v1.5h-1.5zM98.08 500.04h1.5v1.5h-1.5zM96.2 498.77h1.5v1.5h-1.5zM96.05 514.07h1.5v1.5h-1.5zM96.28 491.39h1.5v1.5h-1.5zM88.89 485.17h1.5v1.5h-1.5zM97.31 500.19h1.5v1.5h-1.5zM106.1 500.63h1.5v1.5h-1.5zM115.04 496.32h1.5v1.5h-1.5zM102.8 483.73h1.5v1.5h-1.5zM101.14 493.9h1.5v1.5h-1.5zM91.44 498.67h1.5v1.5h-1.5zM97.86 488.45h1.5v1.5h-1.5zM81.04 495.93h1.5v1.5h-1.5zM88.56 503.01h1.5v1.5h-1.5zM95.64 501.12h1.5v1.5h-1.5zM100.51 507.26h1.5v1.5h-1.5zM99.6 502.89h1.5v1.5h-1.5zM93.8 497.52h1.5v1.5h-1.5zM86.59 495.87h1.5v1.5h-1.5zM111.01 497.02h1.5v1.5h-1.5zM90.13 486.73h1.5v1.5h-1.5zM107.81 508.34h1.5v1.5h-1.5zM93.82 503h1.5v1.5h-1.5zM97.43 496.71h1.5v1.5h-1.5zM89.3 501.51h1.5v1.5h-1.5zM103.91 501.15h1.5v1.5h-1.5zM97.84 491.16h1.5v1.5h-1.5zM108.17 489.81h1.5v1.5h-1.5zM97.96 502.89h1.5v1.5h-1.5zM98.03 485.79h1.5v1.5h-1.5zM99.46 486.22h1.5v1.5h-1.5zM93.04 491.29h1.5v1.5h-1.5zM94.57 501.97h1.5v1.5h-1.5zM92.01 488.53h1.5v1.5h-1.5zM100.34 496.48h1.5v1.5h-1.5zM94.54 490.73h1.5v1.5h-1.5zM93.24 488.67h1.5v1.5h-1.5zM98.46 499.85h1.5v1.5h-1.5zM95.04 504.46h1.5v1.5h-1.5zM88.92 502.09h1.5v1.5h-1.5zM92.93 499.91h1.5v1.5h-1.5zM91.11 502.71h1.5v1.5h-1.5zM98.57 505.58h1.5v1.5h-1.5zM78.85 488.42h1.5v1.5h-1.5zM97.04 494.66h1.5v1.5h-1.5zM104.36 485.5h1.5v1.5h-1.5zM106.3 486.34h1.5v1.5h-1.5zM101.63 491.11h1.5v1.5h-1.5zM95.47 497.36h1.5v1.5h-1.5zM71.55 490.82h1.5v1.5h-1.5zM95.54 503.86h1.5v1.5h-1.5zM104.32 499.26h1.5v1.5h-1.5zM98.98 501.87h1.5v1.5h-1.5zM88.34 490.11h1.5v1.5h-1.5zM97.28 507.62h1.5v1.5h-1.5zM100.91 488.18h1.5v1.5h-1.5zM94.37 491.46h1.5v1.5h-1.5zM105.38 484.91h1.5v1.5h-1.5zM100.74 489.17h1.5v1.5h-1.5zM107.63 491.44h1.5v1.5h-1.5zM94.49 498.75h1.5v1.5h-1.5zM118.69 497.54h1.5v1.5h-1.5zM96.53 509.98h1.5v1.5h-1.5zM96.09 497.65h1.5v1.5h-1.5zM95.76 490.55h1.5v1.5h-1.5zM106.64 491.64h1.5v1.5h-1.5zM90.82 501.54h1.5v1.5h-1.5zM96.47 501.64h1.5v1.5h-1.5zM95.84 492.4h1.5v1.5h-1.5zM97.82 480.57h1.5v1.5h-1.5zM84.85 498.43h1.5v1.5h-1.5zM103.68 502.44h1.5v1.5h-1.5zM84.49 483.82h1.5v1.5h-1.5zM103 490.3h1.5v1.5h-1.5zM104.65 501.44h1.5v1.5h-1.5zM88.39 486.7h1.5v1.5h-1.5zM97.09 508.21h1.5v1.5h-1.5zM95.41 484.65h1.5v1.5h-1.5zM88.88 510.41h1.5v1.5h-1.5zM80.1 502h1.5v1.5h-1.5zM95.61 501.44h1.5v1.5h-1.5zM92.35 499.55h1.5v1.5h-1.5zM91.82 501.9h1.5v1.5h-1.5zM103.07 494.23h1.5v1.5h-1.5zM99.89 509.29h1.5v1.5h-1.5zM89.84 490.46h1.5v1.5h-1.5zM97.27 488.29h1.5v1.5h-1.5zM86.05 494.34h1.5v1.5h-1.5zM92.29 497.38h1.5v1.5h-1.5zM91.41 504.91h1.5v1.5h-1.5zM88.85 499.43h1.5v1.5h-1.5zM103.51 502.39h1.5v1.5h-1.5zM92.07 504.97h1.5v1.5h-1.5zM90.36 492.96h1.5v1.5h-1.5zM93.2 504.39h1.5v1.5h-1.5zM101.1 492.37h1.5v1.5h-1.5zM98.67 494.56h1.5v1.5h-1.5zM92.11 491.37h1.5v1.5h-1.5zM91.91 495.85h1.5v1.5h-1.5zM97.35 487.35h1.5v1.5h-1.5zM95.13 490.53h1.5v1.5h-1.5zM84.39 498.66h1.5v1.5h-1.5zM97.62 495.18h1.5v1.5h-1.5zM82.16 494.71h1.5v1.5h-1.5zM91.92 502.69h1.5v1.5h-1.5zM107.15 494.98h1.5v1.5h-1.5zM102.8 507.45h1.5v1.5h-1.5zM101.1 493.46h1.5v1.5h-1.5zM98.34 502.92h1.5v1.5h-1.5zM98.75 497.09h1.5v1.5h-1.5zM105.74 497.49h1.5v1.5h-1.5zM85.09 491.47h1.5v1.5h-1.5zM88.78 500.03h1.5v1.5h-1.5zM101.55 482.15h1.5v1.5h-1.5zM100.19 489.74h1.5v1.5h-1.5zM97.61 494.94h1.5v1.5h-1.5zM95.9 493.91h1.5v1.5h-1.5zM90.04 496.4h1.5v1.5h-1.5zM104.46 492.77h1.5v1.5h-1.5zM95.35 490.82h1.5v1.5h-1.5zM90.3 499.49h1.5v1.5h-1.5zM112.11 485.6h1.5v1.5h-1.5zM101.7 495.53h1.5v1.5h-1.5zM91.4 506.04h1.5v1.5h-1.5zM96.6 486.32h1.5v1.5h-1.5zM95.97 489.94h1.5v1.5h-1.5zM94.44 495.87h1.5v1.5h-1.5zM99.1 473.19h1.5v1.5h-1.5zM97.34 502.63h1.5v1.5h-1.5zM102.91 494.32h1.5v1.5h-1.5zM100.28 500.41h1.5v1.5h-1.5zM102.7 499.48h1.5v1.5h-1.5zM99.22 498.24h1.5v1.5h-1.5zM91.34 493.03h1.5v1.5h-1.5zM99.36 510.38h1.5v1.5h-1.5zM101.37 488.63h1.5v1.5h-1.5zM97.76 493.09h1.5v1.5h-1.5zM98.44 493.22h1.5v1.5h-1.5zM94.1 488.86h1.5v1.5h-1.5zM105.11 499.91h1.5v1.5h-1.5zM96.96 502.77h1.5v1.5h-1.5zM93.31 489.68h1.5v1.5h-1.5zM96.68 494.38h1.5v1.5h-1.5zM93.91 479.14h1.5v1.5h-1.5zM104.57 490.83h1.5v1.5h-1.5zM97.9 482.54h1.5v1.5h-1.5zM104.83 491.45h1.5v1.5h-1.5zM95.28 504.83h1.5v1.5h-1.5zM105.83 480.63h1.5v1.5h-1.5zM112.77 489.3h1.5v1.5h-1.5zM102.69 508.86h1.5v1.5h-1.5zM101.09 500.26h1.5v1.5h-1.5zM90.86 503.76h1.5v1.5h-1.5zM90.5 501.5h1.5v1.5h-1.5zM100.28 500.18h1.5v1.5h-1.5zM94.03 497.75h1.5v1.5h-1.5zM110.41 486.29h1.5v1.5h-1.5zM92.22 491.29h1.5v1.5h-1.5zM107.94 493.89h1.5v1.5h-1.5zM101.54 486.54h1.5v1.5h-1.5zM86.83 497.56h1.5v1.5h-1.5zM95.71 490.04h1.5v1.5h-1.5zM105.58 496.98h1.5v1.5h-1.5zM86.1 502.61h1.5v1.5h-1.5zM96.59 500.81h1.5v1.5h-1.5zM98.21 504.2h1.5v1.5h-1.5zM100.18 489.47h1.5v1.5h-1.5zM110.32 492.98h1.5v1.5h-1.5zM103.45 499.24h1.5v1.5h-1.5zM91.81 503.16h1.5v1.5h-1.5zM95.68 505.75h1.5v1.5h-1.5zM84.2 482.78h1.5v1.5h-1.5zM94.47 496.55h1.5v1.5h-1.5zM97.79 498.81h1.5v1.5h-1.5zM95.05 488.02h1.5v1.5h-1.5zM98.39 487.23h1.5v1.5h-1.5zM88.35 494.74h1.5v1.5h-1.5zM90.24 507.34h1.5v1.5h-1.5zM101.53 492.79h1.5v1.5h-1.5zM101.31 489.97h1.5v1.5h-1.5zM83.05 495.69h1.5v1.5h-1.5zM109.52 491.08h1.5v1.5h-1.5zM103.09 483.58h1.5v1.5h-1.5zM108.66 511.03h1.5v1.5h-1.5zM94.38 497.76h1.5v1.5h-1.5zM94.74 488.41h1.5v1.5h-1.5zM87.93 516.49h1.5v1.5h-1.5zM98.37 497.41h1.5v1.5h-1.5zM103.7 485.83h1.5v1.5h-1.5zM99.04 485.38h1.5v1.5h-1.5zM87.56 499.03h1.5v1.5h-1.5zM87.36 484.72h1.5v1.5h-1.5zM94.7 489.42h1.5v1.5h-1.5zM99.64 489.65h1.5v1.5h-1.5zM103.39 485.85h1.5v1.5h-1.5zM101.82 493.74h1.5v1.5h-1.5zM101.51 508.72h1.5v1.5h-1.5zM90.3 487.04h1.5v1.5h-1.5zM100.34 505.33h1.5v1.5h-1.5zM87.85 507.33h1.5v1.5h-1.5zM93.81 490.44h1.5v1.5h-1.5zM96.32 490.42h1.5v1.5h-1.5zM87.64 499.25h1.5v1.5h-1.5zM97.62 492.61h1.5v1.5h-1.5zM101.42 493.77h1.5v1.5h-1.5zM102.07 485.45h1.5v1.5h-1.5zM99.87 503.9h1.5v1.5h-1.5zM91.9 503.62h1.5v1.5h-1.5zM107.12 487.21h1.5v1.5h-1.5zM96.93 500.21h1.5v1.5h-1.5zM92.5 486.2h1.5v1.5h-1.5zM95.35 500.75h1.5v1.5h-1.5zM91.16 492.49h1.5v1.5h-1.5zM83.81 503.59h1.5v1.5h-1.5zM100.74 488.81h1.5v1.5h-1.5zM100.48 497.12h1.5v1.5h-1.5zM102.11 482.23h1.5v1.5h-1.5zM90.73 503.77h1.5v1.5h-1.5zM94.04 495.94h1.5v1.5h-1.5zM92.97 501.66h1.5v1.5h-1.5zM81.17 493.84h1.5v1.5h-1.5zM89.35 497.77h1.5v1.5h-1.5zM93.01 491.88h1.5v1.5h-1.5zM88.14 506.61h1.5v1.5h-1.5zM97.03 495.34h1.5v1.5h-1.5zM93.12 494.06h1.5v1.5h-1.5zM93.07 499.6h1.5v1.5h-1.5zM88.41 498.47h1.5v1.5h-1.5zM102.72 495.37h1.5v1.5h-1.5zM96.03 489.1h1.5v1.5h-1.5zM93.66 501.6h1.5v1.5h-1.5zM97.11 483.62h1.5v1.5h-1.5zM93.82 497.27h1.5v1.5h-1.5zM98.65 498.69h1.5v1.5h-1.5zM93.94 487.36h1.5v1.5h-1.5zM84.78 495.7h1.5v1.5h-1.5zM102.75 485.17h1.5v1.5h-1.5zM98.06 492.06h1.5v1.5h-1.5zM92.61 509.77h1.5v1.5h-1.5zM97.97 494.3h1.5v1.5h-1.5zM99.37 485.53h1.5v1.5h-1.5zM113.73 487.41h1.5v1.5h-1.5zM108.23 491.24h1.5v1.5h-1.5zM98.91 502.48h1.5v1.5h-1.5zM98.29 499.89h1.5v1.5h-1.5zM97.99 505.56h1.5v1.5h-1.5zM104.09 504.92h1.5v1.5h-1.5zM99.81 510.1h1.5v1.5h-1.5zM96.47 494.02h1.5v1.5h-1.5zM102.16 483.09h1.5v1.5h-1.5zM88.23 499.29h1.5v1.5h-1.5zM94.93 496.12h1.5v1.5h-1.5zM104.82 498.15h1.5v1.5h-1.5zM89.34 502.59h1.5v1.5h-1.5zM102.59 500.08h1.5v1.5h-1.5zM84.1 502.8h1.5v1.5h-1.5zM104.51 482.12h1.5v1.5h-1.5zM91.96 502.15h1.5v1.5h-1.5zM101.65 487.05h1.5v1.5h-1.5zM96.41 495.54h1.5v1.5h-1.5zM101.89 505.93h1.5v1.5h-1.5zM106.33 500.97h1.5v1.5h-1.5zM83.36 490.09h1.5v1.5h-1.5zM96.86 489.91h1.5v1.5h-1.5zM85.96 496.64h1.5v1.5h-1.5zM98.53 493.85h1.5v1.5h-1.5zM97.61 496.2h1.5v1.5h-1.5zM96.14 504.78h1.5v1.5h-1.5zM110.25 495.95h1.5v1.5h-1.5zM87.75 496.24h1.5v1.5h-1.5zM94.7 502.17h1.5v1.5h-1.5zM118.32 486.98h1.5v1.5h-1.5zM84.16 503.18h1.5v1.5h-1.5zM93.76 497.47h1.5v1.5h-1.5zM100.7 491.39h1.5v1.5h-1.5zM109.38 495.45h1.5v1.5h-1.5zM94.46 488.42h1.5v1.5h-1.5zM104.85 495.46h1.5v1.5h-1.5zM92.95 488.29h1.5v1.5h-1.5zM101.07 485.93h1.5v1.5h-1.5zM104.33 489.7h1.5v1.5h-1.5zM98.08 494.12h1.5v1.5h-1.5zM96.8 505.07h1.5v1.5h-1.5zM100.4 488.29h1.5v1.5h-1.5zM101.68 499.28h1.5v1.5h-1.5zM95.34 487.53h1.5v1.5h-1.5zM104.36 500.33h1.5v1.5h-1.5zM86.6 496.94h1.5v1.5h-1.5zM86.47 484.33h1.5v1.5h-1.5zM95.82 490.78h1.5v1.5h-1.5zM83.71 498.46h1.5v1.5h-1.5zM97.99 506.83h1.5v1.5h-1.5zM109.35 492.2h1.5v1.5h-1.5zM99.68 497.2h1.5v1.5h-1.5zM98.18 490.37h1.5v1.5h-1.5zM99.27 492.03h1.5v1.5h-1.5zM85.5 499.2h1.5v1.5h-1.5zM87.82 496.26h1.5v1.5h-1.5zM91.38 510.74h1.5v1.5h-1.5zM107.56 494.95h1.5v1.5h-1.5zM94.09 496.6h1.5v1.5h-1.5zM95.23 491.46h1.5v1.5h-1.5zM107.69 496.01h1.5v1.5h-1.5zM101.02 489.63h1.5v1.5h-1.5zM87.65 493.31h1.5v1.5h-1.5zM102.88 495.32h1.5v1.5h-1.5zM94.19 504.2h1.5v1.5h-1.5zM103.48 499.19h1.5v1.5h-1.5zM97.52 505.88h1.5v1.5h-1.5zM94.25 509.35h1.5v1.5h-1.5zM90.52 492.29h1.5v1.5h-1.5zM88.29 506.69h1.5v1.5h-1.5zM90.88 501.57h1.5v1.5h-1.5zM88 497.7h1.5v1.5h-1.5zM91.89 492.64h1.5v1.5h-1.5zM98.96 494.15h1.5v1.5h-1.5zM98.23 492.74h1.5v1.5h-1.5zM83.39 484.98h1.5v1.5h-1.5zM83.7 489.57h1.5v1.5h-1.5zM90.29 514.28h1.5v1.5h-1.5zM86.1 514.74h1.5v1.5h-1.5zM97.51 498.65h1.5v1.5h-1.5zM114.77 490.54h1.5v1.5h-1.5zM90.89 488.05h1.5v1.5h-1.5zM116.65 496.91h1.5v1.5h-1.5zM90.21 498.81h1.5v1.5h-1.5zM87.21 505.02h1.5v1.5h-1.5zM107.26 485.21h1.5v1.5h-1.5zM103.61 493.81h1.5v1.5h-1.5zM104.83 507.1h1.5v1.5h-1.5zM105.78 505.2h1.5v1.5h-1.5zM89.3 495.71h1.5v1.5h-1.5zM87.97 497.1h1.5v1.5h-1.5zM97.93 488.27h1.5v1.5h-1.5zM95.15 496.16h1.5v1.5h-1.5zM94.17 497.86h1.5v1.5h-1.5zM94.19 497.6h1.5v1.5h-1.5zM99.67 487.22h1.5v1.5h-1.5zM97.86 518.68h1.5v1.5h-1.5zM97.83 509.83h1.5v1.5h-1.5zM88.58 494.49h1.5v1.5h-1.5zM78.46 506.92h1.5v1.5h-1.5zM97.19 496.8h1.5v1.5h-1.5zM92.33 508.62h1.5v1.5h-1.5zM109.31 503.71h1.5v1.5h-1.5zM90.64 492.75h1.5v1.5h-1.5zM96.95 490.81h1.5v1.5h-1.5zM105.02 502.42h1.5v1.5h-1.5zM99.58 501.11h1.5v1.5h-1.5zM96.63 497.33h1.5v1.5h-1.5zM90.33 497.63h1.5v1.5h-1.5zM89.83 475.72h1.5v1.5h-1.5zM114.34 490.6h1.5v1.5h-1.5zM85.43 520.36h1.5v1.5h-1.5zM83.8 490.24h1.5v1.5h-1.5zM87.64 501.68h1.5v1.5h-1.5zM92.65 501.38h1.5v1.5h-1.5zM93.02 499.91h1.5v1.5h-1.5zM107.72 490.33h1.5v1.5h-1.5zM112.44 488.62h1.5v1.5h-1.5zM98.83 478.47h1.5v1.5h-1.5zM92.51 485.6h1.5v1.5h-1.5zM90.7 487.46h1.5v1.5h-1.5zM98.7 490.31h1.5v1.5h-1.5zM94.38 474.68h1.5v1.5h-1.5zM102.29 498.79h1.5v1.5h-1.5zM112.67 496.2h1.5v1.5h-1.5zM102.75 485.84h1.5v1.5h-1.5zM98.07 488.61h1.5v1.5h-1.5zM94.81 491.25h1.5v1.5h-1.5zM92.24 499.97h1.5v1.5h-1.5zM94.58 492.79h1.5v1.5h-1.5zM95.18 483.06h1.5v1.5h-1.5zM92.16 477.3h1.5v1.5h-1.5zM97.83 494.43h1.5v1.5h-1.5zM96.57 486.64h1.5v1.5h-1.5zM93.84 489.45h1.5v1.5h-1.5zM96.39 507.42h1.5v1.5h-1.5zM97.33 479.84h1.5v1.5h-1.5zM90.56 489.9h1.5v1.5h-1.5zM88.84 488.09h1.5v1.5h-1.5zM89.11 502.33h1.5v1.5h-1.5zM97.86 492.85h1.5v1.5h-1.5zM95.56 481.19h1.5v1.5h-1.5zM103.04 497.71h1.5v1.5h-1.5zM100.8 492.5h1.5v1.5h-1.5zM99.97 496.61h1.5v1.5h-1.5zM94.12 495.13h1.5v1.5h-1.5zM89.95 497.63h1.5v1.5h-1.5zM116.88 492.55h1.5v1.5h-1.5zM82.93 500.05h1.5v1.5h-1.5zM92.85 504.65h1.5v1.5h-1.5zM96.77 497.93h1.5v1.5h-1.5zM103.09 481.54h1.5v1.5h-1.5zM85.74 500.27h1.5v1.5h-1.5zM85.67 508.11h1.5v1.5h-1.5zM96.48 491.15h1.5v1.5h-1.5zM93.01 481.83h1.5v1.5h-1.5zM84.37 499.69h1.5v1.5h-1.5zM97.43 502.74h1.5v1.5h-1.5zM95.5 509.83h1.5v1.5h-1.5zM87.8 499h1.5v1.5h-1.5zM88.77 496.58h1.5v1.5h-1.5zM98.81 485.52h1.5v1.5h-1.5zM99.93 499.67h1.5v1.5h-1.5zM90.51 493.94h1.5v1.5h-1.5zM91.84 480.33h1.5v1.5h-1.5zM96.1 499.35h1.5v1.5h-1.5zM89.92 498.56h1.5v1.5h-1.5zM94.23 493.8h1.5v1.5h-1.5zM91.12 501.86h1.5v1.5h-1.5zM94.93 499.93h1.5v1.5h-1.5zM88.82 499.05h1.5v1.5h-1.5zM94.87 498.56h1.5v1.5h-1.5zM98.58 504.59h1.5v1.5h-1.5zM96.48 491.3h1.5v1.5h-1.5zM96.97 496.99h1.5v1.5h-1.5zM91.27 500.86h1.5v1.5h-1.5zM86.24 482.03h1.5v1.5h-1.5zM99.47 491.37h1.5v1.5h-1.5zM103.34 493.54h1.5v1.5h-1.5zM98.44 494.37h1.5v1.5h-1.5zM89.54 514.94h1.5v1.5h-1.5zM101.29 485.49h1.5v1.5h-1.5zM100.87 495.85h1.5v1.5h-1.5zM101.3 487.04h1.5v1.5h-1.5zM105.45 490.2h1.5v1.5h-1.5zM103.94 507.67h1.5v1.5h-1.5zM103.42 487.56h1.5v1.5h-1.5zM88.69 498.37h1.5v1.5h-1.5zM100.47 485.2h1.5v1.5h-1.5zM102.77 484.64h1.5v1.5h-1.5zM96.79 495.71h1.5v1.5h-1.5zM100.5 500.4h1.5v1.5h-1.5zM89.31 492.94h1.5v1.5h-1.5zM95.19 496.15h1.5v1.5h-1.5zM104.82 513.11h1.5v1.5h-1.5zM94.59 490.5h1.5v1.5h-1.5zM94.69 485.28h1.5v1.5h-1.5zM87.5 500.17h1.5v1.5h-1.5zM92.28 501.01h1.5v1.5h-1.5zM87.77 499.6h1.5v1.5h-1.5zM89.34 505.85h1.5v1.5h-1.5zM100.3 495.39h1.5v1.5h-1.5zM86.95 499.33h1.5v1.5h-1.5zM100.17 488.63h1.5v1.5h-1.5zM96.76 486.2h1.5v1.5h-1.5zM94.87 502.24h1.5v1.5h-1.5zM91.79 496.06h1.5v1.5h-1.5zM78.11 488.39h1.5v1.5h-1.5zM101.68 499.3h1.5v1.5h-1.5zM94.08 492.52h1.5v1.5h-1.5zM108.59 504.51h1.5v1.5h-1.5zM103.99 491.47h1.5v1.5h-1.5zM92.24 493.8h1.5v1.5h-1.5zM89.68 510.35h1.5v1.5h-1.5zM82.85 483.66h1.5v1.5h-1.5zM92.39 500.76h1.5v1.5h-1.5zM94.98 500.19h1.5v1.5h-1.5zM88.48 492.91h1.5v1.5h-1.5zM97.88 492.22h1.5v1.5h-1.5zM86.28 488.32h1.5v1.5h-1.5zM98.86 486.93h1.5v1.5h-1.5zM92.99 500.12h1.5v1.5h-1.5zM86.41 487.75h1.5v1.5h-1.5zM98.84 504.9h1.5v1.5h-1.5zM95.95 496.75h1.5v1.5h-1.5zM97.1 488.57h1.5v1.5h-1.5zM103.86 490.94h1.5v1.5h-1.5zM88.51 505.7h1.5v1.5h-1.5zM89.87 503.66h1.5v1.5h-1.5zM99.32 500.09h1.5v1.5h-1.5zM94.97 490.95h1.5v1.5h-1.5zM92.42 482.14h1.5v1.5h-1.5zM81.32 495.64h1.5v1.5h-1.5zM89.47 497.26h1.5v1.5h-1.5zM95.11 497.73h1.5v1.5h-1.5zM89.92 496.88h1.5v1.5h-1.5zM89.25 497.17h1.5v1.5h-1.5zM91.18 507.07h1.5v1.5h-1.5zM105.23 493.46h1.5v1.5h-1.5zM90.57 493.85h1.5v1.5h-1.5zM101.63 481.58h1.5v1.5h-1.5zM98.92 489.89h1.5v1.5h-1.5zM89.15 482.89h1.5v1.5h-1.5zM92.4 496.54h1.5v1.5h-1.5zM97.95 489.12h1.5v1.5h-1.5zM96.8 496.5h1.5v1.5h-1.5zM97.08 483.43h1.5v1.5h-1.5zM104.68 488.41h1.5v1.5h-1.5zM100.74 502.07h1.5v1.5h-1.5zM93.47 506.19h1.5v1.5h-1.5zM110.45 505.87h1.5v1.5h-1.5zM86.91 505.44h1.5v1.5h-1.5zM92.75 510.96h1.5v1.5h-1.5zM87.9 492.19h1.5v1.5h-1.5zM84.38 491.56h1.5v1.5h-1.5zM99.22 501.53h1.5v1.5h-1.5zM76.24 507.69h1.5v1.5h-1.5zM96.02 501.59h1.5v1.5h-1.5zM93.63 496.39h1.5v1.5h-1.5zM94.98 482.51h1.5v1.5h-1.5zM100.82 485.12h1.5v1.5h-1.5zM97.55 514.88h1.5v1.5h-1.5zM94.33 495.4h1.5v1.5h-1.5zM87.38 493.19h1.5v1.5h-1.5zM97.48 510.91h1.5v1.5h-1.5zM103.52 490.7h1.5v1.5h-1.5zM95.8 502.3h1.5v1.5h-1.5zM104.14 514.24h1.5v1.5h-1.5zM91.85 487.95h1.5v1.5h-1.5zM106.73 489.78h1.5v1.5h-1.5zM108.37 496.6h1.5v1.5h-1.5zM89.04 482.34h1.5v1.5h-1.5zM105.73 493.2h1.5v1.5h-1.5zM103.36 491.09h1.5v1.5h-1.5zM96.06 492.13h1.5v1.5h-1.5zM105.91 503.22h1.5v1.5h-1.5zM92.34 498.14h1.5v1.5h-1.5zM91.42 497.74h1.5v1.5h-1.5zM86.32 502.3h1.5v1.5h-1.5zM101.58 496.54h1.5v1.5h-1.5zM96.04 491.15h1.5v1.5h-1.5zM108.62 497.45h1.5v1.5h-1.5zM92.02 490.61h1.5v1.5h-1.5zM100.62 504.05h1.5v1.5h-1.5zM90.26 501.86h1.5v1.5h-1.5zM96.32 496.17h1.5v1.5h-1.5zM102.77 481.04h1.5v1.5h-1.5zM104.66 498.32h1.5v1.5h-1.5zM92.38 504.08h1.5v1.5h-1.5zM90.49 489.75h1.5v1.5h-1.5zM99.61 511.7h1.5v1.5h-1.5zM96.31 487.49h1.5v1.5h-1.5zM85.46 494.36h1.5v1.5h-1.5zM109.84 507.2h1.5v1.5h-1.5zM91.81 506.5h1.5v1.5h-1.5zM98.44 493.66h1.5v1.5h-1.5zM106.39 491.76h1.5v1.5h-1.5zM94.75 497.47h1.5v1.5h-1.5zM104.68 501.61h1.5v1.5h-1.5zM94.49 501.96h1.5v1.5h-1.5zM93.54 487.51h1.5v1.5h-1.5zM92.04 488.85h1.5v1.5h-1.5zM91 506.13h1.5v1.5h-1.5zM86.14 476.77h1.5v1.5h-1.5zM96.24 486.14h1.5v1.5h-1.5zM95.09 494.95h1.5v1.5h-1.5zM90.25 488.7h1.5v1.5h-1.5zM101.44 500.28h1.5v1.5h-1.5zM102.01 485.21h1.5v1.5h-1.5zM104.75 490.86h1.5v1.5h-1.5zM104.77 485.66h1.5v1.5h-1.5zM97.28 509.16h1.5v1.5h-1.5zM89.59 486.49h1.5v1.5h-1.5zM91.33 497.92h1.5v1.5h-1.5zM95.2 501.56h1.5v1.5h-1.5zM109.09 496.86h1.5v1.5h-1.5zM107.45 492.1h1.5v1.5h-1.5zM94.29 495.84h1.5v1.5h-1.5zM87.03 496.85h1.5v1.5h-1.5zM100.66 494.09h1.5v1.5h-1.5zM97.11 501.77h1.5v1.5h-1.5zM101.27 500.46h1.5v1.5h-1.5zM92.8 503.29h1.5v1.5h-1.5zM107.14 491.73h1.5v1.5h-1.5zM94.21 487.04h1.5v1.5h-1.5zM93.78 506.07h1.5v1.5h-1.5zM98.12 491.24h1.5v1.5h-1.5zM103.74 508.56h1.5v1.5h-1.5zM91.4 488.19h1.5v1.5h-1.5zM100.49 495.9h1.5v1.5h-1.5zM83.96 499.97h1.5v1.5h-1.5zM91.2 505.75h1.5v1.5h-1.5zM98.28 502.69h1.5v1.5h-1.5zM97.53 489.07h1.5v1.5h-1.5zM93.43 489.17h1.5v1.5h-1.5zM106.52 482.98h1.5v1.5h-1.5zM89.7 507.42h1.5v1.5h-1.5zM89.84 508.95h1.5v1.5h-1.5zM91.26 495.46h1.5v1.5h-1.5zM97.2 492.05h1.5v1.5h-1.5zM107.07 495.47h1.5v1.5h-1.5zM90.06 505.7h1.5v1.5h-1.5zM88.61 494.27h1.5v1.5h-1.5zM107.09 490.02h1.5v1.5h-1.5zM93.8 495.28h1.5v1.5h-1.5zM104.58 497.02h1.5v1.5h-1.5zM101.84 493.91h1.5v1.5h-1.5zM92.93 488.78h1.5v1.5h-1.5zM103.84 493.89h1.5v1.5h-1.5zM90.9 507.21h1.5v1.5h-1.5zM90.39 487.21h1.5v1.5h-1.5zM97.81 493.78h1.5v1.5h-1.5zM100.87 494.13h1.5v1.5h-1.5zM99.27 501.25h1.5v1.5h-1.5zM106.18 500.22h1.5v1.5h-1.5zM102.5 513.65h1.5v1.5h-1.5zM90.21 507.11h1.5v1.5h-1.5zM100.52 505.43h1.5v1.5h-1.5zM86.78 493.53h1.5v1.5h-1.5zM107.43 486.14h1.5v1.5h-1.5zM112.43 484.32h1.5v1.5h-1.5zM88.6 514.48h1.5v1.5h-1.5zM91.87 503.3h1.5v1.5h-1.5zM88.7 498.28h1.5v1.5h-1.5zM107.82 484.66h1.5v1.5h-1.5zM98.97 490.52h1.5v1.5h-1.5zM91.31 486.93h1.5v1.5h-1.5zM91.34 493.85h1.5v1.5h-1.5zM91.18 500.87h1.5v1.5h-1.5zM101.84 481.9h1.5v1.5h-1.5zM86.04 495.47h1.5v1.5h-1.5zM116.63 486.42h1.5v1.5h-1.5zM100.31 486.04h1.5v1.5h-1.5zM99.44 489.05h1.5v1.5h-1.5zM98.1 504.73h1.5v1.5h-1.5zM100.03 495.4h1.5v1.5h-1.5zM107.56 504.86h1.5v1.5h-1.5zM89.35 482.5h1.5v1.5h-1.5zM94.75 484.49h1.5v1.5h-1.5zM92.31 488.86h1.5v1.5h-1.5zM86.89 509.62h1.5v1.5h-1.5zM95.21 493.47h1.5v1.5h-1.5zM94.31 484.09h1.5v1.5h-1.5zM92.32 489.92h1.5v1.5h-1.5zM92.37 503.66h1.5v1.5h-1.5zM101.93 499.74h1.5v1.5h-1.5zM82.06 498.39h1.5v1.5h-1.5zM103.16 491.57h1.5v1.5h-1.5zM91.53 507.37h1.5v1.5h-1.5zM89.37 494.94h1.5v1.5h-1.5zM109.37 501.4h1.5v1.5h-1.5zM95.98 487.83h1.5v1.5h-1.5zM99.93 494.8h1.5v1.5h-1.5zM92.54 491.04h1.5v1.5h-1.5zM95.35 500.36h1.5v1.5h-1.5zM83.39 495.21h1.5v1.5h-1.5zM100.16 491.23h1.5v1.5h-1.5zM90.79 489.48h1.5v1.5h-1.5zM101.06 496.59h1.5v1.5h-1.5zM87.18 495.63h1.5v1.5h-1.5zM103.52 509.64h1.5v1.5h-1.5zM100.01 497.73h1.5v1.5h-1.5zM95.42 494.22h1.5v1.5h-1.5zM103.57 492.37h1.5v1.5h-1.5zM87.44 494.35h1.5v1.5h-1.5zM99.88 496.39h1.5v1.5h-1.5zM107.5 495.47h1.5v1.5h-1.5zM103.75 485.12h1.5v1.5h-1.5zM98.53 493.33h1.5v1.5h-1.5zM94.38 500.13h1.5v1.5h-1.5zM92.63 504.05h1.5v1.5h-1.5zM93.38 502.66h1.5v1.5h-1.5zM94.07 498.91h1.5v1.5h-1.5zM104.75 504.22h1.5v1.5h-1.5zM89.77 489.37h1.5v1.5h-1.5zM104.88 487.59h1.5v1.5h-1.5zM97.83 475.91h1.5v1.5h-1.5zM97.8 494.32h1.5v1.5h-1.5zM104.94 501.07h1.5v1.5h-1.5zM94.28 498.86h1.5v1.5h-1.5zM85.73 494.43h1.5v1.5h-1.5zM108.04 486.78h1.5v1.5h-1.5zM93.43 499h1.5v1.5h-1.5zM89.16 499.09h1.5v1.5h-1.5zM99.25 504.75h1.5v1.5h-1.5zM102.72 505.47h1.5v1.5h-1.5zM91.76 497.25h1.5v1.5h-1.5zM102.77 494.6h1.5v1.5h-1.5zM87.2 509.29h1.5v1.5h-1.5zM97.42 493.42h1.5v1.5h-1.5zM99.31 507.38h1.5v1.5h-1.5zM99.72 489.47h1.5v1.5h-1.5zM89.76 504.67h1.5v1.5h-1.5zM101.37 501.77h1.5v1.5h-1.5zM101.1 482.48h1.5v1.5h-1.5zM91.66 494.23h1.5v1.5h-1.5zM99.96 490.45h1.5v1.5h-1.5zM99.47 491.98h1.5v1.5h-1.5zM93.07 497.35h1.5v1.5h-1.5zM101.33 483.82h1.5v1.5h-1.5zM101.63 482.78h1.5v1.5h-1.5zM102.61 493.42h1.5v1.5h-1.5zM101.85 486.74h1.5v1.5h-1.5zM84.68 498.13h1.5v1.5h-1.5zM83.69 493.56h1.5v1.5h-1.5zM105.53 489.69h1.5v1.5h-1.5zM102.61 491.7h1.5v1.5h-1.5zM100.91 497.86h1.5v1.5h-1.5zM115.35 482.55h1.5v1.5h-1.5zM106.22 492.42h1.5v1.5h-1.5zM102.33 485.81h1.5v1.5h-1.5zM98.16 499.01h1.5v1.5h-1.5zM105.95 498.97h1.5v1.5h-1.5zM99.89 491.58h1.5v1.5h-1.5zM86.81 490.06h1.5v1.5h-1.5zM99.56 498.83h1.5v1.5h-1.5zM103.29 501.88h1.5v1.5h-1.5zM105.16 491.46h1.5v1.5h-1.5zM94.7 486.62h1.5v1.5h-1.5zM97.08 499.62h1.5v1.5h-1.5zM98.71 494.1h1.5v1.5h-1.5zM85.16 502.07h1.5v1.5h-1.5zM95.09 484.07h1.5v1.5h-1.5zM102.19 500.9h1.5v1.5h-1.5zM97.47 494.99h1.5v1.5h-1.5zM105.83 485.37h1.5v1.5h-1.5zM96.89 496.77h1.5v1.5h-1.5zM86.09 511.87h1.5v1.5h-1.5zM91.21 478.72h1.5v1.5h-1.5zM97.54 500.6h1.5v1.5h-1.5zM101.82 480.8h1.5v1.5h-1.5zM96.06 494.21h1.5v1.5h-1.5zM107.26 491.76h1.5v1.5h-1.5zM94.66 500.83h1.5v1.5h-1.5zM102.09 498.35h1.5v1.5h-1.5zM96.55 490.21h1.5v1.5h-1.5zM89.5 508.65h1.5v1.5h-1.5zM98.24 497.8h1.5v1.5h-1.5zM92.25 502.22h1.5v1.5h-1.5zM105.48 487.68h1.5v1.5h-1.5zM97.98 492.69h1.5v1.5h-1.5zM98.84 495.77h1.5v1.5h-1.5zM89.43 497.22h1.5v1.5h-1.5zM105.96 473.18h1.5v1.5h-1.5zM98.84 494.23h1.5v1.5h-1.5zM92.4 487.83h1.5v1.5h-1.5zM86.1 503.41h1.5v1.5h-1.5zM89.36 501.94h1.5v1.5h-1.5zM99.95 495.44h1.5v1.5h-1.5zM90.32 496.34h1.5v1.5h-1.5zM104.81 494.87h1.5v1.5h-1.5zM83.94 499.47h1.5v1.5h-1.5zM107.14 493.86h1.5v1.5h-1.5zM100.56 493.77h1.5v1.5h-1.5zM98.13 493.71h1.5v1.5h-1.5zM113.72 486.93h1.5v1.5h-1.5zM86.55 491.79h1.5v1.5h-1.5zM96.18 490.76h1.5v1.5h-1.5zM99.55 495.45h1.5v1.5h-1.5zM98.2 497.53h1.5v1.5h-1.5zM88.86 496.96h1.5v1.5h-1.5zM87.55 502.71h1.5v1.5h-1.5zM106.62 482.03h1.5v1.5h-1.5zM98.11 489.84h1.5v1.5h-1.5zM101.34 492.88h1.5v1.5h-1.5zM89.56 502.38h1.5v1.5h-1.5zM109.25 496.52h1.5v1.5h-1.5zM92.74 491.76h1.5v1.5h-1.5zM90.78 497.7h1.5v1.5h-1.5zM89.96 489.08h1.5v1.5h-1.5zM99.26 476.69h1.5v1.5h-1.5zM104.47 501.45h1.5v1.5h-1.5zM92.03 522.72h1.5v1.5h-1.5zM89.15 496.96h1.5v1.5h-1.5zM89.18 508.82h1.5v1.5h-1.5zM91.83 495.27h1.5v1.5h-1.5zM107.88 493.05h1.5v1.5h-1.5zM95.16 499.31h1.5v1.5h-1.5zM88.15 492.47h1.5v1.5h-1.5zM100.77 499.54h1.5v1.5h-1.5zM106.27 486.76h1.5v1.5h-1.5zM102.25 501.92h1.5v1.5h-1.5zM95.05 503.12h1.5v1.5h-1.5zM95.05 492.85h1.5v1.5h-1.5zM106.65 484.84h1.5v1.5h-1.5zM100.34 504.09h1.5v1.5h-1.5zM88.27 500.94h1.5v1.5h-1.5zM97.45 498.82h1.5v1.5h-1.5zM97.38 491.39h1.5v1.5h-1.5zM104.82 494.66h1.5v1.5h-1.5zM94.87 502.81h1.5v1.5h-1.5zM101.17 507.15h1.5v1.5h-1.5zM77.09 485.25h1.5v1.5h-1.5zM108.54 493.8h1.5v1.5h-1.5zM87.15 482.85h1.5v1.5h-1.5zM105.58 495.49h1.5v1.5h-1.5zM90.09 489.44h1.5v1.5h-1.5zM95.06 492.86h1.5v1.5h-1.5zM94.2 489.41h1.5v1.5h-1.5zM87.68 497.38h1.5v1.5h-1.5zM105.77 498.35h1.5v1.5h-1.5zM88.67 495.45h1.5v1.5h-1.5zM99.26 505.78h1.5v1.5h-1.5zM90.46 493.95h1.5v1.5h-1.5zM95.92 507.37h1.5v1.5h-1.5zM94.23 493.03h1.5v1.5h-1.5zM97.38 494.09h1.5v1.5h-1.5zM93.77 511.3h1.5v1.5h-1.5zM94.94 497.23h1.5v1.5h-1.5zM93.43 492.44h1.5v1.5h-1.5zM104.59 487.6h1.5v1.5h-1.5zM104.92 505.36h1.5v1.5h-1.5zM98.57 500.87h1.5v1.5h-1.5zM95.92 502.54h1.5v1.5h-1.5zM89.5 487.05h1.5v1.5h-1.5zM106.38 491.9h1.5v1.5h-1.5zM93.2 488.92h1.5v1.5h-1.5zM97.17 490.65h1.5v1.5h-1.5zM104.32 495.71h1.5v1.5h-1.5zM98.97 484.4h1.5v1.5h-1.5zM102.67 500.38h1.5v1.5h-1.5zM85.1 506.46h1.5v1.5h-1.5zM102.5 500.08h1.5v1.5h-1.5zM92.76 498.78h1.5v1.5h-1.5zM106.84 476.58h1.5v1.5h-1.5zM96.97 486.19h1.5v1.5h-1.5zM97.21 492.12h1.5v1.5h-1.5zM95.77 488.08h1.5v1.5h-1.5zM97.02 478.44h1.5v1.5h-1.5zM92.08 480.83h1.5v1.5h-1.5zM88.05 512.41h1.5v1.5h-1.5zM95.12 496h1.5v1.5h-1.5zM98.21 492.96h1.5v1.5h-1.5zM98.15 493.68h1.5v1.5h-1.5zM96.88 486.86h1.5v1.5h-1.5zM94.14 501.04h1.5v1.5h-1.5zM86.6 492.01h1.5v1.5h-1.5zM105.25 486.14h1.5v1.5h-1.5zM97.53 495.04h1.5v1.5h-1.5zM97.94 505.03h1.5v1.5h-1.5zM91.76 501.15h1.5v1.5h-1.5zM101.89 486.29h1.5v1.5h-1.5zM89.02 476.43h1.5v1.5h-1.5zM100.77 510.57h1.5v1.5h-1.5zM99.52 488.38h1.5v1.5h-1.5zM93.89 494h1.5v1.5h-1.5zM86.87 497.36h1.5v1.5h-1.5zM95.23 491.71h1.5v1.5h-1.5zM101.64 493.57h1.5v1.5h-1.5zM75.01 500.26h1.5v1.5h-1.5zM95.28 502.03h1.5v1.5h-1.5zM96.05 490.91h1.5v1.5h-1.5zM97.09 496.42h1.5v1.5h-1.5zM106.97 500.09h1.5v1.5h-1.5zM93.8 487.27h1.5v1.5h-1.5zM105.03 485.78h1.5v1.5h-1.5zM111.44 479.33h1.5v1.5h-1.5zM87.85 492.68h1.5v1.5h-1.5zM111.51 495.47h1.5v1.5h-1.5zM100.84 504.41h1.5v1.5h-1.5zM90.34 490.92h1.5v1.5h-1.5zM96.71 502.66h1.5v1.5h-1.5zM105.74 497.3h1.5v1.5h-1.5zM100.18 496.89h1.5v1.5h-1.5zM87.98 498.11h1.5v1.5h-1.5zM93.86 487.24h1.5v1.5h-1.5zM89.72 497.8h1.5v1.5h-1.5zM95.95 486.81h1.5v1.5h-1.5zM92.32 493.42h1.5v1.5h-1.5zM104.01 491.25h1.5v1.5h-1.5zM94.8 500.13h1.5v1.5h-1.5zM99.63 497.63h1.5v1.5h-1.5zM98.29 493.98h1.5v1.5h-1.5zM98.25 500.12h1.5v1.5h-1.5zM106.7 488.63h1.5v1.5h-1.5zM96.93 488.65h1.5v1.5h-1.5zM91.26 500.24h1.5v1.5h-1.5zM102.1 499.81h1.5v1.5h-1.5zM89.42 506.41h1.5v1.5h-1.5zM85.19 503h1.5v1.5h-1.5zM95.21 491.85h1.5v1.5h-1.5zM83.58 495.41h1.5v1.5h-1.5zM88.49 496.91h1.5v1.5h-1.5zM107.43 502h1.5v1.5h-1.5zM107.3 496.74h1.5v1.5h-1.5zM93.23 504.06h1.5v1.5h-1.5zM97.85 480.31h1.5v1.5h-1.5zM85.89 516.21h1.5v1.5h-1.5zM97.58 478.17h1.5v1.5h-1.5zM99.65 482.77h1.5v1.5h-1.5zM84.04 493.78h1.5v1.5h-1.5zM92 501.46h1.5v1.5h-1.5zM98.11 500.27h1.5v1.5h-1.5zM95.46 507.14h1.5v1.5h-1.5zM96.02 511.6h1.5v1.5h-1.5zM105.94 481.29h1.5v1.5h-1.5zM96.87 509.76h1.5v1.5h-1.5zM105.88 495.59h1.5v1.5h-1.5zM100.21 475.17h1.5v1.5h-1.5zM80.12 515.19h1.5v1.5h-1.5zM74.35 523.02h1.5v1.5h-1.5zM85 514.94h1.5v1.5h-1.5zM138.17 460.53h1.5v1.5h-1.5zM113.62 499.84h1.5v1.5h-1.5zM80.76 519.03h1.5v1.5h-1.5zM64.07 528.07h1.5v1.5h-1.5zM73.04 534.01h1.5v1.5h-1.5zM60.76 528.94h1.5v1.5h-1.5zM93.45 516.54h1.5v1.5h-1.5zM125.67 469.11h1.5v1.5h-1.5zM97.35 499.78h1.5v1.5h-1.5zM120.2 456.79h1.5v1.5h-1.5zM77.44 518.15h1.5v1.5h-1.5zM57.69 529.48h1.5v1.5h-1.5zM83.83 521.45h1.5v1.5h-1.5zM79.18 523.96h1.5v1.5h-1.5zM60.38 538.79h1.5v1.5h-1.5zM96.16 499.12h1.5v1.5h-1.5zM121.31 468.1h1.5v1.5h-1.5zM137.32 464.63h1.5v1.5h-1.5zM58.77 538.3h1.5v1.5h-1.5zM134.55 473.85h1.5v1.5h-1.5zM56.35 535.46h1.5v1.5h-1.5zM55.37 540.47h1.5v1.5h-1.5zM72.43 518.24h1.5v1.5h-1.5zM75.2 531.93h1.5v1.5h-1.5zM103.87 490.9h1.5v1.5h-1.5zM142.14 457.01h1.5v1.5h-1.5zM82.89 510.61h1.5v1.5h-1.5zM56.86 535.43h1.5v1.5h-1.5zM67.62 524.21h1.5v1.5h-1.5zM114.59 478.43h1.5v1.5h-1.5zM74.32 528.69h1.5v1.5h-1.5zM83.17 519.2h1.5v1.5h-1.5zM98.77 489.59h1.5v1.5h-1.5zM99.84 505.27h1.5v1.5h-1.5zM89.9 504.39h1.5v1.5h-1.5zM88.19 497.49h1.5v1.5h-1.5zM58.8 528.78h1.5v1.5h-1.5zM59.28 539.56h1.5v1.5h-1.5zM68.08 532.31h1.5v1.5h-1.5zM82.06 514.89h1.5v1.5h-1.5zM100.88 493.83h1.5v1.5h-1.5zM137.09 455.92h1.5v1.5h-1.5zM56.69 538.91h1.5v1.5h-1.5zM131.32 465.29h1.5v1.5h-1.5zM122.74 505.81h1.5v1.5h-1.5zM110.46 471.59h1.5v1.5h-1.5zM109.97 480.29h1.5v1.5h-1.5zM60.56 541.95h1.5v1.5h-1.5zM61.47 540.27h1.5v1.5h-1.5zM66.24 534.86h1.5v1.5h-1.5zM82.11 506.58h1.5v1.5h-1.5zM119.45 493.46h1.5v1.5h-1.5zM56.45 535.97h1.5v1.5h-1.5zM125.53 467.77h1.5v1.5h-1.5zM104.81 495.48h1.5v1.5h-1.5zM137.73 460.06h1.5v1.5h-1.5zM58.37 542.1h1.5v1.5h-1.5zM120.95 473.49h1.5v1.5h-1.5zM123.24 469.77h1.5v1.5h-1.5zM59.04 538.15h1.5v1.5h-1.5zM109.53 489.58h1.5v1.5h-1.5zM58.86 541.27h1.5v1.5h-1.5zM54.52 540.92h1.5v1.5h-1.5zM80.06 516.95h1.5v1.5h-1.5zM114.83 485.47h1.5v1.5h-1.5zM108.03 485.5h1.5v1.5h-1.5zM98.61 508.44h1.5v1.5h-1.5zM132.78 501.67h1.5v1.5h-1.5zM72.32 521.53h1.5v1.5h-1.5zM77.52 525.54h1.5v1.5h-1.5zM140.97 476.73h1.5v1.5h-1.5zM60.94 541.81h1.5v1.5h-1.5zM100.34 505.8h1.5v1.5h-1.5zM104.46 486.44h1.5v1.5h-1.5zM61.39 535.39h1.5v1.5h-1.5zM96.26 494.29h1.5v1.5h-1.5zM130.49 453.29h1.5v1.5h-1.5zM99.25 502.63h1.5v1.5h-1.5zM70.03 528.68h1.5v1.5h-1.5zM128.39 460.13h1.5v1.5h-1.5zM109.74 497.77h1.5v1.5h-1.5zM109.53 468.89h1.5v1.5h-1.5zM67.91 530.73h1.5v1.5h-1.5zM93 516.6h1.5v1.5h-1.5zM63.71 531.78h1.5v1.5h-1.5zM72.94 519.74h1.5v1.5h-1.5zM63.28 529.79h1.5v1.5h-1.5zM96.86 512.73h1.5v1.5h-1.5zM78.64 516.72h1.5v1.5h-1.5zM134.13 473.99h1.5v1.5h-1.5zM74.7 521.6h1.5v1.5h-1.5zM63.79 534.48h1.5v1.5h-1.5zM75.55 525.84h1.5v1.5h-1.5zM123.33 479.51h1.5v1.5h-1.5zM73.75 526.96h1.5v1.5h-1.5zM88.3 508.03h1.5v1.5h-1.5zM64.97 531.25h1.5v1.5h-1.5zM80.04 502.51h1.5v1.5h-1.5zM116.03 477.9h1.5v1.5h-1.5zM129.62 464.57h1.5v1.5h-1.5zM137.81 455.14h1.5v1.5h-1.5zM57.93 526.77h1.5v1.5h-1.5zM108.25 490.52h1.5v1.5h-1.5zM143.08 467.21h1.5v1.5h-1.5zM66.88 529.6h1.5v1.5h-1.5zM58.06 534.49h1.5v1.5h-1.5zM89.87 503.04h1.5v1.5h-1.5zM60.69 540.03h1.5v1.5h-1.5zM57.65 538.01h1.5v1.5h-1.5zM92.19 499.87h1.5v1.5h-1.5zM61.09 541.7h1.5v1.5h-1.5zM119.21 468.79h1.5v1.5h-1.5zM126.95 484.33h1.5v1.5h-1.5zM125.59 483.23h1.5v1.5h-1.5zM74.95 515.01h1.5v1.5h-1.5zM67.79 516.97h1.5v1.5h-1.5zM97.14 487.08h1.5v1.5h-1.5zM55.95 541.04h1.5v1.5h-1.5zM73.61 528.54h1.5v1.5h-1.5zM68.48 539.82h1.5v1.5h-1.5zM60.73 533.93h1.5v1.5h-1.5zM92.34 503.6h1.5v1.5h-1.5zM71.53 498.59h1.5v1.5h-1.5zM69.78 525.66h1.5v1.5h-1.5zM71.97 522.44h1.5v1.5h-1.5zM59.32 531.34h1.5v1.5h-1.5zM80.28 507.66h1.5v1.5h-1.5zM76.04 523.19h1.5v1.5h-1.5zM74.34 535.94h1.5v1.5h-1.5zM67.45 529.38h1.5v1.5h-1.5zM110.78 491.95h1.5v1.5h-1.5zM64.01 519.79h1.5v1.5h-1.5zM127.51 468.27h1.5v1.5h-1.5zM126.17 464.01h1.5v1.5h-1.5zM79.37 516.71h1.5v1.5h-1.5zM113.63 489.88h1.5v1.5h-1.5zM76.68 510.57h1.5v1.5h-1.5zM69.21 527.58h1.5v1.5h-1.5zM75.68 526.7h1.5v1.5h-1.5zM60.5 532.16h1.5v1.5h-1.5zM125.49 489.8h1.5v1.5h-1.5zM73.48 537.98h1.5v1.5h-1.5zM129.64 472.31h1.5v1.5h-1.5zM65.01 533.3h1.5v1.5h-1.5zM61.13 539.43h1.5v1.5h-1.5zM118.43 487.01h1.5v1.5h-1.5zM74.18 528.32h1.5v1.5h-1.5zM109.02 487.99h1.5v1.5h-1.5zM100.2 497.74h1.5v1.5h-1.5zM98.42 490.54h1.5v1.5h-1.5zM75.54 523.87h1.5v1.5h-1.5zM84.37 501.8h1.5v1.5h-1.5zM100.62 501.66h1.5v1.5h-1.5zM59.85 539.97h1.5v1.5h-1.5zM95.33 496.45h1.5v1.5h-1.5zM137.61 470.04h1.5v1.5h-1.5zM142.93 469.96h1.5v1.5h-1.5zM92.72 497.26h1.5v1.5h-1.5zM55.17 534.82h1.5v1.5h-1.5zM137.74 480.17h1.5v1.5h-1.5zM109.59 488.5h1.5v1.5h-1.5zM87.03 511.63h1.5v1.5h-1.5zM134.51 459.66h1.5v1.5h-1.5zM138.81 464.27h1.5v1.5h-1.5zM82.59 510.34h1.5v1.5h-1.5zM113.14 482.22h1.5v1.5h-1.5zM132.99 469.82h1.5v1.5h-1.5zM66.26 537.53h1.5v1.5h-1.5zM124.66 480.2h1.5v1.5h-1.5zM103.43 482.45h1.5v1.5h-1.5zM56.55 537.44h1.5v1.5h-1.5zM128.63 465.68h1.5v1.5h-1.5zM96.03 508.05h1.5v1.5h-1.5zM81.94 519.33h1.5v1.5h-1.5zM58.18 539.81h1.5v1.5h-1.5zM115.97 469.24h1.5v1.5h-1.5zM101.39 483.56h1.5v1.5h-1.5zM101.71 493.34h1.5v1.5h-1.5zM58.43 529.33h1.5v1.5h-1.5zM69.03 522.83h1.5v1.5h-1.5zM63.79 533.98h1.5v1.5h-1.5zM60.67 528.28h1.5v1.5h-1.5zM71.62 533.53h1.5v1.5h-1.5zM98.11 486.46h1.5v1.5h-1.5zM59.71 541.31h1.5v1.5h-1.5zM93.22 493.38h1.5v1.5h-1.5zM59.58 541.36h1.5v1.5h-1.5zM76.2 535.05h1.5v1.5h-1.5zM131.65 482.85h1.5v1.5h-1.5zM92.97 497.65h1.5v1.5h-1.5zM58.7 539.66h1.5v1.5h-1.5zM68.18 531.77h1.5v1.5h-1.5zM57.17 537.75h1.5v1.5h-1.5zM125.53 480.72h1.5v1.5h-1.5zM92 496.23h1.5v1.5h-1.5zM77.24 520.9h1.5v1.5h-1.5zM126.37 462.12h1.5v1.5h-1.5zM62.48 532.15h1.5v1.5h-1.5zM71.4 518.64h1.5v1.5h-1.5zM82.51 527.96h1.5v1.5h-1.5zM102.75 482.13h1.5v1.5h-1.5zM66.1 517.16h1.5v1.5h-1.5zM90.68 510.59h1.5v1.5h-1.5zM58.6 540.2h1.5v1.5h-1.5zM76.39 518.01h1.5v1.5h-1.5zM62.95 523.75h1.5v1.5h-1.5zM76.28 526.6h1.5v1.5h-1.5zM66.9 534.71h1.5v1.5h-1.5zM124.35 484.23h1.5v1.5h-1.5zM80.9 518.04h1.5v1.5h-1.5zM55.77 538.9h1.5v1.5h-1.5zM62.92 538.43h1.5v1.5h-1.5zM55.07 537.93h1.5v1.5h-1.5zM97.89 491.22h1.5v1.5h-1.5zM92.13 498.18h1.5v1.5h-1.5zM116.89 491.6h1.5v1.5h-1.5zM67.76 531.73h1.5v1.5h-1.5zM107.68 490.48h1.5v1.5h-1.5zM109.78 501.88h1.5v1.5h-1.5zM92.74 484.57h1.5v1.5h-1.5zM55.4 534.54h1.5v1.5h-1.5zM77.58 524.25h1.5v1.5h-1.5zM118.25 469.86h1.5v1.5h-1.5zM141.21 460.93h1.5v1.5h-1.5zM135.21 473.06h1.5v1.5h-1.5zM55.14 532.03h1.5v1.5h-1.5zM100.83 494.66h1.5v1.5h-1.5zM126.92 468.93h1.5v1.5h-1.5zM81.01 515.33h1.5v1.5h-1.5zM78.81 503.57h1.5v1.5h-1.5zM61.86 516.72h1.5v1.5h-1.5zM59.85 535.61h1.5v1.5h-1.5zM138.78 474.5h1.5v1.5h-1.5zM92.72 494.75h1.5v1.5h-1.5zM64.84 539.73h1.5v1.5h-1.5zM96.91 493.5h1.5v1.5h-1.5zM73.06 528.65h1.5v1.5h-1.5zM86.47 520.73h1.5v1.5h-1.5zM94.58 503.6h1.5v1.5h-1.5zM79.18 518.47h1.5v1.5h-1.5zM80.67 529.02h1.5v1.5h-1.5zM108.1 484.2h1.5v1.5h-1.5zM100.43 487.73h1.5v1.5h-1.5zM75.67 516.53h1.5v1.5h-1.5zM58.94 531.96h1.5v1.5h-1.5zM92.35 490.92h1.5v1.5h-1.5zM135.28 468.44h1.5v1.5h-1.5zM124.72 469.94h1.5v1.5h-1.5zM126.72 469.05h1.5v1.5h-1.5zM70.04 525.4h1.5v1.5h-1.5zM63.73 527.12h1.5v1.5h-1.5zM94 505.73h1.5v1.5h-1.5zM73.15 522.78h1.5v1.5h-1.5zM64.4 534.46h1.5v1.5h-1.5zM82.85 515.3h1.5v1.5h-1.5zM65.69 526.15h1.5v1.5h-1.5zM67.35 520.89h1.5v1.5h-1.5zM103.45 481.52h1.5v1.5h-1.5zM112.42 473.8h1.5v1.5h-1.5zM63.83 538.6h1.5v1.5h-1.5zM56.1 536.29h1.5v1.5h-1.5zM133.94 464.93h1.5v1.5h-1.5zM127.92 460.21h1.5v1.5h-1.5zM126.35 466.78h1.5v1.5h-1.5zM59.76 541.2h1.5v1.5h-1.5zM133.79 484.46h1.5v1.5h-1.5zM89.98 517.44h1.5v1.5h-1.5zM140.38 460.1h1.5v1.5h-1.5zM62.31 534.65h1.5v1.5h-1.5zM116.69 490.15h1.5v1.5h-1.5zM55.53 538.36h1.5v1.5h-1.5zM84.38 514.92h1.5v1.5h-1.5zM59.77 535.74h1.5v1.5h-1.5zM56.3 521.12h1.5v1.5h-1.5zM80.76 507.26h1.5v1.5h-1.5zM103.89 488.37h1.5v1.5h-1.5zM72.29 524.91h1.5v1.5h-1.5zM60.73 531.42h1.5v1.5h-1.5zM75.97 523.09h1.5v1.5h-1.5zM74.52 527.07h1.5v1.5h-1.5zM109.89 504.57h1.5v1.5h-1.5zM112.97 482.66h1.5v1.5h-1.5zM115.98 476.71h1.5v1.5h-1.5zM71.12 522.52h1.5v1.5h-1.5zM59.66 530.34h1.5v1.5h-1.5zM114.82 488.32h1.5v1.5h-1.5zM135.87 464.65h1.5v1.5h-1.5zM88.92 502.44h1.5v1.5h-1.5zM87.78 503.98h1.5v1.5h-1.5zM66.97 535.99h1.5v1.5h-1.5zM87.72 523.54h1.5v1.5h-1.5zM123.52 472.17h1.5v1.5h-1.5zM93.51 515.42h1.5v1.5h-1.5zM83.09 510.98h1.5v1.5h-1.5zM67.99 527.07h1.5v1.5h-1.5zM65.3 540.84h1.5v1.5h-1.5zM111.75 498.39h1.5v1.5h-1.5zM136.18 455.87h1.5v1.5h-1.5zM102.49 501.09h1.5v1.5h-1.5zM62.83 523.13h1.5v1.5h-1.5zM129.93 471.47h1.5v1.5h-1.5zM55.95 534.57h1.5v1.5h-1.5zM61.83 540.79h1.5v1.5h-1.5zM102.68 495.13h1.5v1.5h-1.5zM83.85 526.54h1.5v1.5h-1.5zM57.14 541.04h1.5v1.5h-1.5zM76.16 529.4h1.5v1.5h-1.5zM59.89 520.72h1.5v1.5h-1.5zM95.32 506.53h1.5v1.5h-1.5zM62.46 534.14h1.5v1.5h-1.5zM69.57 536h1.5v1.5h-1.5zM82.12 511.89h1.5v1.5h-1.5zM93.74 492.04h1.5v1.5h-1.5zM62.85 521.05h1.5v1.5h-1.5zM83.32 509.67h1.5v1.5h-1.5zM66.09 524.31h1.5v1.5h-1.5zM76.03 511.67h1.5v1.5h-1.5zM115.73 481.34h1.5v1.5h-1.5zM78.4 514.12h1.5v1.5h-1.5zM76.38 510.89h1.5v1.5h-1.5zM68.14 526.92h1.5v1.5h-1.5zM57.34 535.49h1.5v1.5h-1.5zM109.94 477.14h1.5v1.5h-1.5zM77.89 515.64h1.5v1.5h-1.5zM68.22 520.12h1.5v1.5h-1.5zM103.04 512.79h1.5v1.5h-1.5zM62.03 528.09h1.5v1.5h-1.5zM59.13 538.5h1.5v1.5h-1.5zM69.78 539.43h1.5v1.5h-1.5zM78.9 527.73h1.5v1.5h-1.5zM116.63 463.91h1.5v1.5h-1.5zM95.35 480.4h1.5v1.5h-1.5zM60.49 532.54h1.5v1.5h-1.5zM122.05 464.06h1.5v1.5h-1.5zM112.88 484.56h1.5v1.5h-1.5zM59.39 540.96h1.5v1.5h-1.5zM66.51 529.06h1.5v1.5h-1.5zM101.08 502.68h1.5v1.5h-1.5zM59.66 535.65h1.5v1.5h-1.5zM74.33 536.5h1.5v1.5h-1.5zM127.05 461.92h1.5v1.5h-1.5zM71.1 522.98h1.5v1.5h-1.5zM65.95 533.74h1.5v1.5h-1.5zM128.96 480.48h1.5v1.5h-1.5zM82.77 508.15h1.5v1.5h-1.5zM55.94 541.55h1.5v1.5h-1.5zM77.5 513.53h1.5v1.5h-1.5zM87.04 537.63h1.5v1.5h-1.5zM131.86 485.39h1.5v1.5h-1.5zM132.46 500.66h1.5v1.5h-1.5zM113.74 497.8h1.5v1.5h-1.5zM125.39 472.35h1.5v1.5h-1.5zM97.74 485.18h1.5v1.5h-1.5zM102.05 497.76h1.5v1.5h-1.5zM72.91 495.61h1.5v1.5h-1.5zM139.99 512.68h1.5v1.5h-1.5zM77.38 537.32h1.5v1.5h-1.5zM84.64 540.6h1.5v1.5h-1.5zM82.79 519.51h1.5v1.5h-1.5zM140.41 496.07h1.5v1.5h-1.5zM81.43 516.93h1.5v1.5h-1.5zM69.89 530.48h1.5v1.5h-1.5zM85.57 457.58h1.5v1.5h-1.5zM95.84 496.44h1.5v1.5h-1.5zM133.29 471.44h1.5v1.5h-1.5zM68.59 519.38h1.5v1.5h-1.5zM129.05 512.01h1.5v1.5h-1.5zM98.6 488.98h1.5v1.5h-1.5zM111.38 492.24h1.5v1.5h-1.5zM95.43 514.44h1.5v1.5h-1.5zM130.64 488.99h1.5v1.5h-1.5zM118.11 491.96h1.5v1.5h-1.5zM76.54 515.14h1.5v1.5h-1.5zM140.33 460.6h1.5v1.5h-1.5zM141.68 465.79h1.5v1.5h-1.5zM80.99 506.37h1.5v1.5h-1.5zM82.22 490.25h1.5v1.5h-1.5zM54.8 512.12h1.5v1.5h-1.5zM107.99 477.35h1.5v1.5h-1.5zM115.14 489.01h1.5v1.5h-1.5zM63.18 540.78h1.5v1.5h-1.5zM103.46 502.78h1.5v1.5h-1.5zM77.29 525.56h1.5v1.5h-1.5zM138.72 457.74h1.5v1.5h-1.5zM109.14 514.38h1.5v1.5h-1.5zM89.66 494.42h1.5v1.5h-1.5zM58.91 505.21h1.5v1.5h-1.5zM111.36 523.83h1.5v1.5h-1.5zM114.64 456.65h1.5v1.5h-1.5zM101.18 491.28h1.5v1.5h-1.5zM108.53 498.66h1.5v1.5h-1.5zM125.03 484.04h1.5v1.5h-1.5zM103.53 487.31h1.5v1.5h-1.5zM65.61 521.51h1.5v1.5h-1.5zM123.06 487.76h1.5v1.5h-1.5zM79.27 535.53h1.5v1.5h-1.5zM83.69 501.25h1.5v1.5h-1.5zM88.82 491.29h1.5v1.5h-1.5zM67.7 526.66h1.5v1.5h-1.5zM104.34 495.97h1.5v1.5h-1.5zM109.49 480.47h1.5v1.5h-1.5zM119.79 461.88h1.5v1.5h-1.5zM106.15 503.41h1.5v1.5h-1.5zM78.48 513.25h1.5v1.5h-1.5zM81.66 518.85h1.5v1.5h-1.5zM85.66 517.4h1.5v1.5h-1.5zM113.33 470.11h1.5v1.5h-1.5zM93.66 513.49h1.5v1.5h-1.5zM82.56 526.87h1.5v1.5h-1.5zM125.66 459.05h1.5v1.5h-1.5zM78.64 520.53h1.5v1.5h-1.5zM140.76 478.45h1.5v1.5h-1.5zM105.88 525.32h1.5v1.5h-1.5zM70.14 526.6h1.5v1.5h-1.5zM102.79 522.8h1.5v1.5h-1.5zM111.61 482.69h1.5v1.5h-1.5zM141.79 492.14h1.5v1.5h-1.5zM74.94 496.37h1.5v1.5h-1.5zM130.34 453.36h1.5v1.5h-1.5zM133.59 475.7h1.5v1.5h-1.5zM111.21 507.3h1.5v1.5h-1.5zM106.41 484.74h1.5v1.5h-1.5zM97.18 487.62h1.5v1.5h-1.5zM76.23 532.55h1.5v1.5h-1.5zM111.4 524.25h1.5v1.5h-1.5zM85.39 507.5h1.5v1.5h-1.5zM92.67 517.79h1.5v1.5h-1.5zM132.42 457.54h1.5v1.5h-1.5zM117.65 485.37h1.5v1.5h-1.5zM133.82 475.41h1.5v1.5h-1.5zM132.87 464.56h1.5v1.5h-1.5zM84.87 503.32h1.5v1.5h-1.5zM68.43 530.32h1.5v1.5h-1.5zM59.26 526h1.5v1.5h-1.5zM131.32 464.38h1.5v1.5h-1.5zM133.59 472h1.5v1.5h-1.5zM115.02 497.61h1.5v1.5h-1.5zM85.63 520.38h1.5v1.5h-1.5zM99.98 477.27h1.5v1.5h-1.5zM95.48 490.46h1.5v1.5h-1.5zM84.48 492.67h1.5v1.5h-1.5zM81.11 523.75h1.5v1.5h-1.5zM80.15 488.34h1.5v1.5h-1.5zM135.26 463.28h1.5v1.5h-1.5zM105.88 484.18h1.5v1.5h-1.5zM100.23 501.97h1.5v1.5h-1.5zM109.38 493.2h1.5v1.5h-1.5zM67.16 541.8h1.5v1.5h-1.5zM74.91 509.48h1.5v1.5h-1.5zM90.42 516.95h1.5v1.5h-1.5zM114.62 464.49h1.5v1.5h-1.5zM122.05 465.78h1.5v1.5h-1.5zM104.25 469.63h1.5v1.5h-1.5zM98.13 463.54h1.5v1.5h-1.5zM118.58 495.62h1.5v1.5h-1.5zM136.78 454.39h1.5v1.5h-1.5zM113.93 469.34h1.5v1.5h-1.5zM92.54 460.97h1.5v1.5h-1.5zM117.25 528.21h1.5v1.5h-1.5zM92.1 503.31h1.5v1.5h-1.5zM81.5 495.23h1.5v1.5h-1.5zM92.41 520.24h1.5v1.5h-1.5zM93.81 511.45h1.5v1.5h-1.5zM92.59 516.97h1.5v1.5h-1.5zM88.6 513.62h1.5v1.5h-1.5zM87.95 519.74h1.5v1.5h-1.5zM92.28 504.08h1.5v1.5h-1.5zM95.3 469.23h1.5v1.5h-1.5zM92.68 495.61h1.5v1.5h-1.5zM126.83 478.3h1.5v1.5h-1.5zM140.51 472.68h1.5v1.5h-1.5zM141.42 484.85h1.5v1.5h-1.5zM89.84 459.51h1.5v1.5h-1.5zM90.44 519.08h1.5v1.5h-1.5zM82.48 499.18h1.5v1.5h-1.5zM88.72 518.77h1.5v1.5h-1.5zM58.01 524.82h1.5v1.5h-1.5zM107.52 462.24h1.5v1.5h-1.5zM112.1 491.29h1.5v1.5h-1.5zM56.92 498.44h1.5v1.5h-1.5zM72.25 512.35h1.5v1.5h-1.5zM105.71 477.06h1.5v1.5h-1.5zM116.2 472.22h1.5v1.5h-1.5zM115.22 509.33h1.5v1.5h-1.5zM125.29 481.42h1.5v1.5h-1.5zM80.07 527.43h1.5v1.5h-1.5zM58.55 529.83h1.5v1.5h-1.5zM116.11 461.75h1.5v1.5h-1.5zM99.46 508.57h1.5v1.5h-1.5zM96.56 485.29h1.5v1.5h-1.5zM121.8 481.04h1.5v1.5h-1.5zM99.83 496.33h1.5v1.5h-1.5zM125.75 467.74h1.5v1.5h-1.5zM62.93 518.44h1.5v1.5h-1.5zM105.98 479.66h1.5v1.5h-1.5zM87.87 472.4h1.5v1.5h-1.5zM108.93 495.99h1.5v1.5h-1.5zM86.1 481.26h1.5v1.5h-1.5zM80.46 491.43h1.5v1.5h-1.5zM93.16 506.71h1.5v1.5h-1.5zM132.9 459.85h1.5v1.5h-1.5zM73.15 541.72h1.5v1.5h-1.5zM62.29 539.08h1.5v1.5h-1.5zM115.1 488.03h1.5v1.5h-1.5zM55.97 528h1.5v1.5h-1.5zM142.09 461.97h1.5v1.5h-1.5zM121.68 492.65h1.5v1.5h-1.5zM91.92 538.09h1.5v1.5h-1.5zM141.64 459.3h1.5v1.5h-1.5zM136.82 462.7h1.5v1.5h-1.5zM78.84 532.91h1.5v1.5h-1.5zM124.11 497.97h1.5v1.5h-1.5zM80.41 503.01h1.5v1.5h-1.5zM134.68 473.44h1.5v1.5h-1.5zM121.92 471.03h1.5v1.5h-1.5zM87.73 515.93h1.5v1.5h-1.5zM108.04 495.39h1.5v1.5h-1.5zM122.37 478.17h1.5v1.5h-1.5zM71.76 501.18h1.5v1.5h-1.5zM102.49 494.24h1.5v1.5h-1.5zM117.65 503.5h1.5v1.5h-1.5zM96.74 528.6h1.5v1.5h-1.5zM92.35 530.6h1.5v1.5h-1.5zM91.18 485.17h1.5v1.5h-1.5zM109.14 492.61h1.5v1.5h-1.5zM98.39 494h1.5v1.5h-1.5zM60.21 498.91h1.5v1.5h-1.5zM94.2 513.84h1.5v1.5h-1.5zM135.53 462.55h1.5v1.5h-1.5zM112.9 470.08h1.5v1.5h-1.5zM84.19 500.38h1.5v1.5h-1.5zM119.71 469.86h1.5v1.5h-1.5zM85.81 508.18h1.5v1.5h-1.5zM83.72 536.38h1.5v1.5h-1.5zM113.57 510.17h1.5v1.5h-1.5zM77.08 528.97h1.5v1.5h-1.5zM69.26 513.43h1.5v1.5h-1.5zM88.48 493.11h1.5v1.5h-1.5zM107.14 497.24h1.5v1.5h-1.5zM91.47 506.88h1.5v1.5h-1.5zM104.87 508.13h1.5v1.5h-1.5zM110.99 506.83h1.5v1.5h-1.5zM57.51 540.16h1.5v1.5h-1.5zM60.5 536.28h1.5v1.5h-1.5zM57.2 539.18h1.5v1.5h-1.5zM60.66 539.73h1.5v1.5h-1.5zM59.66 539.55h1.5v1.5h-1.5zM59.17 536.22h1.5v1.5h-1.5zM59.99 536.76h1.5v1.5h-1.5zM58.61 537.31h1.5v1.5h-1.5zM58.77 536.04h1.5v1.5h-1.5zM59.05 536.44h1.5v1.5h-1.5zM57.57 535.16h1.5v1.5h-1.5zM58.31 538.9h1.5v1.5h-1.5zM57.95 537.21h1.5v1.5h-1.5zM56.75 537.69h1.5v1.5h-1.5zM60.32 538.92h1.5v1.5h-1.5zM56.8 535.85h1.5v1.5h-1.5zM59.53 539.8h1.5v1.5h-1.5zM56.69 535.68h1.5v1.5h-1.5zM58.07 539.25h1.5v1.5h-1.5zM58.63 539.29h1.5v1.5h-1.5zM60.99 540.2h1.5v1.5h-1.5zM58.02 535.47h1.5v1.5h-1.5zM57.02 537.11h1.5v1.5h-1.5zM60.49 539.47h1.5v1.5h-1.5zM58.73 536.04h1.5v1.5h-1.5zM57.46 538.82h1.5v1.5h-1.5zM59.07 538.17h1.5v1.5h-1.5zM59.44 535.37h1.5v1.5h-1.5zM59.29 535.55h1.5v1.5h-1.5zM57.85 539.91h1.5v1.5h-1.5zM60.09 539.63h1.5v1.5h-1.5zM60.5 535.92h1.5v1.5h-1.5zM61.12 536.92h1.5v1.5h-1.5zM58.43 535.72h1.5v1.5h-1.5zM58.31 536.14h1.5v1.5h-1.5zM57.04 537.06h1.5v1.5h-1.5zM59.76 540h1.5v1.5h-1.5zM58.25 538.4h1.5v1.5h-1.5zM56.17 538.79h1.5v1.5h-1.5zM61.05 535.37h1.5v1.5h-1.5zM57.51 539.15h1.5v1.5h-1.5zM58.87 537.06h1.5v1.5h-1.5zM58.8 537.74h1.5v1.5h-1.5zM59.84 535.48h1.5v1.5h-1.5zM59.69 536.15h1.5v1.5h-1.5zM59.43 538.22h1.5v1.5h-1.5zM60.6 535.49h1.5v1.5h-1.5zM60.57 537.73h1.5v1.5h-1.5zM59.13 537.93h1.5v1.5h-1.5zM56.79 538.13h1.5v1.5h-1.5zM60.3 539.53h1.5v1.5h-1.5zM58.4 539.72h1.5v1.5h-1.5zM60.4 537.47h1.5v1.5h-1.5zM57.5 537.56h1.5v1.5h-1.5zM56.42 538.91h1.5v1.5h-1.5zM58.1 539.5h1.5v1.5h-1.5zM58.14 540.31h1.5v1.5h-1.5zM57.02 537.1h1.5v1.5h-1.5zM59.35 539.17h1.5v1.5h-1.5zM59.59 539.05h1.5v1.5h-1.5zM58.64 539.4h1.5v1.5h-1.5zM57.25 536.96h1.5v1.5h-1.5zM59.58 540.35h1.5v1.5h-1.5zM60.18 539.5h1.5v1.5h-1.5zM56.51 539.69h1.5v1.5h-1.5zM59.49 538.31h1.5v1.5h-1.5zM57.91 540.27h1.5v1.5h-1.5zM59.8 535.91h1.5v1.5h-1.5zM59.28 535.17h1.5v1.5h-1.5zM56.42 537.12h1.5v1.5h-1.5zM56.87 537.25h1.5v1.5h-1.5zM60.57 536.7h1.5v1.5h-1.5zM58.21 536.65h1.5v1.5h-1.5zM56.42 537.19h1.5v1.5h-1.5zM57.38 538.88h1.5v1.5h-1.5zM59.78 535.27h1.5v1.5h-1.5zM56.77 538.88h1.5v1.5h-1.5zM58.19 540.55h1.5v1.5h-1.5zM59.5 540.17h1.5v1.5h-1.5zM60.04 537.74h1.5v1.5h-1.5zM58.88 539.24h1.5v1.5h-1.5zM58.62 536.94h1.5v1.5h-1.5zM60.84 539.62h1.5v1.5h-1.5zM57.08 538.94h1.5v1.5h-1.5zM61.1 538.04h1.5v1.5h-1.5zM59.11 538.38h1.5v1.5h-1.5zM58.5 535.81h1.5v1.5h-1.5zM57.93 538.53h1.5v1.5h-1.5zM58.28 538.06h1.5v1.5h-1.5zM57.51 538.13h1.5v1.5h-1.5zM139.83 458.87h1.5v1.5h-1.5zM139.95 458.86h1.5v1.5h-1.5zM139.61 457.57h1.5v1.5h-1.5zM138.9 456.56h1.5v1.5h-1.5zM139.77 456.54h1.5v1.5h-1.5zM138.05 458.15h1.5v1.5h-1.5zM138.79 456.88h1.5v1.5h-1.5zM139.74 456.86h1.5v1.5h-1.5zM141.38 457.5h1.5v1.5h-1.5zM138.77 455.19h1.5v1.5h-1.5zM138.21 455.53h1.5v1.5h-1.5zM139.94 455.9h1.5v1.5h-1.5zM139.07 456.66h1.5v1.5h-1.5zM139.08 456.29h1.5v1.5h-1.5zM140.07 457.8h1.5v1.5h-1.5zM140.89 458.42h1.5v1.5h-1.5zM140.07 458.38h1.5v1.5h-1.5zM138.66 456.7h1.5v1.5h-1.5zM138.4 456.3h1.5v1.5h-1.5zM141.09 455.61h1.5v1.5h-1.5zM138.4 456.97h1.5v1.5h-1.5zM141.33 457.05h1.5v1.5h-1.5zM139.45 456.96h1.5v1.5h-1.5zM139.32 458.06h1.5v1.5h-1.5zM138.79 455.81h1.5v1.5h-1.5zM141.11 457.65h1.5v1.5h-1.5zM139.73 458.75h1.5v1.5h-1.5zM138.52 457.03h1.5v1.5h-1.5zM140.78 457.08h1.5v1.5h-1.5zM139.9 458.91h1.5v1.5h-1.5zM141.09 457.52h1.5v1.5h-1.5zM139.31 456.98h1.5v1.5h-1.5zM139.33 458.25h1.5v1.5h-1.5zM139.9 458.2h1.5v1.5h-1.5zM139.24 455.85h1.5v1.5h-1.5zM140.8 455.39h1.5v1.5h-1.5zM139.96 457.11h1.5v1.5h-1.5zM137.92 455.56h1.5v1.5h-1.5zM140.75 455.26h1.5v1.5h-1.5zM139.37 457.31h1.5v1.5h-1.5zM141.2 457.72h1.5v1.5h-1.5zM138.2 457.75h1.5v1.5h-1.5zM138.74 456.16h1.5v1.5h-1.5zM141.32 458.58h1.5v1.5h-1.5zM141.12 458.84h1.5v1.5h-1.5zM141.33 455.56h1.5v1.5h-1.5zM138.79 457.47h1.5v1.5h-1.5zM139.97 455.86h1.5v1.5h-1.5zM141.02 457.61h1.5v1.5h-1.5zM139.28 456h1.5v1.5h-1.5z" fill="#b4b4b4" fill-opacity="0.52"/>
<rect x="53.8" y="451.9" width="92.6" height="92.7" fill="none" stroke="#1a1a1a" stroke-width="1"/>
<line x1="50.8" y1="540.5" x2="53.8" y2="540.5" stroke="#1a1a1a" stroke-width="0.8"/>
<text x="46.6" y="542.76" font-size="6.27" text-anchor="end" fill="#333" textLength="10.9" lengthAdjust="spacingAndGlyphs" stroke="#333" stroke-width="0.05">0.00</text>
<line x1="57.7" y1="544.6" x2="57.7" y2="547.2" stroke="#1a1a1a" stroke-width="0.8"/>
<text x="57.7" y="556.44" font-size="6.49" text-anchor="middle" fill="#333" textLength="10.9" lengthAdjust="spacingAndGlyphs" stroke="#333" stroke-width="0.05">0.00</text>
<line x1="50.8" y1="519.45" x2="53.8" y2="519.45" stroke="#1a1a1a" stroke-width="0.8"/>
<text x="46.6" y="521.71" font-size="6.27" text-anchor="end" fill="#333" textLength="10.9" lengthAdjust="spacingAndGlyphs" stroke="#333" stroke-width="0.05">0.25</text>
<line x1="78.75" y1="544.6" x2="78.75" y2="547.2" stroke="#1a1a1a" stroke-width="0.8"/>
<text x="78.75" y="556.44" font-size="6.49" text-anchor="middle" fill="#333" textLength="10.9" lengthAdjust="spacingAndGlyphs" stroke="#333" stroke-width="0.05">0.25</text>
<line x1="50.8" y1="498.4" x2="53.8" y2="498.4" stroke="#1a1a1a" stroke-width="0.8"/>
<text x="46.6" y="500.66" font-size="6.27" text-anchor="end" fill="#333" textLength="10.9" lengthAdjust="spacingAndGlyphs" stroke="#333" stroke-width="0.05">0.50</text>
<line x1="99.8" y1="544.6" x2="99.8" y2="547.2" stroke="#1a1a1a" stroke-width="0.8"/>
<text x="99.8" y="556.44" font-size="6.49" text-anchor="middle" fill="#333" textLength="10.9" lengthAdjust="spacingAndGlyphs" stroke="#333" stroke-width="0.05">0.50</text>
<line x1="50.8" y1="477.35" x2="53.8" y2="477.35" stroke="#1a1a1a" stroke-width="0.8"/>
<text x="46.6" y="479.61" font-size="6.27" text-anchor="end" fill="#333" textLength="10.9" lengthAdjust="spacingAndGlyphs" stroke="#333" stroke-width="0.05">0.75</text>
<line x1="120.85" y1="544.6" x2="120.85" y2="547.2" stroke="#1a1a1a" stroke-width="0.8"/>
<text x="120.85" y="556.44" font-size="6.49" text-anchor="middle" fill="#333" textLength="10.9" lengthAdjust="spacingAndGlyphs" stroke="#333" stroke-width="0.05">0.75</text>
<line x1="50.8" y1="456.3" x2="53.8" y2="456.3" stroke="#1a1a1a" stroke-width="0.8"/>
<text x="46.6" y="458.56" font-size="6.27" text-anchor="end" fill="#333" textLength="10.9" lengthAdjust="spacingAndGlyphs" stroke="#333" stroke-width="0.05">1.00</text>
<line x1="141.9" y1="544.6" x2="141.9" y2="547.2" stroke="#1a1a1a" stroke-width="0.8"/>
<text x="141.9" y="556.44" font-size="6.49" text-anchor="middle" fill="#333" textLength="10.9" lengthAdjust="spacingAndGlyphs" stroke="#333" stroke-width="0.05">1.00</text>
<text x="0" y="2.77" font-size="7.7" text-anchor="middle" fill="#5b4f9a" transform="translate(28 384.4) rotate(-90)" stroke="#5b4f9a" stroke-width="0.05" textLength="69.5" lengthAdjust="spacingAndGlyphs">VAF in CD34-GPR56-</text>
<text x="0" y="2.77" font-size="7.7" text-anchor="middle" fill="#6aaa80" transform="translate(27.9 498.8) rotate(-90)" stroke="#6aaa80" stroke-width="0.05" textLength="72.9" lengthAdjust="spacingAndGlyphs">VAF in CD34-GPR56+</text>
<text x="100" y="568.39" font-size="8.58" text-anchor="middle" fill="#d0603f" textLength="76" lengthAdjust="spacingAndGlyphs" stroke="#d0603f" stroke-width="0.05">VAF in CD34+GPR56+</text>
<polygon points="57.9,370.45 59.62,373.45 56.17,373.45" fill="#2b2d6e" stroke="#111" stroke-width="0.35"/>
<polygon points="57.9,378.15 59.62,381.15 56.17,381.15" fill="#2b2d6e" stroke="#111" stroke-width="0.35"/>
<polygon points="57.9,380.35 59.62,383.35 56.17,383.35" fill="#2b2d6e" stroke="#111" stroke-width="0.35"/>
<polygon points="57.9,382.35 59.62,385.35 56.17,385.35" fill="#2b2d6e" stroke="#111" stroke-width="0.35"/>
<polygon points="57.9,384.25 59.62,387.25 56.17,387.25" fill="#2b2d6e" stroke="#111" stroke-width="0.35"/>
<polygon points="57.9,387.65 59.62,390.65 56.17,390.65" fill="#2b2d6e" stroke="#111" stroke-width="0.35"/>
<polygon points="57.9,391.15 59.62,394.15 56.17,394.15" fill="#2b2d6e" stroke="#111" stroke-width="0.35"/>
<polygon points="57.9,392.95 59.62,395.95 56.17,395.95" fill="#2b2d6e" stroke="#111" stroke-width="0.35"/>
<polygon points="57.9,405.55 59.62,408.55 56.17,408.55" fill="#9fc8c0" stroke="#111" stroke-width="0.35"/>
<text x="61.1" y="373.15" font-size="2.9" text-anchor="start" fill="#444">KCNT81</text>
<text x="60.8" y="379.95" font-size="2.9" text-anchor="start" fill="#444">FBRX2</text>
<text x="60.8" y="383.45" font-size="2.9" text-anchor="start" fill="#444">SPRY2</text>
<text x="60.8" y="386.95" font-size="2.9" text-anchor="start" fill="#444">TNECK3A</text>
<text x="60.8" y="390.35" font-size="2.9" text-anchor="start" fill="#444">SPP3A</text>
<text x="60.8" y="393.75" font-size="2.9" text-anchor="start" fill="#444">KPNA3</text>
<text x="60.8" y="396.45" font-size="2.9" text-anchor="start" fill="#444">ZFX2A2</text>
<text x="60.8" y="408.25" font-size="2.9" text-anchor="start" fill="#444">PTPN11</text>
<circle cx="99" cy="377.7" r="1.5" fill="#6f9a3a" stroke="#222" stroke-width="0.35"/>
<circle cx="104.4" cy="380.4" r="1.5" fill="#6f9a3a" stroke="#222" stroke-width="0.35"/>
<circle cx="101.9" cy="387.3" r="1.5" fill="#6f9a3a" stroke="#222" stroke-width="0.35"/>
<text x="100.6" y="377.35" font-size="2.9" text-anchor="start" fill="#444" textLength="11" lengthAdjust="spacingAndGlyphs">DNMT3A</text>
<text x="105.8" y="381.85" font-size="2.9" text-anchor="start" fill="#444" textLength="8.6" lengthAdjust="spacingAndGlyphs">NPM1</text>
<text x="103.6" y="389.65" font-size="2.9" text-anchor="start" fill="#444" textLength="5.8" lengthAdjust="spacingAndGlyphs">IDH2</text>
<polygon points="142,373.16 143.84,369.96 140.16,369.96" fill="#d27a45" stroke="#111" stroke-width="0.7"/>
<polygon points="143.2,374.76 145.04,371.56 141.36,371.56" fill="#d27a45" stroke="#111" stroke-width="0.7"/>
<polygon points="142.2,376.56 144.04,373.36 140.36,373.36" fill="#d27a45" stroke="#111" stroke-width="0.7"/>
<polygon points="142.6,379.96 144.44,376.76 140.76,376.76" fill="#d27a45" stroke="#111" stroke-width="0.7"/>
<polygon points="141.6,381.76 143.44,378.56 139.76,378.56" fill="#d27a45" stroke="#111" stroke-width="0.7"/>
<polygon points="141.2,385.16 143.04,381.96 139.36,381.96" fill="#d27a45" stroke="#111" stroke-width="0.7"/>
<polygon points="142.6,386.56 144.44,383.36 140.76,383.36" fill="#d27a45" stroke="#111" stroke-width="0.7"/>
<polygon points="143.6,387.96 145.44,384.76 141.76,384.76" fill="#d27a45" stroke="#111" stroke-width="0.7"/>
<polygon points="142,397.96 143.84,394.76 140.16,394.76" fill="#d27a45" stroke="#111" stroke-width="0.7"/>
<polygon points="139,421.75 140.72,418.75 137.28,418.75" fill="#8a1c1c" stroke="#111" stroke-width="0.35"/>
<text x="136.3" y="372.05" font-size="2.9" text-anchor="end" fill="#444">CENP1</text>
<text x="136.3" y="375.05" font-size="2.9" text-anchor="end" fill="#444">RBM34</text>
<text x="136.3" y="378.05" font-size="2.9" text-anchor="end" fill="#444">FLT3</text>
<text x="136.3" y="382.35" font-size="2.9" text-anchor="end" fill="#444">PARP4</text>
<text x="136.3" y="387.15" font-size="2.9" text-anchor="end" fill="#444">CAS6A</text>
<text x="136.3" y="397.55" font-size="2.9" text-anchor="end" fill="#444">SLTDA3</text>
<text x="130.2" y="421.45" font-size="2.9" text-anchor="end" fill="#444">FLT3-ITD</text>
<polygon points="59.6,485.75 61.33,488.75 57.88,488.75" fill="#2b2d6e" stroke="#111" stroke-width="0.35"/>
<polygon points="62.5,494.05 64.22,497.05 60.77,497.05" fill="#2b2d6e" stroke="#111" stroke-width="0.35"/>
<polygon points="62.5,497.35 64.22,500.35 60.77,500.35" fill="#2b2d6e" stroke="#111" stroke-width="0.35"/>
<polygon points="58.1,500.55 59.83,503.55 56.38,503.55" fill="#2b2d6e" stroke="#111" stroke-width="0.35"/>
<polygon points="58.1,503.25 59.83,506.25 56.38,506.25" fill="#2b2d6e" stroke="#111" stroke-width="0.35"/>
<polygon points="58.1,506.95 59.83,509.95 56.38,509.95" fill="#2b2d6e" stroke="#111" stroke-width="0.35"/>
<polygon points="58.1,508.85 59.83,511.85 56.38,511.85" fill="#2b2d6e" stroke="#111" stroke-width="0.35"/>
<polygon points="58.1,520.95 59.83,523.95 56.38,523.95" fill="#9fc8c0" stroke="#111" stroke-width="0.35"/>
<text x="63.5" y="488.45" font-size="2.9" text-anchor="start" fill="#444">KCNT81</text>
<text x="65.3" y="496.25" font-size="2.9" text-anchor="start" fill="#444">FBRX2</text>
<text x="65.3" y="499.75" font-size="2.9" text-anchor="start" fill="#444">SPRY2</text>
<text x="61.2" y="503.55" font-size="2.9" text-anchor="start" fill="#444">TNECK3A</text>
<text x="61.2" y="506.95" font-size="2.9" text-anchor="start" fill="#444">SPP3A</text>
<text x="61.2" y="510.25" font-size="2.9" text-anchor="start" fill="#444">KPNA3</text>
<text x="61.2" y="512.95" font-size="2.9" text-anchor="start" fill="#444">ZFX2A2</text>
<text x="61.2" y="523.65" font-size="2.9" text-anchor="start" fill="#444">PTPN11</text>
<circle cx="105.4" cy="493.4" r="1.5" fill="#7aaa40" stroke="#222" stroke-width="0.35"/>
<circle cx="101" cy="495.3" r="1.5" fill="#7aaa40" stroke="#222" stroke-width="0.35"/>
<circle cx="100.6" cy="503.2" r="1.5" fill="#7aaa40" stroke="#222" stroke-width="0.35"/>
<text x="107.2" y="492.85" font-size="2.9" text-anchor="start" fill="#444">DNMT3A</text>
<text x="103" y="499.65" font-size="2.9" text-anchor="start" fill="#444">NPM1</text>
<text x="103" y="505.45" font-size="2.9" text-anchor="start" fill="#444">IDH2</text>
<polygon points="141.1,489.56 142.94,486.36 139.26,486.36" fill="#d27a45" stroke="#111" stroke-width="0.7"/>
<polygon points="142.4,490.56 144.24,487.36 140.56,487.36" fill="#d27a45" stroke="#111" stroke-width="0.7"/>
<polygon points="141.7,492.36 143.54,489.16 139.86,489.16" fill="#d27a45" stroke="#111" stroke-width="0.7"/>
<polygon points="139.9,494.76 141.74,491.56 138.06,491.56" fill="#d27a45" stroke="#111" stroke-width="0.7"/>
<polygon points="138.3,495.96 140.14,492.76 136.46,492.76" fill="#d27a45" stroke="#111" stroke-width="0.7"/>
<polygon points="141.2,496.36 143.04,493.16 139.36,493.16" fill="#d27a45" stroke="#111" stroke-width="0.7"/>
<polygon points="140.5,500.96 142.34,497.76 138.66,497.76" fill="#d27a45" stroke="#111" stroke-width="0.7"/>
<polygon points="141.7,502.26 143.54,499.06 139.86,499.06" fill="#d27a45" stroke="#111" stroke-width="0.7"/>
<polygon points="140.4,513.65 142.12,510.65 138.68,510.65" fill="#d27a45" stroke="#111" stroke-width="0.6"/>
<polygon points="137.5,538.15 139.22,535.15 135.78,535.15" fill="#8a1c1c" stroke="#111" stroke-width="0.35"/>
<text x="135" y="513.25" font-size="2.9" text-anchor="end" fill="#444">SLTDA3</text>
<text x="129" y="537.85" font-size="2.9" text-anchor="end" fill="#444">FLT3-ITD</text>
<text x="190.2" y="340.73" font-size="7.04" text-anchor="middle" fill="#222" textLength="59.2" lengthAdjust="spacingAndGlyphs" stroke="#222" stroke-width="0.05">Chr13 clonal evolution</text>
<ellipse cx="172.1" cy="353.5" rx="8.6" ry="9.3" fill="#fff" stroke="#222" stroke-width="0.7"/>
<rect x="169.45" y="348.5" width="1.5" height="10.5" fill="#40408a" stroke="#222" stroke-width="0.3" rx="0.8"/>
<rect x="173.15" y="348.5" width="1.5" height="10.5" fill="#b8623e" stroke="#222" stroke-width="0.3" rx="0.8"/>
<line x1="182.6" y1="357.4" x2="191.25" y2="363.6" stroke="#111" stroke-width="0.7"/>
<polygon points="193.2,365 190.55,364.58 191.95,362.63" fill="#111" stroke="none" stroke-width="0.5"/>
<ellipse cx="203.7" cy="371.8" rx="8.1" ry="9.3" fill="#fff" stroke="#222" stroke-width="0.7"/>
<rect x="201.25" y="366.4" width="1.5" height="12.2" fill="#40408a" stroke="#222" stroke-width="0.3" rx="0.8"/>
<rect x="205.05" y="368.2" width="1.5" height="10.2" fill="#b8623e" stroke="#222" stroke-width="0.3" rx="0.8"/>
<polygon points="205.9,365.45 206.41,366.49 207.56,366.66 206.73,367.47 206.93,368.62 205.9,368.07 204.87,368.62 205.07,367.47 204.24,366.66 205.39,366.49" fill="#f4eca0" stroke="#222" stroke-width="0.4"/>
<text x="209.5" y="365.78" font-size="6.6" text-anchor="start" fill="#222" textLength="24" lengthAdjust="spacingAndGlyphs" stroke="#222" stroke-width="0.05">FLT3 -ITD</text>
<line x1="203.7" y1="381.2" x2="203.7" y2="383.2" stroke="#111" stroke-width="0.6"/>
<polygon points="203.7,384.8 202.8,383.2 204.6,383.2" fill="#111" stroke="none" stroke-width="0.5"/>
<line x1="210.4" y1="378.4" x2="216.25" y2="382.6" stroke="#111" stroke-width="0.7"/>
<polygon points="218.2,384 215.55,383.58 216.95,381.63" fill="#111" stroke="none" stroke-width="0.5"/>
<ellipse cx="203.8" cy="394.2" rx="7.9" ry="9.1" fill="#fff" stroke="#222" stroke-width="0.7"/>
<rect x="198.35" y="388.5" width="1.5" height="11.3" fill="#40408a" stroke="#222" stroke-width="0.3" rx="0.8"/>
<rect x="202.45" y="390" width="1.5" height="9.8" fill="#b8623e" stroke="#222" stroke-width="0.3" rx="0.8"/>
<rect x="206.55" y="390" width="1.5" height="9.8" fill="#b8623e" stroke="#222" stroke-width="0.3" rx="0.8"/>
<polygon points="203.2,387.45 203.71,388.49 204.86,388.66 204.03,389.47 204.23,390.62 203.2,390.07 202.17,390.62 202.37,389.47 201.54,388.66 202.69,388.49" fill="#f4eca0" stroke="#222" stroke-width="0.4"/>
<polygon points="207.3,387.45 207.81,388.49 208.96,388.66 208.13,389.47 208.33,390.62 207.3,390.07 206.27,390.62 206.47,389.47 205.64,388.66 206.79,388.49" fill="#f4eca0" stroke="#222" stroke-width="0.4"/>
<ellipse cx="221.8" cy="394" rx="7.6" ry="9.3" fill="#fff" stroke="#222" stroke-width="0.7"/>
<rect x="220.25" y="388.6" width="1.5" height="11" fill="#40408a" stroke="#222" stroke-width="0.3" rx="0.8"/>
<text x="245.8" y="393.38" font-size="6.6" text-anchor="middle" fill="#222" textLength="11.5" lengthAdjust="spacingAndGlyphs" stroke="#222" stroke-width="0.05">Non-</text>
<text x="246.4" y="400.88" font-size="6.6" text-anchor="middle" fill="#222" textLength="31.2" lengthAdjust="spacingAndGlyphs" stroke="#222" stroke-width="0.05">disjunction</text>
<line x1="172.1" y1="366" x2="172.1" y2="401.6" stroke="#111" stroke-width="0.7"/>
<polygon points="172.1,404 170.9,401.6 173.3,401.6" fill="#111" stroke="none" stroke-width="0.5"/>
<line x1="203.7" y1="403.6" x2="203.7" y2="406.4" stroke="#111" stroke-width="0.6"/>
<polygon points="203.7,408 202.8,406.4 204.6,406.4" fill="#111" stroke="none" stroke-width="0.5"/>
<text x="206.4" y="407.92" font-size="6.16" text-anchor="start" fill="#222" textLength="8.8" lengthAdjust="spacingAndGlyphs" stroke="#222" stroke-width="0.05">-13</text>
<ellipse cx="172.2" cy="417.6" rx="8.4" ry="9.6" fill="#fff" stroke="#222" stroke-width="0.7"/>
<rect x="169.55" y="412.2" width="1.5" height="11" fill="#40408a" stroke="#222" stroke-width="0.3" rx="0.8"/>
<rect x="173.35" y="412.2" width="1.5" height="11" fill="#b8623e" stroke="#222" stroke-width="0.3" rx="0.8"/>
<ellipse cx="203.7" cy="418" rx="8.5" ry="9.3" fill="#fff" stroke="#222" stroke-width="0.7"/>
<rect x="201.05" y="413.6" width="1.5" height="10" fill="#b8623e" stroke="#222" stroke-width="0.3" rx="0.8"/>
<rect x="204.95" y="413.6" width="1.5" height="10" fill="#b8623e" stroke="#222" stroke-width="0.3" rx="0.8"/>
<polygon points="201.8,411.05 202.31,412.09 203.46,412.26 202.63,413.07 202.83,414.22 201.8,413.68 200.77,414.22 200.97,413.07 200.14,412.26 201.29,412.09" fill="#f4eca0" stroke="#222" stroke-width="0.4"/>
<polygon points="205.7,411.05 206.21,412.09 207.36,412.26 206.53,413.07 206.73,414.22 205.7,413.68 204.67,414.22 204.87,413.07 204.04,412.26 205.19,412.09" fill="#f4eca0" stroke="#222" stroke-width="0.4"/>
<text x="246.3" y="418.18" font-size="6.6" text-anchor="middle" fill="#222" textLength="33.4" lengthAdjust="spacingAndGlyphs" stroke="#222" stroke-width="0.05">copy neutral</text>
<text x="246.3" y="423.88" font-size="6.6" text-anchor="middle" fill="#222" textLength="10.5" lengthAdjust="spacingAndGlyphs" stroke="#222" stroke-width="0.05">LOH</text>
<text x="161" y="434.43" font-size="7.04" text-anchor="start" fill="#222" textLength="20.2" lengthAdjust="spacingAndGlyphs" stroke="#222" stroke-width="0.05">GPR56-</text>
<text x="192.2" y="434.43" font-size="7.04" text-anchor="start" fill="#222" textLength="20.8" lengthAdjust="spacingAndGlyphs" stroke="#222" stroke-width="0.05">GPR56+</text>
<circle cx="161.2" cy="442.8" r="1.8" fill="#7aaa40" stroke="#222" stroke-width="0.4"/>
<text x="166.9" y="445.02" font-size="6.16" text-anchor="start" fill="#222" textLength="30.8" lengthAdjust="spacingAndGlyphs" stroke="#222" stroke-width="0.05">Heterozygous</text>
<text x="201.2" y="445.02" font-size="6.16" text-anchor="start" fill="#222" textLength="48" lengthAdjust="spacingAndGlyphs" stroke="#222" stroke-width="0.05">DNMT3A, NPM1, IDH2</text>
<polygon points="161.2,452.54 163.33,448.83 159.07,448.83" fill="#8a1c1c" stroke="#111" stroke-width="0.35"/>
<text x="166.9" y="452.72" font-size="6.16" text-anchor="start" fill="#222" textLength="19.3" lengthAdjust="spacingAndGlyphs" stroke="#222" stroke-width="0.05">FLT3-ITD</text>
<polygon points="161.2,459.64 163.33,455.94 159.07,455.94" fill="#d27a45" stroke="#111" stroke-width="0.35"/>
<text x="166.9" y="459.82" font-size="6.16" text-anchor="start" fill="#222" textLength="62.1" lengthAdjust="spacingAndGlyphs" stroke="#222" stroke-width="0.05">SNV homozygous in GPR56+</text>
<text x="166.9" y="466.02" font-size="6.16" text-anchor="start" fill="#222" textLength="51.6" lengthAdjust="spacingAndGlyphs" stroke="#222" stroke-width="0.05">heterozygous in GPR56-</text>
<polygon points="161.2,472.06 163.33,475.77 159.07,475.77" fill="#2b2d6e" stroke="#111" stroke-width="0.35"/>
<text x="166.9" y="476.32" font-size="6.16" text-anchor="start" fill="#222" textLength="63.1" lengthAdjust="spacingAndGlyphs" stroke="#222" stroke-width="0.05">SNV heterozygous in GPR56-</text>
<text x="166.9" y="482.42" font-size="6.16" text-anchor="start" fill="#222" textLength="39.6" lengthAdjust="spacingAndGlyphs" stroke="#222" stroke-width="0.05">absent in GPR56+</text>
<polygon points="161.2,486.66 163.33,490.37 159.07,490.37" fill="#9fc8c0" stroke="#111" stroke-width="0.35"/>
<text x="166.9" y="490.92" font-size="6.16" text-anchor="start" fill="#222" textLength="36.2" lengthAdjust="spacingAndGlyphs" stroke="#222" stroke-width="0.05">PTPN11  p.N58Y</text>
<rect x="168.3" y="503.3" width="30.5" height="27.4" fill="#fff" stroke="#222" stroke-width="0.7"/>
<line x1="183.33" y1="511.86" x2="182.72" y2="508.41" stroke="#666" stroke-width="0.3"/>
<line x1="185.45" y1="509.29" x2="184" y2="506.11" stroke="#666" stroke-width="0.3"/>
<line x1="185.29" y1="506.34" x2="183.79" y2="503.17" stroke="#666" stroke-width="0.3"/>
<line x1="182.88" y1="506.82" x2="182.65" y2="503.32" stroke="#666" stroke-width="0.3"/>
<line x1="187.05" y1="507.11" x2="186.78" y2="503.62" stroke="#666" stroke-width="0.3"/>
<line x1="185.95" y1="514.53" x2="184.99" y2="511.16" stroke="#666" stroke-width="0.3"/>
<line x1="184.68" y1="514.79" x2="184.95" y2="511.3" stroke="#666" stroke-width="0.3"/>
<line x1="187.22" y1="508.61" x2="185.69" y2="505.46" stroke="#666" stroke-width="0.3"/>
<line x1="183.15" y1="508.78" x2="181.93" y2="505.5" stroke="#666" stroke-width="0.3"/>
<line x1="183.49" y1="511.23" x2="184.58" y2="507.91" stroke="#666" stroke-width="0.3"/>
<line x1="184.55" y1="510.93" x2="185.03" y2="507.46" stroke="#666" stroke-width="0.3"/>
<line x1="182.83" y1="507.85" x2="181.35" y2="504.68" stroke="#666" stroke-width="0.3"/>
<line x1="184.85" y1="508.83" x2="185.48" y2="505.38" stroke="#666" stroke-width="0.3"/>
<line x1="184.99" y1="508.7" x2="185.29" y2="505.21" stroke="#666" stroke-width="0.3"/>
<line x1="186.34" y1="508.2" x2="187.36" y2="504.85" stroke="#666" stroke-width="0.3"/>
<line x1="185.39" y1="513.88" x2="185.65" y2="510.39" stroke="#666" stroke-width="0.3"/>
<line x1="184.08" y1="514.82" x2="184.88" y2="511.41" stroke="#666" stroke-width="0.3"/>
<line x1="184.8" y1="512.81" x2="183.5" y2="509.57" stroke="#666" stroke-width="0.3"/>
<line x1="185.19" y1="506.35" x2="184" y2="503.06" stroke="#666" stroke-width="0.3"/>
<line x1="186.71" y1="511.16" x2="187.29" y2="507.71" stroke="#666" stroke-width="0.3"/>
<line x1="184.23" y1="512.26" x2="185.51" y2="509" stroke="#666" stroke-width="0.3"/>
<line x1="185.69" y1="510.11" x2="186.02" y2="506.62" stroke="#666" stroke-width="0.3"/>
<line x1="187.7" y1="510.27" x2="188.86" y2="506.97" stroke="#666" stroke-width="0.3"/>
<line x1="182.83" y1="512.31" x2="183.41" y2="508.86" stroke="#666" stroke-width="0.3"/>
<line x1="187.96" y1="513.4" x2="188.48" y2="509.94" stroke="#666" stroke-width="0.3"/>
<line x1="184.62" y1="512.02" x2="183.87" y2="508.6" stroke="#666" stroke-width="0.3"/>
<path d="M182.8,528.6 Q181.8,520 182.6,514.5 Q183.4,509.5 185.8,509.5 Q188.2,510 188.6,515 Q189,521 188.4,528.6 Z" fill="none" stroke="#3a3a3a" stroke-width="0.6"/>
<path d="M184.2,527.4 Q183.8,521 184.6,516 Q185.6,513 186.8,516 Q187.4,521 187,527.4 Z" fill="#bbb" stroke="#444" stroke-width="0.5"/>
<path d="M172.2,527.8 Q171.8,523.6 174.8,523.2 Q178.6,523.2 178.8,525.6 Q178.6,528.4 175.4,528.4 Z" fill="#e0e0e0" stroke="#333" stroke-width="0.7"/>
<line x1="176.5" y1="525.5" x2="180.5" y2="525.5" stroke="#555" stroke-width="0.5"/>
<rect x="181.4" y="504.7" width="9.7" height="12.5" fill="none" stroke="#d43a3a" stroke-width="0.8" rx="0.8"/>
<rect x="168.7" y="520.6" width="11.8" height="10.6" fill="none" stroke="#4a42a0" stroke-width="0.8"/>
<rect x="183.1" y="520.3" width="11.3" height="11.4" fill="none" stroke="#6ab06a" stroke-width="0.8"/>
<line x1="165.1" y1="535.5" x2="165.1" y2="528.8" stroke="#111" stroke-width="0.85"/>
<polygon points="165.1,525.2 166.8,528.8 163.4,528.8" fill="#111" stroke="none" stroke-width="0.5"/>
<line x1="164.7" y1="535.5" x2="173.4" y2="535.5" stroke="#111" stroke-width="0.85"/>
<polygon points="177,535.5 173.4,537.2 173.4,533.8" fill="#111" stroke="none" stroke-width="0.5"/>
<text x="0" y="2.93" font-size="8.14" text-anchor="middle" fill="#222" transform="translate(158.9 530) rotate(-90)" stroke="#222" stroke-width="0.05" textLength="18.5" lengthAdjust="spacingAndGlyphs">CD34</text>
<text x="163.2" y="545.21" font-size="8.36" text-anchor="start" fill="#222" textLength="23.1" lengthAdjust="spacingAndGlyphs" stroke="#222" stroke-width="0.05">GPR56</text>
<text x="202.5" y="508.43" font-size="7.04" text-anchor="start" fill="#222" textLength="20.5" lengthAdjust="spacingAndGlyphs" stroke="#222" stroke-width="0.05">09H083</text>
<text x="202.5" y="516.43" font-size="7.04" text-anchor="start" fill="#222" textLength="40.5" lengthAdjust="spacingAndGlyphs" stroke="#222" stroke-width="0.05">sorting strategy</text>
<text x="330.3" y="344.31" font-size="8.36" text-anchor="middle" fill="#222" textLength="27.5" lengthAdjust="spacingAndGlyphs" stroke="#222" stroke-width="0.05">09H083</text>
<line x1="318" y1="346.6" x2="318" y2="424" stroke="#1a1a1a" stroke-width="1"/>
<line x1="317.5" y1="423.5" x2="345.7" y2="423.5" stroke="#1a1a1a" stroke-width="1"/>
<line x1="315" y1="423.4" x2="318" y2="423.4" stroke="#1a1a1a" stroke-width="0.8"/>
<text x="311" y="425.54" font-size="5.94" text-anchor="end" fill="#333" textLength="7.9" lengthAdjust="spacingAndGlyphs" stroke="#333" stroke-width="0.05">0.0</text>
<line x1="315" y1="408.5" x2="318" y2="408.5" stroke="#1a1a1a" stroke-width="0.8"/>
<text x="311" y="410.64" font-size="5.94" text-anchor="end" fill="#333" textLength="7.9" lengthAdjust="spacingAndGlyphs" stroke="#333" stroke-width="0.05">0.2</text>
<line x1="315" y1="393.6" x2="318" y2="393.6" stroke="#1a1a1a" stroke-width="0.8"/>
<text x="311" y="395.74" font-size="5.94" text-anchor="end" fill="#333" textLength="7.9" lengthAdjust="spacingAndGlyphs" stroke="#333" stroke-width="0.05">0.4</text>
<line x1="315" y1="378.7" x2="318" y2="378.7" stroke="#1a1a1a" stroke-width="0.8"/>
<text x="311" y="380.84" font-size="5.94" text-anchor="end" fill="#333" textLength="7.9" lengthAdjust="spacingAndGlyphs" stroke="#333" stroke-width="0.05">0.6</text>
<line x1="315" y1="363.8" x2="318" y2="363.8" stroke="#1a1a1a" stroke-width="0.8"/>
<text x="311" y="365.94" font-size="5.94" text-anchor="end" fill="#333" textLength="7.9" lengthAdjust="spacingAndGlyphs" stroke="#333" stroke-width="0.05">0.8</text>
<line x1="315" y1="348.9" x2="318" y2="348.9" stroke="#1a1a1a" stroke-width="0.8"/>
<text x="311" y="351.04" font-size="5.94" text-anchor="end" fill="#333" textLength="7.9" lengthAdjust="spacingAndGlyphs" stroke="#333" stroke-width="0.05">1.0</text>
<line x1="325.8" y1="423.5" x2="325.8" y2="426.2" stroke="#1a1a1a" stroke-width="0.8"/>
<line x1="337.6" y1="423.5" x2="337.6" y2="426.2" stroke="#1a1a1a" stroke-width="0.8"/>
<text x="0" y="0" font-size="6.1" text-anchor="end" fill="#222" stroke="#222" stroke-width="0.1" textLength="25.5" lengthAdjust="spacingAndGlyphs" transform="translate(328.6 430.2) rotate(-45)">diagnosis</text>
<text x="0" y="0" font-size="6.1" text-anchor="end" fill="#222" stroke="#222" stroke-width="0.1" textLength="19.3" lengthAdjust="spacingAndGlyphs" transform="translate(340.2 430.2) rotate(-45)">relapse</text>
<text x="0" y="2.85" font-size="7.92" text-anchor="middle" fill="#222" transform="translate(295.9 386.7) rotate(-90)" stroke="#222" stroke-width="0.05" textLength="87" lengthAdjust="spacingAndGlyphs">Mutant allele frequencies</text>
<line x1="325.6" y1="357.4" x2="337.8" y2="354.1" stroke="#5aa040" stroke-width="0.8"/>
<circle cx="325.6" cy="357.4" r="0.9" fill="#5aa040" stroke="none" stroke-width="0.5"/>
<circle cx="337.8" cy="354.1" r="0.9" fill="#5aa040" stroke="none" stroke-width="0.5"/>
<line x1="325.6" y1="386.5" x2="337.8" y2="388.3" stroke="#d0482a" stroke-width="0.8"/>
<circle cx="325.6" cy="386.5" r="0.9" fill="#d0482a" stroke="none" stroke-width="0.5"/>
<circle cx="337.8" cy="388.3" r="0.9" fill="#d0482a" stroke="none" stroke-width="0.5"/>
<line x1="325.6" y1="387.3" x2="337.8" y2="384.8" stroke="#e08a30" stroke-width="0.8"/>
<circle cx="325.6" cy="387.3" r="0.9" fill="#e08a30" stroke="none" stroke-width="0.5"/>
<circle cx="337.8" cy="384.8" r="0.9" fill="#e08a30" stroke="none" stroke-width="0.5"/>
<line x1="325.6" y1="385.2" x2="337.8" y2="386.7" stroke="#9040a0" stroke-width="0.8"/>
<circle cx="325.6" cy="385.2" r="0.9" fill="#9040a0" stroke="none" stroke-width="0.5"/>
<circle cx="337.8" cy="386.7" r="0.9" fill="#9040a0" stroke="none" stroke-width="0.5"/>
<line x1="325.8" y1="420" x2="337.5" y2="423.2" stroke="#3a3a8a" stroke-width="0.8"/>
<circle cx="325.8" cy="420" r="0.9" fill="#3a3a8a" stroke="none" stroke-width="0.5"/>
<circle cx="337.5" cy="423.2" r="0.9" fill="#3a3a8a" stroke="none" stroke-width="0.5"/>
<line x1="355.1" y1="351.8" x2="362.8" y2="351.8" stroke="#e08a30" stroke-width="1"/>
<circle cx="358.7" cy="351.8" r="1.3" fill="#e08a30" stroke="none" stroke-width="0.5"/>
<text x="365.9" y="353.78" font-size="5.5" text-anchor="start" fill="#222" textLength="37.9" lengthAdjust="spacingAndGlyphs" stroke="#222" stroke-width="0.05">DNMT3A  R882H</text>
<line x1="355.1" y1="361.8" x2="362.8" y2="361.8" stroke="#d0482a" stroke-width="1"/>
<circle cx="358.7" cy="361.8" r="1.3" fill="#d0482a" stroke="none" stroke-width="0.5"/>
<text x="365.9" y="363.78" font-size="5.5" text-anchor="start" fill="#222" textLength="31.9" lengthAdjust="spacingAndGlyphs" stroke="#222" stroke-width="0.05">IDH2  p.R140Q</text>
<line x1="355.1" y1="371.9" x2="362.8" y2="371.9" stroke="#5aa040" stroke-width="1"/>
<circle cx="358.7" cy="371.9" r="1.3" fill="#5aa040" stroke="none" stroke-width="0.5"/>
<text x="365.9" y="373.88" font-size="5.5" text-anchor="start" fill="#222" textLength="20.2" lengthAdjust="spacingAndGlyphs" stroke="#222" stroke-width="0.05">FLT3-ITD</text>
<line x1="355.1" y1="381.7" x2="362.8" y2="381.7" stroke="#9040a0" stroke-width="1"/>
<circle cx="358.7" cy="381.7" r="1.3" fill="#9040a0" stroke="none" stroke-width="0.5"/>
<text x="365.9" y="383.68" font-size="5.5" text-anchor="start" fill="#222" textLength="27.2" lengthAdjust="spacingAndGlyphs" stroke="#222" stroke-width="0.05">NPM1  TCTG</text>
<line x1="355.1" y1="391.4" x2="362.8" y2="391.4" stroke="#3a3a8a" stroke-width="1"/>
<circle cx="358.7" cy="391.4" r="1.3" fill="#3a3a8a" stroke="none" stroke-width="0.5"/>
<text x="365.9" y="393.38" font-size="5.5" text-anchor="start" fill="#222" textLength="35.9" lengthAdjust="spacingAndGlyphs" stroke="#222" stroke-width="0.05">PTPN11  p.N58Y</text>
<text x="388.4" y="411.26" font-size="6.82" text-anchor="middle" fill="#222" textLength="26" lengthAdjust="spacingAndGlyphs" stroke="#222" stroke-width="0.05">Diagnosis</text>
<text x="436.2" y="411.26" font-size="6.82" text-anchor="middle" fill="#222" textLength="20.7" lengthAdjust="spacingAndGlyphs" stroke="#222" stroke-width="0.05">Relapse</text>
<defs><radialGradient id="fz" cx="0.5" cy="0.5" r="0.5"><stop offset="0" stop-color="#777" stop-opacity="0.75"/><stop offset="0.6" stop-color="#999" stop-opacity="0.35"/><stop offset="1" stop-color="#bbb" stop-opacity="0"/></radialGradient></defs>
<rect x="370.3" y="415.6" width="38" height="34.8" fill="#fff" stroke="#222" stroke-width="0.9" rx="0.6"/>
<ellipse cx="388.5" cy="431" rx="8.5" ry="11.5" fill="url(#fz)" stroke="none" stroke-width="0.5"/>
<line x1="384.76" y1="423.26" x2="385.64" y2="421.24" stroke="#555" stroke-width="0.25"/>
<line x1="394.53" y1="426.1" x2="395.75" y2="424.27" stroke="#555" stroke-width="0.25"/>
<line x1="392.96" y1="430.01" x2="394.24" y2="428.22" stroke="#555" stroke-width="0.25"/>
<line x1="384.41" y1="420.34" x2="383.28" y2="418.46" stroke="#555" stroke-width="0.25"/>
<line x1="386.34" y1="429.73" x2="386.48" y2="427.53" stroke="#555" stroke-width="0.25"/>
<line x1="388.48" y1="428.64" x2="387.63" y2="426.61" stroke="#555" stroke-width="0.25"/>
<line x1="387.52" y1="439.95" x2="388.32" y2="437.9" stroke="#555" stroke-width="0.25"/>
<line x1="392.46" y1="436.53" x2="391.39" y2="434.6" stroke="#555" stroke-width="0.25"/>
<line x1="387.61" y1="427.25" x2="386.2" y2="425.56" stroke="#555" stroke-width="0.25"/>
<line x1="390.71" y1="426.52" x2="389.85" y2="424.49" stroke="#555" stroke-width="0.25"/>
<line x1="396.26" y1="427.88" x2="395.62" y2="425.78" stroke="#555" stroke-width="0.25"/>
<line x1="393.35" y1="427.51" x2="393.89" y2="425.38" stroke="#555" stroke-width="0.25"/>
<line x1="391.4" y1="440.42" x2="391.98" y2="438.3" stroke="#555" stroke-width="0.25"/>
<line x1="396.46" y1="426.79" x2="395.84" y2="424.68" stroke="#555" stroke-width="0.25"/>
<line x1="387.61" y1="431.31" x2="386.56" y2="429.37" stroke="#555" stroke-width="0.25"/>
<line x1="391.8" y1="430.69" x2="392.11" y2="428.51" stroke="#555" stroke-width="0.25"/>
<line x1="394.42" y1="429.16" x2="393.92" y2="427.02" stroke="#555" stroke-width="0.25"/>
<line x1="386.55" y1="437.59" x2="386.49" y2="435.39" stroke="#555" stroke-width="0.25"/>
<line x1="387.34" y1="434.25" x2="387.96" y2="432.14" stroke="#555" stroke-width="0.25"/>
<line x1="398.16" y1="433.76" x2="396.8" y2="432.04" stroke="#555" stroke-width="0.25"/>
<line x1="388.99" y1="419.35" x2="387.62" y2="417.63" stroke="#555" stroke-width="0.25"/>
<line x1="389.81" y1="424.36" x2="390.05" y2="422.17" stroke="#555" stroke-width="0.25"/>
<line x1="390.11" y1="429.09" x2="389.16" y2="427.1" stroke="#555" stroke-width="0.25"/>
<line x1="391.29" y1="428.08" x2="392.06" y2="426.02" stroke="#555" stroke-width="0.25"/>
<line x1="396.77" y1="423.9" x2="396.29" y2="421.75" stroke="#555" stroke-width="0.25"/>
<line x1="386.31" y1="433.82" x2="387.14" y2="431.79" stroke="#555" stroke-width="0.25"/>
<line x1="393.65" y1="434.22" x2="394.54" y2="432.2" stroke="#555" stroke-width="0.25"/>
<line x1="389.63" y1="427.95" x2="390.91" y2="426.16" stroke="#555" stroke-width="0.25"/>
<line x1="391.76" y1="431.47" x2="392.1" y2="429.3" stroke="#555" stroke-width="0.25"/>
<line x1="391.86" y1="426.76" x2="393.09" y2="424.93" stroke="#555" stroke-width="0.25"/>
<line x1="386.01" y1="427.79" x2="385.45" y2="425.66" stroke="#555" stroke-width="0.25"/>
<line x1="389.64" y1="430.81" x2="388.6" y2="428.87" stroke="#555" stroke-width="0.25"/>
<line x1="384.46" y1="413.31" x2="383.45" y2="411.35" stroke="#555" stroke-width="0.25"/>
<line x1="399.09" y1="433.41" x2="399.2" y2="431.22" stroke="#555" stroke-width="0.25"/>
<line x1="386.8" y1="431.05" x2="387.09" y2="428.87" stroke="#555" stroke-width="0.25"/>
<line x1="390.83" y1="424.11" x2="390.59" y2="421.92" stroke="#555" stroke-width="0.25"/>
<line x1="396.53" y1="432.82" x2="395.19" y2="431.07" stroke="#555" stroke-width="0.25"/>
<line x1="382.13" y1="429.39" x2="381.04" y2="427.47" stroke="#555" stroke-width="0.25"/>
<line x1="387.99" y1="416.85" x2="388.39" y2="414.69" stroke="#555" stroke-width="0.25"/>
<line x1="389.4" y1="426.69" x2="389.2" y2="424.5" stroke="#555" stroke-width="0.25"/>
<line x1="393.11" y1="436.78" x2="392.49" y2="434.67" stroke="#555" stroke-width="0.25"/>
<line x1="375.87" y1="434.53" x2="376.91" y2="432.59" stroke="#555" stroke-width="0.25"/>
<line x1="392.91" y1="428.17" x2="392.88" y2="425.97" stroke="#555" stroke-width="0.25"/>
<line x1="388.47" y1="423.34" x2="387.84" y2="421.23" stroke="#555" stroke-width="0.25"/>
<line x1="387.33" y1="430.6" x2="386.96" y2="428.43" stroke="#555" stroke-width="0.25"/>
<line x1="398.1" y1="428.08" x2="398.49" y2="425.91" stroke="#555" stroke-width="0.25"/>
<line x1="385.73" y1="429.02" x2="384.53" y2="427.17" stroke="#555" stroke-width="0.25"/>
<line x1="388.12" y1="437.64" x2="389.2" y2="435.73" stroke="#555" stroke-width="0.25"/>
<line x1="384.93" y1="435.72" x2="385.76" y2="433.68" stroke="#555" stroke-width="0.25"/>
<line x1="387.19" y1="422.06" x2="387.97" y2="420" stroke="#555" stroke-width="0.25"/>
<line x1="385.32" y1="434.91" x2="384.66" y2="432.81" stroke="#555" stroke-width="0.25"/>
<line x1="382.86" y1="429.77" x2="383.44" y2="427.65" stroke="#555" stroke-width="0.25"/>
<line x1="386.64" y1="440.61" x2="387.09" y2="438.46" stroke="#555" stroke-width="0.25"/>
<line x1="388.52" y1="428.63" x2="388.66" y2="426.43" stroke="#555" stroke-width="0.25"/>
<line x1="388.98" y1="436.46" x2="388.86" y2="434.26" stroke="#555" stroke-width="0.25"/>
<line x1="391.11" y1="422.4" x2="392.01" y2="420.39" stroke="#555" stroke-width="0.25"/>
<line x1="386.01" y1="434.87" x2="386.73" y2="432.79" stroke="#555" stroke-width="0.25"/>
<line x1="390.58" y1="424.91" x2="391.59" y2="422.96" stroke="#555" stroke-width="0.25"/>
<line x1="392.76" y1="423.43" x2="394.12" y2="421.7" stroke="#555" stroke-width="0.25"/>
<line x1="393.19" y1="427.37" x2="393.28" y2="425.17" stroke="#555" stroke-width="0.25"/>
<line x1="392.44" y1="437.23" x2="393.71" y2="435.43" stroke="#555" stroke-width="0.25"/>
<line x1="383.54" y1="430.09" x2="384.2" y2="428" stroke="#555" stroke-width="0.25"/>
<line x1="388.73" y1="425.95" x2="389.57" y2="423.92" stroke="#555" stroke-width="0.25"/>
<line x1="384.34" y1="425.4" x2="384.1" y2="423.21" stroke="#555" stroke-width="0.25"/>
<line x1="384.57" y1="422.94" x2="384.99" y2="420.78" stroke="#555" stroke-width="0.25"/>
<line x1="388.84" y1="427.84" x2="387.83" y2="425.88" stroke="#555" stroke-width="0.25"/>
<line x1="384.14" y1="431.62" x2="383.29" y2="429.59" stroke="#555" stroke-width="0.25"/>
<line x1="387.01" y1="422.5" x2="385.69" y2="420.74" stroke="#555" stroke-width="0.25"/>
<line x1="386.46" y1="429.64" x2="385.18" y2="427.85" stroke="#555" stroke-width="0.25"/>
<line x1="391.1" y1="432.25" x2="390.15" y2="430.27" stroke="#555" stroke-width="0.25"/>
<line x1="389.34" y1="430.26" x2="389.23" y2="428.07" stroke="#555" stroke-width="0.25"/>
<line x1="385.38" y1="433.7" x2="385.66" y2="431.52" stroke="#555" stroke-width="0.25"/>
<line x1="389.59" y1="439.77" x2="388.18" y2="438.09" stroke="#555" stroke-width="0.25"/>
<line x1="386.59" y1="431.26" x2="386.31" y2="429.08" stroke="#555" stroke-width="0.25"/>
<line x1="394.09" y1="435.24" x2="393.71" y2="433.08" stroke="#555" stroke-width="0.25"/>
<line x1="393.84" y1="430.55" x2="392.66" y2="428.69" stroke="#555" stroke-width="0.25"/>
<line x1="385.85" y1="427.72" x2="386.1" y2="425.54" stroke="#555" stroke-width="0.25"/>
<line x1="395.42" y1="426.61" x2="395.18" y2="424.42" stroke="#555" stroke-width="0.25"/>
<line x1="390.99" y1="422.38" x2="390.59" y2="420.22" stroke="#555" stroke-width="0.25"/>
<line x1="392.04" y1="434.24" x2="392.24" y2="432.05" stroke="#555" stroke-width="0.25"/>
<line x1="398.11" y1="425.52" x2="398.44" y2="423.34" stroke="#555" stroke-width="0.25"/>
<line x1="384.48" y1="437.52" x2="383.06" y2="435.83" stroke="#555" stroke-width="0.25"/>
<line x1="392.62" y1="433.05" x2="392.97" y2="430.88" stroke="#555" stroke-width="0.25"/>
<line x1="392.22" y1="434.45" x2="393.36" y2="432.57" stroke="#555" stroke-width="0.25"/>
<line x1="386.28" y1="432.74" x2="385.46" y2="430.7" stroke="#555" stroke-width="0.25"/>
<line x1="386.51" y1="441.95" x2="386.14" y2="439.78" stroke="#555" stroke-width="0.25"/>
<line x1="396.73" y1="426.32" x2="397.03" y2="424.14" stroke="#555" stroke-width="0.25"/>
<line x1="388.37" y1="443.05" x2="388.36" y2="440.85" stroke="#555" stroke-width="0.25"/>
<line x1="386.28" y1="431.22" x2="387.66" y2="429.51" stroke="#555" stroke-width="0.25"/>
<line x1="386.05" y1="429.21" x2="385.98" y2="427.01" stroke="#555" stroke-width="0.25"/>
<line x1="392.62" y1="433.83" x2="392.44" y2="431.64" stroke="#555" stroke-width="0.25"/>
<line x1="387.32" y1="437.41" x2="388.29" y2="435.43" stroke="#555" stroke-width="0.25"/>
<line x1="393.42" y1="429.51" x2="392.74" y2="427.42" stroke="#555" stroke-width="0.25"/>
<line x1="394.77" y1="425.55" x2="394" y2="423.49" stroke="#555" stroke-width="0.25"/>
<line x1="388.77" y1="431.88" x2="390.16" y2="430.18" stroke="#555" stroke-width="0.25"/>
<line x1="387.68" y1="435.59" x2="387.6" y2="433.39" stroke="#555" stroke-width="0.25"/>
<line x1="385.99" y1="423.63" x2="386.73" y2="421.55" stroke="#555" stroke-width="0.25"/>
<line x1="393.48" y1="434.72" x2="392.88" y2="432.6" stroke="#555" stroke-width="0.25"/>
<line x1="385.81" y1="428.05" x2="385.2" y2="425.94" stroke="#555" stroke-width="0.25"/>
<line x1="385.05" y1="427.96" x2="384.62" y2="425.8" stroke="#555" stroke-width="0.25"/>
<line x1="388.85" y1="422.32" x2="387.52" y2="420.57" stroke="#555" stroke-width="0.25"/>
<line x1="388.94" y1="434.51" x2="390.15" y2="432.68" stroke="#555" stroke-width="0.25"/>
<line x1="392.45" y1="424.93" x2="391.06" y2="423.22" stroke="#555" stroke-width="0.25"/>
<line x1="389.67" y1="423.8" x2="389.91" y2="421.61" stroke="#555" stroke-width="0.25"/>
<line x1="387.68" y1="422.17" x2="387.62" y2="419.97" stroke="#555" stroke-width="0.25"/>
<line x1="392.02" y1="426.4" x2="391.69" y2="424.23" stroke="#555" stroke-width="0.25"/>
<line x1="390.42" y1="426.35" x2="389.8" y2="424.24" stroke="#555" stroke-width="0.25"/>
<line x1="389.64" y1="427.38" x2="390.64" y2="425.42" stroke="#555" stroke-width="0.25"/>
<line x1="387.69" y1="423.99" x2="387.04" y2="421.89" stroke="#555" stroke-width="0.25"/>
<line x1="390.52" y1="418.21" x2="389.46" y2="416.28" stroke="#555" stroke-width="0.25"/>
<line x1="384.5" y1="429.85" x2="384.49" y2="427.65" stroke="#555" stroke-width="0.25"/>
<line x1="387.99" y1="431.52" x2="388.25" y2="429.34" stroke="#555" stroke-width="0.25"/>
<line x1="389.51" y1="427.26" x2="388.7" y2="425.21" stroke="#555" stroke-width="0.25"/>
<line x1="391.7" y1="420.98" x2="392.2" y2="418.83" stroke="#555" stroke-width="0.25"/>
<line x1="394.69" y1="430.28" x2="396.06" y2="428.56" stroke="#555" stroke-width="0.25"/>
<line x1="394.6" y1="428.92" x2="393.3" y2="427.14" stroke="#555" stroke-width="0.25"/>
<line x1="390.38" y1="426.05" x2="390.83" y2="423.9" stroke="#555" stroke-width="0.25"/>
<line x1="394.43" y1="426.67" x2="393.35" y2="424.75" stroke="#555" stroke-width="0.25"/>
<line x1="386.88" y1="439.79" x2="385.84" y2="437.85" stroke="#555" stroke-width="0.25"/>
<line x1="386.14" y1="425.69" x2="385.14" y2="423.73" stroke="#555" stroke-width="0.25"/>
<path d="M386.6,446.6 Q385.6,436 387.4,429.6 Q390.6,426.2 394.0,429.6 Q396.0,437 395.4,446.6 Z" fill="#a8a8a8" stroke="#2a2a2a" stroke-width="0.75"/>
<path d="M388.6,444.0 Q388.0,436 389.2,431.0 Q391.0,429.2 392.8,431.0 Q394.0,437 393.4,444.0 Z" fill="#f2f2f2" stroke="#555" stroke-width="0.45"/>
<path d="M389.8,442.6 Q389.6,437 390.4,433.6 Q391.2,432.4 392.0,433.6 Q392.6,437 392.4,442.6 Z" fill="#d0d0d0" stroke="#666" stroke-width="0.35"/>
<path d="M374.6,446.6 Q374.2,439.6 379.4,438.4 Q385.4,438.4 386.6,442.2 Q386.8,446.8 380.2,446.8 Z" fill="#a8a8a8" stroke="#2a2a2a" stroke-width="0.75"/>
<path d="M376.6,445.2 Q376.6,442 379.4,441.6 Q382.4,441.8 382.6,443.6 Q382.4,445.6 379.4,445.4 Z" fill="#f2f2f2" stroke="#555" stroke-width="0.4"/>
<rect x="370.3" y="436.4" width="15" height="13.5" fill="none" stroke="#4a42a0" stroke-width="0.85"/>
<rect x="418.3" y="415.6" width="37.5" height="34.8" fill="#fff" stroke="#222" stroke-width="0.9" rx="0.6"/>
<ellipse cx="430.5" cy="433" rx="6.5" ry="10" fill="url(#fz)" stroke="none" stroke-width="0.5"/>
<line x1="427.9" y1="430.07" x2="426.75" y2="428.19" stroke="#777" stroke-width="0.25"/>
<line x1="427.71" y1="432.2" x2="426.44" y2="430.41" stroke="#777" stroke-width="0.25"/>
<line x1="424.39" y1="427.62" x2="425.51" y2="425.73" stroke="#777" stroke-width="0.25"/>
<line x1="430.48" y1="434.58" x2="429.91" y2="432.45" stroke="#777" stroke-width="0.25"/>
<line x1="425.88" y1="427.93" x2="427.14" y2="426.13" stroke="#777" stroke-width="0.25"/>
<line x1="427.83" y1="432.08" x2="428.43" y2="429.97" stroke="#777" stroke-width="0.25"/>
<line x1="430.8" y1="436.17" x2="430.82" y2="433.97" stroke="#777" stroke-width="0.25"/>
<line x1="431.51" y1="427.94" x2="431.88" y2="425.78" stroke="#777" stroke-width="0.25"/>
<line x1="428.21" y1="436.68" x2="427.46" y2="434.61" stroke="#777" stroke-width="0.25"/>
<line x1="428.51" y1="425.57" x2="427.43" y2="423.65" stroke="#777" stroke-width="0.25"/>
<line x1="428.76" y1="435.31" x2="429.48" y2="433.23" stroke="#777" stroke-width="0.25"/>
<line x1="430.4" y1="437.42" x2="430.88" y2="435.27" stroke="#777" stroke-width="0.25"/>
<line x1="432.08" y1="434.41" x2="430.88" y2="432.56" stroke="#777" stroke-width="0.25"/>
<line x1="431.16" y1="435.27" x2="430.37" y2="433.21" stroke="#777" stroke-width="0.25"/>
<line x1="430.79" y1="427.4" x2="430.25" y2="425.27" stroke="#777" stroke-width="0.25"/>
<line x1="428.7" y1="429.95" x2="429.38" y2="427.85" stroke="#777" stroke-width="0.25"/>
<line x1="430.01" y1="431.85" x2="431.31" y2="430.08" stroke="#777" stroke-width="0.25"/>
<line x1="427.67" y1="428.1" x2="426.54" y2="426.21" stroke="#777" stroke-width="0.25"/>
<line x1="432.58" y1="429.86" x2="433.54" y2="427.88" stroke="#777" stroke-width="0.25"/>
<line x1="431" y1="435.85" x2="430.56" y2="433.69" stroke="#777" stroke-width="0.25"/>
<line x1="428.74" y1="435.03" x2="429.09" y2="432.86" stroke="#777" stroke-width="0.25"/>
<line x1="426.89" y1="434.62" x2="425.82" y2="432.69" stroke="#777" stroke-width="0.25"/>
<line x1="430.47" y1="425.32" x2="431.38" y2="423.32" stroke="#777" stroke-width="0.25"/>
<line x1="423.5" y1="434.57" x2="423.56" y2="432.37" stroke="#777" stroke-width="0.25"/>
<line x1="425.45" y1="427.77" x2="426.17" y2="425.7" stroke="#777" stroke-width="0.25"/>
<line x1="427.5" y1="432.24" x2="426.16" y2="430.49" stroke="#777" stroke-width="0.25"/>
<line x1="428.73" y1="432.22" x2="429.87" y2="430.34" stroke="#777" stroke-width="0.25"/>
<line x1="423.8" y1="431.91" x2="422.38" y2="430.22" stroke="#777" stroke-width="0.25"/>
<line x1="422.72" y1="432.76" x2="423.09" y2="430.59" stroke="#777" stroke-width="0.25"/>
<line x1="425.68" y1="433.18" x2="424.51" y2="431.32" stroke="#777" stroke-width="0.25"/>
<line x1="429.43" y1="433.19" x2="429.04" y2="431.02" stroke="#777" stroke-width="0.25"/>
<line x1="424.16" y1="437.1" x2="423.13" y2="435.16" stroke="#777" stroke-width="0.25"/>
<line x1="428.44" y1="434.63" x2="427.44" y2="432.67" stroke="#777" stroke-width="0.25"/>
<line x1="428.03" y1="434.21" x2="427.97" y2="432.01" stroke="#777" stroke-width="0.25"/>
<line x1="434.74" y1="433.05" x2="434.33" y2="430.89" stroke="#777" stroke-width="0.25"/>
<line x1="432.45" y1="428.39" x2="432.98" y2="426.26" stroke="#777" stroke-width="0.25"/>
<line x1="421.85" y1="432.92" x2="420.73" y2="431.02" stroke="#777" stroke-width="0.25"/>
<line x1="427.36" y1="427.75" x2="427.89" y2="425.61" stroke="#777" stroke-width="0.25"/>
<line x1="428.28" y1="428.34" x2="427.39" y2="426.33" stroke="#777" stroke-width="0.25"/>
<line x1="430.5" y1="431.51" x2="429.28" y2="429.68" stroke="#777" stroke-width="0.25"/>
<line x1="422.36" y1="438.06" x2="421.95" y2="435.9" stroke="#777" stroke-width="0.25"/>
<line x1="427.31" y1="435.68" x2="426.65" y2="433.58" stroke="#777" stroke-width="0.25"/>
<line x1="428.01" y1="423.88" x2="427.01" y2="421.92" stroke="#777" stroke-width="0.25"/>
<line x1="428.75" y1="437.71" x2="430.02" y2="435.91" stroke="#777" stroke-width="0.25"/>
<line x1="426.69" y1="427.21" x2="428.05" y2="425.48" stroke="#777" stroke-width="0.25"/>
<line x1="429.49" y1="431.06" x2="430.33" y2="429.03" stroke="#777" stroke-width="0.25"/>
<line x1="427.78" y1="431.73" x2="427.93" y2="429.54" stroke="#777" stroke-width="0.25"/>
<line x1="431.88" y1="430.64" x2="431.42" y2="428.49" stroke="#777" stroke-width="0.25"/>
<line x1="429.39" y1="431.96" x2="430.56" y2="430.1" stroke="#777" stroke-width="0.25"/>
<line x1="421.95" y1="431.59" x2="420.66" y2="429.8" stroke="#777" stroke-width="0.25"/>
<line x1="428.54" y1="432.45" x2="428.22" y2="430.27" stroke="#777" stroke-width="0.25"/>
<line x1="430.5" y1="432.28" x2="430.21" y2="430.09" stroke="#777" stroke-width="0.25"/>
<line x1="428.19" y1="432.37" x2="426.86" y2="430.62" stroke="#777" stroke-width="0.25"/>
<line x1="430.23" y1="430.5" x2="430.26" y2="428.3" stroke="#777" stroke-width="0.25"/>
<line x1="425.68" y1="434.19" x2="424.47" y2="432.35" stroke="#777" stroke-width="0.25"/>
<line x1="427.98" y1="432.98" x2="428.11" y2="430.78" stroke="#777" stroke-width="0.25"/>
<line x1="431.83" y1="428.12" x2="432.88" y2="426.18" stroke="#777" stroke-width="0.25"/>
<line x1="428.62" y1="431.82" x2="428.74" y2="429.63" stroke="#777" stroke-width="0.25"/>
<line x1="424.87" y1="431.49" x2="424.49" y2="429.33" stroke="#777" stroke-width="0.25"/>
<line x1="425.32" y1="425.88" x2="426.52" y2="424.04" stroke="#777" stroke-width="0.25"/>
<path d="M430.6,446.0 Q429.6,434 431.0,426.0 Q435.8,422.2 440.6,426.0 Q442.0,436 441.2,446.0 Q436,447.4 430.6,446.0 Z" fill="#a8a8a8" stroke="#2a2a2a" stroke-width="0.75"/>
<path d="M432.4,444.4 Q431.8,434 432.8,427.6 Q435.8,425.2 438.8,427.6 Q439.8,436 439.2,444.4 Z" fill="#e6e6e6" stroke="#555" stroke-width="0.45"/>
<path d="M434.4,443.2 Q434.0,434 434.8,429.4 Q435.9,428.4 437.0,429.4 Q437.6,436 437.2,443.2 Z" fill="#aaa" stroke="#666" stroke-width="0.35"/>
<circle cx="435.9" cy="443.2" r="0.8" fill="#fff" stroke="none" stroke-width="0.5"/>
<circle cx="435.9" cy="437.6" r="0.7" fill="#fff" stroke="none" stroke-width="0.5"/>
<circle cx="435.9" cy="433.4" r="0.6" fill="#fff" stroke="none" stroke-width="0.5"/>
<path d="M420.4,444.4 Q420.4,441.8 424.6,441.6 Q428.6,441.6 428.8,443.0 Q428.6,444.8 424.6,444.8 Z" fill="#8a8a8a" stroke="#555" stroke-width="0.4"/>
<rect x="418" y="439.5" width="11.4" height="10.4" fill="none" stroke="#4a42a0" stroke-width="0.85"/>
<line x1="361.6" y1="456.2" x2="361.6" y2="449.2" stroke="#111" stroke-width="0.85"/>
<polygon points="361.6,446.4 363,449.2 360.2,449.2" fill="#111" stroke="none" stroke-width="0.5"/>
<line x1="361.2" y1="456.2" x2="371.6" y2="456.2" stroke="#111" stroke-width="0.85"/>
<polygon points="374.4,456.2 371.6,457.6 371.6,454.8" fill="#111" stroke="none" stroke-width="0.5"/>
<text x="0" y="2.77" font-size="7.7" text-anchor="middle" fill="#222" transform="translate(355.4 448.6) rotate(-90)" stroke="#222" stroke-width="0.05" textLength="20.5" lengthAdjust="spacingAndGlyphs">CD34</text>
<text x="359.6" y="464.57" font-size="7.7" text-anchor="start" fill="#222" textLength="23.5" lengthAdjust="spacingAndGlyphs" stroke="#222" stroke-width="0.05">GPR56</text>
</svg>
</body></html>
